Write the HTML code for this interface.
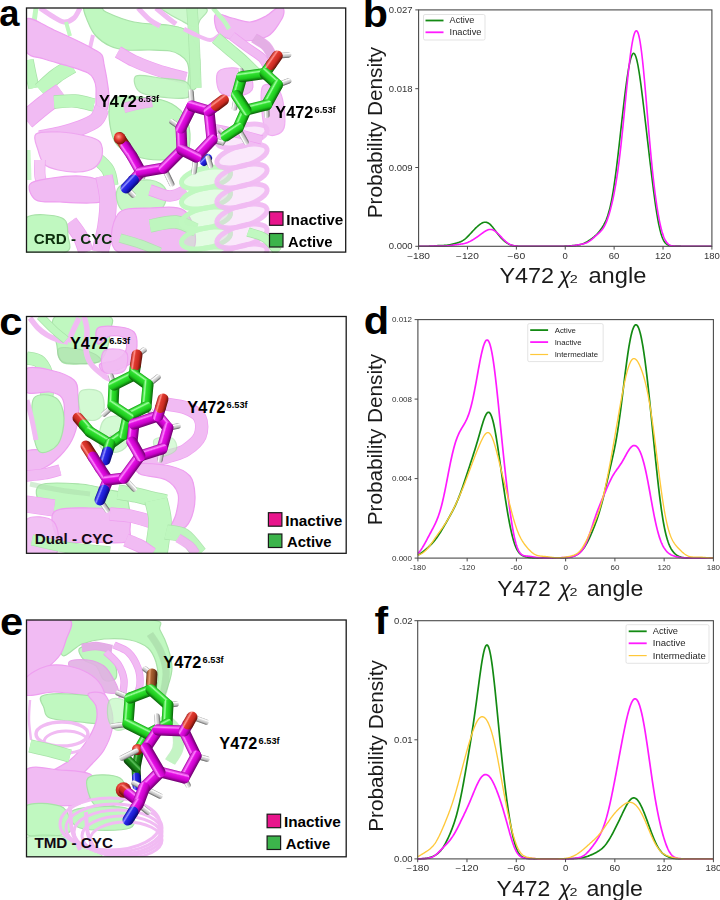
<!DOCTYPE html>
<html><head><meta charset="utf-8"><title>Figure</title>
<style>
html,body{margin:0;padding:0;background:#fff;width:720px;height:900px;overflow:hidden;}
svg{display:block;font-family:"Liberation Sans", sans-serif;}
</style></head><body>
<svg width="720" height="900" viewBox="0 0 720 900">
<g font-weight="bold" font-size="38.5" fill="#000" text-anchor="middle">
<text x="9.4" y="26.3" textLength="20.2" lengthAdjust="spacingAndGlyphs" font-size="37">a</text>
<text x="375.3" y="26.6" textLength="25.2" lengthAdjust="spacingAndGlyphs">b</text>
<text x="10.9" y="334.6" textLength="23.2" lengthAdjust="spacingAndGlyphs">c</text>
<text x="376.4" y="334.4" textLength="25.4" lengthAdjust="spacingAndGlyphs">d</text>
<text x="11.7" y="634.7" textLength="23.2" lengthAdjust="spacingAndGlyphs">e</text>
<text x="381.4" y="634.3" textLength="13.6" lengthAdjust="spacingAndGlyphs">f</text>
</g>
<defs><clipPath id="ca"><rect x="26.5" y="8" width="319.2" height="244.1"/></clipPath><clipPath id="cc"><rect x="26.5" y="316.5" width="319.7" height="236.8"/></clipPath><clipPath id="ce"><rect x="26.5" y="620" width="319.7" height="236.8"/></clipPath><filter id="soft" x="-5%" y="-5%" width="110%" height="110%"><feGaussianBlur stdDeviation="0.6"/></filter></defs>
<g clip-path="url(#ca)"><g filter="url(#soft)">
<path d="M84.0,6.0 C82.0,8.7 86.0,17.0 88.0,22.0 C90.0,27.0 92.3,32.0 96.0,36.0 C99.7,40.0 105.0,43.7 110.0,46.0 C115.0,48.3 119.3,49.3 126.0,50.0 C132.7,50.7 142.7,49.8 150.0,50.0 C157.3,50.2 165.0,50.2 170.0,51.0 C175.0,51.8 177.2,53.2 180.0,55.0 C182.8,56.8 185.5,59.2 187.0,62.0 C188.5,64.8 188.8,67.7 189.0,72.0 C189.2,76.3 186.8,85.3 188.0,88.0 C189.2,90.7 194.0,91.0 196.0,88.0 C198.0,85.0 199.7,76.3 200.0,70.0 C200.3,63.7 199.3,55.3 198.0,50.0 C196.7,44.7 194.3,41.5 192.0,38.0 C189.7,34.5 188.0,31.2 184.0,29.0 C180.0,26.8 176.3,26.2 168.0,25.0 C159.7,23.8 144.3,24.2 134.0,22.0 C123.7,19.8 111.7,14.7 106.0,12.0 C100.3,9.3 103.7,7.0 100.0,6.0 C96.3,5.0 86.0,3.3 84.0,6.0 Z" fill="#c0f8c0" opacity="1.00" stroke="#a8e2a8" stroke-width="1.2"/>
<path d="M160.0,6.0 C153.5,6.7 162.7,9.7 166.0,12.0 C169.3,14.3 175.2,17.5 180.0,20.0 C184.8,22.5 191.7,27.0 195.0,27.0 C198.3,27.0 198.3,23.2 200.0,20.0 C201.7,16.8 211.7,10.3 205.0,8.0 C198.3,5.7 166.5,5.3 160.0,6.0 Z" fill="#cdf9cd" opacity="1.00" stroke="#b0e4b0" stroke-width="1.2"/>
<path d="M192.0,8.0 C192.3,13.3 193.3,26.7 194.0,40.0 C194.7,53.3 195.7,80.0 196.0,88.0" fill="none" stroke="#a8e2a8" stroke-width="11.4" stroke-linecap="butt" stroke-linejoin="round" opacity="0.85"/><path d="M192.0,8.0 C192.3,13.3 193.3,26.7 194.0,40.0 C194.7,53.3 195.7,80.0 196.0,88.0" fill="none" stroke="#c0f8c0" stroke-width="10.0" stroke-linecap="butt" stroke-linejoin="round" opacity="0.85"/>
<path d="M216.0,14.0 C218.7,12.3 226.3,16.7 232.0,18.0 C237.7,19.3 244.3,22.3 250.0,22.0 C255.7,21.7 261.0,18.7 266.0,16.0 C271.0,13.3 277.0,6.7 280.0,6.0 C283.0,5.3 284.0,9.3 284.0,12.0 C284.0,14.7 282.7,18.0 280.0,22.0 C277.3,26.0 273.8,32.8 268.0,36.0 C262.2,39.2 252.3,40.8 245.0,41.0 C237.7,41.2 228.8,39.2 224.0,37.0 C219.2,34.8 217.3,31.8 216.0,28.0 C214.7,24.2 213.3,15.7 216.0,14.0 Z" fill="#f1bbf3" opacity="1.00" stroke="#ee9ff0" stroke-width="1.2"/>
<path d="M232.0,36.0 C234.7,38.0 243.0,44.3 248.0,48.0 C253.0,51.7 258.7,54.7 262.0,58.0 C265.3,61.3 267.0,66.3 268.0,68.0" fill="none" stroke="#ee9ff0" stroke-width="9.4" stroke-linecap="butt" stroke-linejoin="round" opacity="1.00"/><path d="M232.0,36.0 C234.7,38.0 243.0,44.3 248.0,48.0 C253.0,51.7 258.7,54.7 262.0,58.0 C265.3,61.3 267.0,66.3 268.0,68.0" fill="none" stroke="#f1bbf3" stroke-width="8.0" stroke-linecap="butt" stroke-linejoin="round" opacity="1.00"/>
<path d="M254.0,38.0 C256.0,39.3 263.0,43.0 266.0,46.0 C269.0,49.0 271.0,54.3 272.0,56.0" fill="none" stroke="#e69ae8" stroke-width="10.4" stroke-linecap="butt" stroke-linejoin="round" opacity="0.80"/><path d="M254.0,38.0 C256.0,39.3 263.0,43.0 266.0,46.0 C269.0,49.0 271.0,54.3 272.0,56.0" fill="none" stroke="#e2b0e4" stroke-width="9.0" stroke-linecap="butt" stroke-linejoin="round" opacity="0.80"/>
<path d="M190.0,32.0 C193.3,33.3 204.7,39.8 210.0,40.0 C215.3,40.2 218.3,34.7 222.0,33.0 C225.7,31.3 230.3,30.5 232.0,30.0" fill="none" stroke="#f1bbf3" stroke-width="4.0" stroke-linecap="butt" stroke-linejoin="round" opacity="1.00"/>
<path d="M213.0,8.0 C214.8,10.2 221.3,17.5 224.0,21.0 C226.7,24.5 228.2,27.7 229.0,29.0" fill="none" stroke="#c0f8c0" stroke-width="4.5" stroke-linecap="butt" stroke-linejoin="round" opacity="1.00"/>
<path d="M40.0,8.0 C42.0,9.3 48.0,13.7 52.0,16.0 C56.0,18.3 60.3,21.7 64.0,22.0 C67.7,22.3 71.3,20.3 74.0,18.0 C76.7,15.7 79.0,9.7 80.0,8.0" fill="none" stroke="#f1bbf3" stroke-width="5.0" stroke-linecap="butt" stroke-linejoin="round" opacity="1.00"/>
<path d="M138.0,8.0 C140.0,10.0 146.3,17.0 150.0,20.0 C153.7,23.0 158.3,25.0 160.0,26.0" fill="none" stroke="#f1bbf3" stroke-width="5.0" stroke-linecap="butt" stroke-linejoin="round" opacity="1.00"/>
<path d="M156.0,8.0 C158.0,9.7 164.7,15.3 168.0,18.0 C171.3,20.7 174.7,23.0 176.0,24.0" fill="none" stroke="#f1bbf3" stroke-width="5.0" stroke-linecap="butt" stroke-linejoin="round" opacity="1.00"/>
<path d="M184.0,29.0 L196.0,35.0" fill="none" stroke="#f1bbf3" stroke-width="4.5" stroke-linecap="butt" stroke-linejoin="round" opacity="1.00"/>
<path d="M93.0,35.0 L90.0,48.0" fill="none" stroke="#f1bbf3" stroke-width="4.0" stroke-linecap="butt" stroke-linejoin="round" opacity="1.00"/>
<path d="M36.0,8.0 L34.0,22.0" fill="none" stroke="#c0f8c0" stroke-width="5.0" stroke-linecap="butt" stroke-linejoin="round" opacity="1.00"/>
<path d="M66.0,22.0 L70.0,36.0" fill="none" stroke="#c0f8c0" stroke-width="4.0" stroke-linecap="butt" stroke-linejoin="round" opacity="1.00"/>
<path d="M216.0,38.0 C218.3,40.0 225.3,46.0 230.0,50.0 C234.7,54.0 239.7,58.0 244.0,62.0 C248.3,66.0 254.0,72.0 256.0,74.0" fill="none" stroke="#a8e2a8" stroke-width="12.4" stroke-linecap="butt" stroke-linejoin="round" opacity="1.00"/><path d="M216.0,38.0 C218.3,40.0 225.3,46.0 230.0,50.0 C234.7,54.0 239.7,58.0 244.0,62.0 C248.3,66.0 254.0,72.0 256.0,74.0" fill="none" stroke="#c0f8c0" stroke-width="11.0" stroke-linecap="butt" stroke-linejoin="round" opacity="1.00"/>
<path d="M218.0,72.0 C220.7,68.0 230.7,67.3 236.0,68.0 C241.3,68.7 247.3,72.3 250.0,76.0 C252.7,79.7 254.0,86.7 252.0,90.0 C250.0,93.3 243.3,95.7 238.0,96.0 C232.7,96.3 223.3,96.0 220.0,92.0 C216.7,88.0 215.3,76.0 218.0,72.0 Z" fill="#f1bbf3" opacity="0.90" stroke="#ee9ff0" stroke-width="1.2"/>
<path d="M262.0,88.0 C264.3,81.3 276.3,85.3 280.0,92.0 C283.7,98.7 286.3,121.3 284.0,128.0 C281.7,134.7 269.7,138.7 266.0,132.0 C262.3,125.3 259.7,94.7 262.0,88.0 Z" fill="#f1bbf3" opacity="0.85" stroke="#ee9ff0" stroke-width="1.2"/>
<path d="M28.0,60.0 C28.5,62.5 30.0,70.3 31.0,75.0 C32.0,79.7 33.5,85.8 34.0,88.0" fill="none" stroke="#a8e2a8" stroke-width="11.4" stroke-linecap="butt" stroke-linejoin="round" opacity="1.00"/><path d="M28.0,60.0 C28.5,62.5 30.0,70.3 31.0,75.0 C32.0,79.7 33.5,85.8 34.0,88.0" fill="none" stroke="#c0f8c0" stroke-width="10.0" stroke-linecap="butt" stroke-linejoin="round" opacity="1.00"/>
<path d="M40.0,90.0 C42.7,87.7 50.7,80.0 56.0,76.0 C61.3,72.0 69.3,67.7 72.0,66.0" fill="none" stroke="#a8e2a8" stroke-width="15.4" stroke-linecap="butt" stroke-linejoin="round" opacity="1.00"/><path d="M40.0,90.0 C42.7,87.7 50.7,80.0 56.0,76.0 C61.3,72.0 69.3,67.7 72.0,66.0" fill="none" stroke="#c0f8c0" stroke-width="14.0" stroke-linecap="butt" stroke-linejoin="round" opacity="1.00"/>
<path d="M26.0,19.0 C30.7,15.5 44.7,26.0 54.0,30.0 C63.3,34.0 75.2,39.7 82.0,43.0 C88.8,46.3 91.7,48.0 95.0,50.0 C98.3,52.0 100.5,52.7 102.0,55.0 C103.5,57.3 103.2,59.8 104.0,64.0 C104.8,68.2 106.2,74.3 107.0,80.0 C107.8,85.7 109.2,92.7 109.0,98.0 C108.8,103.3 107.8,108.7 106.0,112.0 C104.2,115.3 99.7,119.3 98.0,118.0 C96.3,116.7 96.3,109.0 96.0,104.0 C95.7,99.0 96.3,92.0 96.0,88.0 C95.7,84.0 95.3,82.5 94.0,80.0 C92.7,77.5 92.3,75.3 88.0,73.0 C83.7,70.7 75.3,68.3 68.0,66.0 C60.7,63.7 51.0,61.5 44.0,59.0 C37.0,56.5 29.0,57.7 26.0,51.0 C23.0,44.3 21.3,22.5 26.0,19.0 Z" fill="#f1bbf3" opacity="1.00" stroke="#ee9ff0" stroke-width="1.2"/>
<path d="M102.0,108.0 C101.0,110.0 99.7,116.7 96.0,120.0 C92.3,123.3 86.0,125.7 80.0,128.0 C74.0,130.3 66.7,132.3 60.0,134.0 C53.3,135.7 43.3,137.3 40.0,138.0" fill="none" stroke="#ee9ff0" stroke-width="15.4" stroke-linecap="butt" stroke-linejoin="round" opacity="1.00"/><path d="M102.0,108.0 C101.0,110.0 99.7,116.7 96.0,120.0 C92.3,123.3 86.0,125.7 80.0,128.0 C74.0,130.3 66.7,132.3 60.0,134.0 C53.3,135.7 43.3,137.3 40.0,138.0" fill="none" stroke="#f1bbf3" stroke-width="14.0" stroke-linecap="butt" stroke-linejoin="round" opacity="1.00"/>
<path d="M26.0,120.0 C29.0,117.5 38.0,109.7 44.0,105.0 C50.0,100.3 59.0,94.2 62.0,92.0" fill="none" stroke="#ee9ff0" stroke-width="19.4" stroke-linecap="butt" stroke-linejoin="round" opacity="1.00"/><path d="M26.0,120.0 C29.0,117.5 38.0,109.7 44.0,105.0 C50.0,100.3 59.0,94.2 62.0,92.0" fill="none" stroke="#f1bbf3" stroke-width="18.0" stroke-linecap="butt" stroke-linejoin="round" opacity="1.00"/>
<path d="M54.0,102.0 C57.5,101.8 68.3,100.5 75.0,101.0 C81.7,101.5 90.8,104.3 94.0,105.0" fill="none" stroke="#a8e2a8" stroke-width="13.4" stroke-linecap="butt" stroke-linejoin="round" opacity="1.00"/><path d="M54.0,102.0 C57.5,101.8 68.3,100.5 75.0,101.0 C81.7,101.5 90.8,104.3 94.0,105.0" fill="none" stroke="#c0f8c0" stroke-width="12.0" stroke-linecap="butt" stroke-linejoin="round" opacity="1.00"/>
<path d="M112.0,100.0 C118.0,93.0 140.0,97.3 150.0,98.0 C160.0,98.7 166.0,100.7 172.0,104.0 C178.0,107.3 183.0,112.0 186.0,118.0 C189.0,124.0 190.3,133.7 190.0,140.0 C189.7,146.3 189.0,152.7 184.0,156.0 C179.0,159.3 168.0,160.0 160.0,160.0 C152.0,160.0 143.7,159.3 136.0,156.0 C128.3,152.7 118.0,149.3 114.0,140.0 C110.0,130.7 106.0,107.0 112.0,100.0 Z" fill="#c0f8c0" opacity="1.00" stroke="#a8e2a8" stroke-width="1.2"/>
<path d="M124.0,108.0 C126.7,107.3 135.3,105.0 140.0,104.0 C144.7,103.0 150.0,102.3 152.0,102.0" fill="none" stroke="#ee9ff0" stroke-width="10.4" stroke-linecap="butt" stroke-linejoin="round" opacity="0.80"/><path d="M124.0,108.0 C126.7,107.3 135.3,105.0 140.0,104.0 C144.7,103.0 150.0,102.3 152.0,102.0" fill="none" stroke="#f1bbf3" stroke-width="9.0" stroke-linecap="butt" stroke-linejoin="round" opacity="0.80"/>
<path d="M118.0,52.0 C120.7,53.5 128.0,58.2 134.0,61.0 C140.0,63.8 148.0,66.8 154.0,69.0 C160.0,71.2 164.7,72.5 170.0,74.0 C175.3,75.5 183.3,77.3 186.0,78.0" fill="none" stroke="#ee9ff0" stroke-width="12.4" stroke-linecap="butt" stroke-linejoin="round" opacity="1.00"/><path d="M118.0,52.0 C120.7,53.5 128.0,58.2 134.0,61.0 C140.0,63.8 148.0,66.8 154.0,69.0 C160.0,71.2 164.7,72.5 170.0,74.0 C175.3,75.5 183.3,77.3 186.0,78.0" fill="none" stroke="#f1bbf3" stroke-width="11.0" stroke-linecap="butt" stroke-linejoin="round" opacity="1.00"/>
<path d="M136.0,76.0 C139.3,73.7 151.7,77.0 160.0,78.0 C168.3,79.0 181.0,79.0 186.0,82.0 C191.0,85.0 192.7,93.3 190.0,96.0 C187.3,98.7 178.3,98.7 170.0,98.0 C161.7,97.3 145.7,95.7 140.0,92.0 C134.3,88.3 132.7,78.3 136.0,76.0 Z" fill="#c0f8c0" opacity="0.90" stroke="#a8e2a8" stroke-width="1.2"/>
<path d="M82.0,150.0 C84.3,151.3 91.7,154.7 96.0,158.0 C100.3,161.3 105.3,165.3 108.0,170.0 C110.7,174.7 111.3,183.3 112.0,186.0" fill="none" stroke="#a8e2a8" stroke-width="13.4" stroke-linecap="butt" stroke-linejoin="round" opacity="1.00"/><path d="M82.0,150.0 C84.3,151.3 91.7,154.7 96.0,158.0 C100.3,161.3 105.3,165.3 108.0,170.0 C110.7,174.7 111.3,183.3 112.0,186.0" fill="none" stroke="#c0f8c0" stroke-width="12.0" stroke-linecap="butt" stroke-linejoin="round" opacity="1.00"/>
<path d="M56.0,190.0 C59.0,190.3 68.0,191.3 74.0,192.0 C80.0,192.7 89.0,193.7 92.0,194.0" fill="none" stroke="#a8e2a8" stroke-width="11.4" stroke-linecap="butt" stroke-linejoin="round" opacity="1.00"/><path d="M56.0,190.0 C59.0,190.3 68.0,191.3 74.0,192.0 C80.0,192.7 89.0,193.7 92.0,194.0" fill="none" stroke="#c0f8c0" stroke-width="10.0" stroke-linecap="butt" stroke-linejoin="round" opacity="1.00"/>
<path d="M36.0,134.0 C39.7,131.0 51.7,131.7 60.0,132.0 C68.3,132.3 79.3,134.3 86.0,136.0 C92.7,137.7 97.3,138.7 100.0,142.0 C102.7,145.3 103.0,151.7 102.0,156.0 C101.0,160.3 98.0,165.3 94.0,168.0 C90.0,170.7 84.0,171.7 78.0,172.0 C72.0,172.3 63.7,171.3 58.0,170.0 C52.3,168.7 47.3,167.3 44.0,164.0 C40.7,160.7 39.3,155.0 38.0,150.0 C36.7,145.0 32.3,137.0 36.0,134.0 Z" fill="#f5c8f5" opacity="1.00" stroke="#eea6f0" stroke-width="1.2"/>
<path d="M40.0,160.0 C40.0,162.7 39.3,171.0 40.0,176.0 C40.7,181.0 43.3,187.7 44.0,190.0" fill="none" stroke="#eea6f0" stroke-width="11.4" stroke-linecap="butt" stroke-linejoin="round" opacity="1.00"/><path d="M40.0,160.0 C40.0,162.7 39.3,171.0 40.0,176.0 C40.7,181.0 43.3,187.7 44.0,190.0" fill="none" stroke="#f5c8f5" stroke-width="10.0" stroke-linecap="butt" stroke-linejoin="round" opacity="1.00"/>
<path d="M30.0,184.0 C32.7,180.3 43.7,179.3 52.0,178.0 C60.3,176.7 72.0,175.7 80.0,176.0 C88.0,176.3 94.7,178.0 100.0,180.0 C105.3,182.0 110.7,184.7 112.0,188.0 C113.3,191.3 111.7,197.5 108.0,200.0 C104.3,202.5 98.0,202.7 90.0,203.0 C82.0,203.3 69.0,202.5 60.0,202.0 C51.0,201.5 41.0,203.0 36.0,200.0 C31.0,197.0 27.3,187.7 30.0,184.0 Z" fill="#f1bbf3" opacity="1.00" stroke="#ee9ff0" stroke-width="1.2"/>
<path d="M104.0,176.0 C104.7,180.0 107.7,191.7 108.0,200.0 C108.3,208.3 107.3,217.3 106.0,226.0 C104.7,234.7 101.0,247.7 100.0,252.0" fill="none" stroke="#ee9ff0" stroke-width="17.4" stroke-linecap="butt" stroke-linejoin="round" opacity="1.00"/><path d="M104.0,176.0 C104.7,180.0 107.7,191.7 108.0,200.0 C108.3,208.3 107.3,217.3 106.0,226.0 C104.7,234.7 101.0,247.7 100.0,252.0" fill="none" stroke="#f1bbf3" stroke-width="16.0" stroke-linecap="butt" stroke-linejoin="round" opacity="1.00"/>
<path d="M70.0,222.0 C71.7,224.3 77.3,231.0 80.0,236.0 C82.7,241.0 85.0,249.3 86.0,252.0" fill="none" stroke="#ee9ff0" stroke-width="15.4" stroke-linecap="butt" stroke-linejoin="round" opacity="1.00"/><path d="M70.0,222.0 C71.7,224.3 77.3,231.0 80.0,236.0 C82.7,241.0 85.0,249.3 86.0,252.0" fill="none" stroke="#f1bbf3" stroke-width="14.0" stroke-linecap="butt" stroke-linejoin="round" opacity="1.00"/>
<path d="M26.0,218.0 C32.0,212.3 55.0,215.0 62.0,218.0 C69.0,221.0 67.3,230.3 68.0,236.0 C68.7,241.7 73.0,249.3 66.0,252.0 C59.0,254.7 32.7,257.7 26.0,252.0 C19.3,246.3 20.0,223.7 26.0,218.0 Z" fill="#c0f8c0" opacity="1.00" stroke="#a8e2a8" stroke-width="1.2"/>
<path d="M28.0,150.0 L29.0,180.0" fill="none" stroke="#c0f8c0" stroke-width="5.0" stroke-linecap="butt" stroke-linejoin="round" opacity="0.80"/>
<path d="M120.0,186.0 C125.3,182.0 142.3,179.3 150.0,180.0 C157.7,180.7 164.3,185.0 166.0,190.0 C167.7,195.0 166.0,206.0 160.0,210.0 C154.0,214.0 137.0,215.0 130.0,214.0 C123.0,213.0 119.7,208.7 118.0,204.0 C116.3,199.3 114.7,190.0 120.0,186.0 Z" fill="#c0f8c0" opacity="0.90" stroke="#a8e2a8" stroke-width="1.2"/>
<path d="M118.0,214.0 C123.3,206.7 138.7,208.3 150.0,208.0 C161.3,207.7 179.3,204.7 186.0,212.0 C192.7,219.3 201.3,245.3 190.0,252.0 C178.7,258.7 130.0,258.3 118.0,252.0 C106.0,245.7 112.7,221.3 118.0,214.0 Z" fill="#f1bbf3" opacity="1.00" stroke="#ee9ff0" stroke-width="1.2"/>
<path d="M150.0,190.0 C153.3,191.0 164.0,196.0 170.0,196.0 C176.0,196.0 183.3,191.0 186.0,190.0" fill="none" stroke="#ee9ff0" stroke-width="11.4" stroke-linecap="butt" stroke-linejoin="round" opacity="1.00"/><path d="M150.0,190.0 C153.3,191.0 164.0,196.0 170.0,196.0 C176.0,196.0 183.3,191.0 186.0,190.0" fill="none" stroke="#f1bbf3" stroke-width="10.0" stroke-linecap="butt" stroke-linejoin="round" opacity="1.00"/>
<path d="M150.0,226.0 C154.3,225.3 168.3,221.3 176.0,222.0 C183.7,222.7 192.7,228.7 196.0,230.0" fill="none" stroke="#a8e2a8" stroke-width="13.4" stroke-linecap="butt" stroke-linejoin="round" opacity="0.90"/><path d="M150.0,226.0 C154.3,225.3 168.3,221.3 176.0,222.0 C183.7,222.7 192.7,228.7 196.0,230.0" fill="none" stroke="#c0f8c0" stroke-width="12.0" stroke-linecap="butt" stroke-linejoin="round" opacity="0.90"/>
<path d="M120.0,238.0 C123.3,239.0 133.3,241.7 140.0,244.0 C146.7,246.3 156.7,250.7 160.0,252.0" fill="none" stroke="#a8e2a8" stroke-width="9.4" stroke-linecap="butt" stroke-linejoin="round" opacity="0.80"/><path d="M120.0,238.0 C123.3,239.0 133.3,241.7 140.0,244.0 C146.7,246.3 156.7,250.7 160.0,252.0" fill="none" stroke="#c0f8c0" stroke-width="8.0" stroke-linecap="butt" stroke-linejoin="round" opacity="0.80"/>
<ellipse cx="206" cy="178" rx="25" ry="10" transform="rotate(-12 206 178)" fill="#c0f8c0" fill-opacity="0.45" stroke="#c0f8c0" stroke-width="5"/>
<ellipse cx="206" cy="198" rx="25" ry="10" transform="rotate(-12 206 198)" fill="#c0f8c0" fill-opacity="0.45" stroke="#c0f8c0" stroke-width="5"/>
<ellipse cx="206" cy="218" rx="25" ry="10" transform="rotate(-12 206 218)" fill="#c0f8c0" fill-opacity="0.45" stroke="#c0f8c0" stroke-width="5"/>
<ellipse cx="206" cy="238" rx="25" ry="10" transform="rotate(-12 206 238)" fill="#c0f8c0" fill-opacity="0.45" stroke="#c0f8c0" stroke-width="5"/>
<ellipse cx="206" cy="258" rx="25" ry="10" transform="rotate(-12 206 258)" fill="#c0f8c0" fill-opacity="0.45" stroke="#c0f8c0" stroke-width="5"/>
<ellipse cx="242" cy="136" rx="26" ry="10" transform="rotate(-16 242 136)" fill="#f1bbf3" fill-opacity="0.35" stroke="#f1bbf3" stroke-width="5" opacity="0.95"/>
<ellipse cx="242" cy="156" rx="26" ry="10" transform="rotate(-16 242 156)" fill="#f1bbf3" fill-opacity="0.35" stroke="#f1bbf3" stroke-width="5" opacity="0.95"/>
<ellipse cx="242" cy="176" rx="26" ry="10" transform="rotate(-16 242 176)" fill="#f1bbf3" fill-opacity="0.35" stroke="#f1bbf3" stroke-width="5" opacity="0.95"/>
<ellipse cx="242" cy="196" rx="26" ry="10" transform="rotate(-16 242 196)" fill="#f1bbf3" fill-opacity="0.35" stroke="#f1bbf3" stroke-width="5" opacity="0.95"/>
<ellipse cx="242" cy="216" rx="26" ry="10" transform="rotate(-16 242 216)" fill="#f1bbf3" fill-opacity="0.35" stroke="#f1bbf3" stroke-width="5" opacity="0.95"/>
<ellipse cx="242" cy="236" rx="26" ry="10" transform="rotate(-16 242 236)" fill="#f1bbf3" fill-opacity="0.35" stroke="#f1bbf3" stroke-width="5" opacity="0.95"/>
<ellipse cx="242" cy="256" rx="26" ry="10" transform="rotate(-16 242 256)" fill="#f1bbf3" fill-opacity="0.35" stroke="#f1bbf3" stroke-width="5" opacity="0.95"/>
<path d="M212.0,128.0 C216.7,129.0 231.7,132.0 240.0,134.0 C248.3,136.0 258.3,139.0 262.0,140.0" fill="none" stroke="#ee9ff0" stroke-width="9.4" stroke-linecap="butt" stroke-linejoin="round" opacity="1.00"/><path d="M212.0,128.0 C216.7,129.0 231.7,132.0 240.0,134.0 C248.3,136.0 258.3,139.0 262.0,140.0" fill="none" stroke="#f1bbf3" stroke-width="8.0" stroke-linecap="butt" stroke-linejoin="round" opacity="1.00"/>
<path d="M248.0,232.0 C250.8,233.0 260.0,234.7 265.0,238.0 C270.0,241.3 275.8,249.7 278.0,252.0" fill="none" stroke="#a8e2a8" stroke-width="9.4" stroke-linecap="butt" stroke-linejoin="round" opacity="1.00"/><path d="M248.0,232.0 C250.8,233.0 260.0,234.7 265.0,238.0 C270.0,241.3 275.8,249.7 278.0,252.0" fill="none" stroke="#c0f8c0" stroke-width="8.0" stroke-linecap="butt" stroke-linejoin="round" opacity="1.00"/>
</g>
<line x1="288.7" y1="54.9" x2="277.3" y2="55.9" stroke="url(#g1)" stroke-width="5.5" stroke-linecap="round"/>
<line x1="288.7" y1="80.9" x2="277.5" y2="85.0" stroke="url(#g2)" stroke-width="5.5" stroke-linecap="round"/>
<line x1="266.8" y1="115.3" x2="266.5" y2="105.0" stroke="url(#g3)" stroke-width="5.5" stroke-linecap="round"/>
<line x1="240.8" y1="70.5" x2="241.8" y2="76.8" stroke="url(#g4)" stroke-width="5.5" stroke-linecap="round"/>
<line x1="234.5" y1="108.0" x2="236.6" y2="95.5" stroke="url(#g5)" stroke-width="5.5" stroke-linecap="round"/>
<line x1="246.0" y1="142.0" x2="238.0" y2="128.0" stroke="url(#g6)" stroke-width="5.5" stroke-linecap="round"/>
<line x1="221.0" y1="131.0" x2="226.0" y2="136.0" stroke="url(#g7)" stroke-width="5.5" stroke-linecap="round"/>
<line x1="222.0" y1="143.0" x2="226.0" y2="136.0" stroke="url(#g8)" stroke-width="5.5" stroke-linecap="round"/>
<line x1="246.0" y1="110.1" x2="238.0" y2="128.0" stroke="url(#g9)" stroke-width="11.0" stroke-linecap="round"/>
<line x1="238.0" y1="128.0" x2="226.0" y2="136.0" stroke="url(#g10)" stroke-width="11.0" stroke-linecap="round"/>
<line x1="265.0" y1="73.5" x2="271.1" y2="64.7" stroke="url(#g11)" stroke-width="11.0" stroke-linecap="round"/><line x1="271.1" y1="64.7" x2="277.3" y2="55.9" stroke="url(#g12)" stroke-width="11.0" stroke-linecap="round"/>
<line x1="236.6" y1="95.5" x2="241.8" y2="76.8" stroke="url(#g13)" stroke-width="11.0" stroke-linecap="round"/>
<line x1="241.8" y1="76.8" x2="265.0" y2="73.5" stroke="url(#g14)" stroke-width="11.0" stroke-linecap="round"/>
<line x1="265.0" y1="73.5" x2="277.5" y2="85.0" stroke="url(#g15)" stroke-width="11.0" stroke-linecap="round"/>
<line x1="277.5" y1="85.0" x2="266.5" y2="105.0" stroke="url(#g16)" stroke-width="11.0" stroke-linecap="round"/>
<line x1="266.5" y1="105.0" x2="246.0" y2="110.1" stroke="url(#g17)" stroke-width="11.0" stroke-linecap="round"/>
<line x1="246.0" y1="110.1" x2="236.6" y2="95.5" stroke="url(#g18)" stroke-width="11.0" stroke-linecap="round"/>
<line x1="208.0" y1="158.0" x2="204.0" y2="162.0" stroke="url(#g19)" stroke-width="8.0" stroke-linecap="round"/>
<line x1="210.4" y1="165.6" x2="208.0" y2="158.0" stroke="url(#g20)" stroke-width="5.5" stroke-linecap="round"/>
<line x1="142.5" y1="177.0" x2="141.0" y2="172.0" stroke="url(#g21)" stroke-width="5.5" stroke-linecap="round"/>
<line x1="171.7" y1="184.0" x2="164.0" y2="168.0" stroke="url(#g22)" stroke-width="5.5" stroke-linecap="round"/>
<line x1="194.0" y1="172.0" x2="196.0" y2="157.0" stroke="url(#g23)" stroke-width="5.5" stroke-linecap="round"/>
<line x1="220.6" y1="142.2" x2="212.0" y2="140.0" stroke="url(#g24)" stroke-width="5.5" stroke-linecap="round"/>
<line x1="172.0" y1="121.8" x2="181.0" y2="128.0" stroke="url(#g25)" stroke-width="5.5" stroke-linecap="round"/>
<line x1="133.0" y1="195.0" x2="126.0" y2="188.0" stroke="url(#g26)" stroke-width="5.5" stroke-linecap="round"/>
<line x1="191.0" y1="92.0" x2="192.0" y2="106.0" stroke="url(#g27)" stroke-width="5.5" stroke-linecap="round"/>
<line x1="119.4" y1="137.4" x2="125.7" y2="146.7" stroke="url(#g28)" stroke-width="11.0" stroke-linecap="round"/><line x1="125.7" y1="146.7" x2="132.0" y2="156.0" stroke="url(#g29)" stroke-width="11.0" stroke-linecap="round"/>
<circle cx="119.8" cy="138.5" r="6.0" fill="url(#r30)"/>
<line x1="132.0" y1="156.0" x2="141.0" y2="172.0" stroke="url(#g31)" stroke-width="11.0" stroke-linecap="round"/>
<line x1="141.0" y1="172.0" x2="133.5" y2="180.0" stroke="url(#g32)" stroke-width="11.0" stroke-linecap="round"/><line x1="133.5" y1="180.0" x2="126.0" y2="188.0" stroke="url(#g33)" stroke-width="11.0" stroke-linecap="round"/>
<line x1="141.0" y1="172.0" x2="164.0" y2="168.0" stroke="url(#g34)" stroke-width="11.0" stroke-linecap="round"/>
<line x1="164.0" y1="168.0" x2="182.0" y2="150.0" stroke="url(#g35)" stroke-width="11.0" stroke-linecap="round"/>
<line x1="182.0" y1="150.0" x2="181.0" y2="128.0" stroke="url(#g36)" stroke-width="11.0" stroke-linecap="round"/>
<line x1="181.0" y1="128.0" x2="192.0" y2="106.0" stroke="url(#g37)" stroke-width="11.0" stroke-linecap="round"/>
<line x1="192.0" y1="106.0" x2="209.0" y2="111.0" stroke="url(#g38)" stroke-width="11.0" stroke-linecap="round"/>
<line x1="209.0" y1="111.0" x2="212.0" y2="140.0" stroke="url(#g39)" stroke-width="11.0" stroke-linecap="round"/>
<line x1="212.0" y1="140.0" x2="196.0" y2="157.0" stroke="url(#g40)" stroke-width="11.0" stroke-linecap="round"/>
<line x1="196.0" y1="157.0" x2="182.0" y2="150.0" stroke="url(#g41)" stroke-width="11.0" stroke-linecap="round"/>
<line x1="209.0" y1="111.0" x2="216.2" y2="105.5" stroke="url(#g42)" stroke-width="11.0" stroke-linecap="round"/><line x1="216.2" y1="105.5" x2="223.5" y2="100.0" stroke="url(#g43)" stroke-width="11.0" stroke-linecap="round"/>
<text x="98.9" y="106.5" font-size="16.3" font-weight="bold" fill="#000">Y472<tspan x="138.2" font-size="9.3" dy="-5.0" textLength="21" lengthAdjust="spacingAndGlyphs">6.53f</tspan></text>
<text x="275.3" y="118.0" font-size="16.3" font-weight="bold" fill="#000">Y472<tspan x="314.6" font-size="9.3" dy="-5.0" textLength="21" lengthAdjust="spacingAndGlyphs">6.53f</tspan></text>
<text x="33.8" y="243.5" font-size="14.4" font-weight="bold" fill="#0c2e0c" textLength="78.5" lengthAdjust="spacingAndGlyphs">CRD - CYC</text>
<rect x="269.5" y="211.8" width="13.5" height="13.5" fill="#e8158c" stroke="#1a1a1a" stroke-width="1.2"/><rect x="269.5" y="233.5" width="13.5" height="13.5" fill="#3cb44b" stroke="#1a1a1a" stroke-width="1.2"/><text x="286.3" y="225.0" font-size="14.6" font-weight="bold" fill="#000" textLength="57" lengthAdjust="spacingAndGlyphs">Inactive</text><text x="288.1" y="246.5" font-size="14.6" font-weight="bold" fill="#000" textLength="44.5" lengthAdjust="spacingAndGlyphs">Active</text></g>
<g clip-path="url(#cc)"><g filter="url(#soft)">
<path d="M56.0,316.0 C64.5,311.0 99.0,313.3 108.0,316.0 C117.0,318.7 110.3,326.0 110.0,332.0 C109.7,338.0 108.0,347.0 106.0,352.0 C104.0,357.0 102.3,360.0 98.0,362.0 C93.7,364.0 86.0,364.0 80.0,364.0 C74.0,364.0 65.8,365.0 62.0,362.0 C58.2,359.0 58.0,353.7 57.0,346.0 C56.0,338.3 47.5,321.0 56.0,316.0 Z" fill="#c0f8c0" opacity="1.00" stroke="#a8e2a8" stroke-width="1.2"/>
<path d="M60.0,348.0 C64.3,346.3 83.3,349.7 90.0,352.0 C96.7,354.3 104.3,360.3 100.0,362.0 C95.7,363.7 70.7,364.3 64.0,362.0 C57.3,359.7 55.7,349.7 60.0,348.0 Z" fill="#acdcac" opacity="0.50" stroke="#98c898" stroke-width="1.2"/>
<path d="M30.0,318.0 C31.3,319.7 35.2,325.2 38.0,328.0 C40.8,330.8 43.7,333.0 47.0,335.0 C50.3,337.0 54.5,338.8 58.0,340.0 C61.5,341.2 66.3,341.7 68.0,342.0" fill="none" stroke="#f1bbf3" stroke-width="5.5" stroke-linecap="butt" stroke-linejoin="round" opacity="1.00"/>
<path d="M68.0,342.0 C68.7,340.5 70.2,337.0 72.0,333.0 C73.8,329.0 77.8,320.5 79.0,318.0" fill="none" stroke="#f1bbf3" stroke-width="5.5" stroke-linecap="butt" stroke-linejoin="round" opacity="1.00"/>
<path d="M40.0,316.0 C42.3,318.3 49.7,326.0 54.0,330.0 C58.3,334.0 64.0,338.3 66.0,340.0" fill="none" stroke="#a8e2a8" stroke-width="8.4" stroke-linecap="butt" stroke-linejoin="round" opacity="1.00"/><path d="M40.0,316.0 C42.3,318.3 49.7,326.0 54.0,330.0 C58.3,334.0 64.0,338.3 66.0,340.0" fill="none" stroke="#c0f8c0" stroke-width="7.0" stroke-linecap="butt" stroke-linejoin="round" opacity="1.00"/>
<path d="M84.0,316.0 C84.5,318.3 86.7,324.3 87.0,330.0 C87.3,335.7 85.3,344.3 86.0,350.0 C86.7,355.7 88.0,359.7 91.0,364.0 C94.0,368.3 100.5,373.3 104.0,376.0 C107.5,378.7 110.7,379.3 112.0,380.0" fill="none" stroke="#f1bbf3" stroke-width="5.5" stroke-linecap="butt" stroke-linejoin="round" opacity="1.00"/>
<path d="M98.0,328.0 C101.7,325.2 114.0,326.3 120.0,327.0 C126.0,327.7 131.2,328.8 134.0,332.0 C136.8,335.2 137.3,341.0 137.0,346.0 C136.7,351.0 135.2,358.0 132.0,362.0 C128.8,366.0 122.7,368.3 118.0,370.0 C113.3,371.7 107.0,373.0 104.0,372.0 C101.0,371.0 98.0,366.0 100.0,364.0 C102.0,362.0 111.7,362.3 116.0,360.0 C120.3,357.7 124.7,353.7 126.0,350.0 C127.3,346.3 126.7,340.3 124.0,338.0 C121.3,335.7 114.3,335.0 110.0,336.0 C105.7,337.0 100.0,345.3 98.0,344.0 C96.0,342.7 94.3,330.8 98.0,328.0 Z" fill="#f1bbf3" opacity="1.00" stroke="#ee9ff0" stroke-width="1.2"/>
<path d="M104.0,351.0 C107.7,347.7 122.7,348.7 126.0,352.0 C129.3,355.3 127.7,367.7 124.0,371.0 C120.3,374.3 107.3,375.3 104.0,372.0 C100.7,368.7 100.3,354.3 104.0,351.0 Z" fill="#f1bbf3" opacity="0.90" stroke="#ee9ff0" stroke-width="1.2"/>
<path d="M26.0,358.0 C28.3,358.7 36.3,358.3 40.0,362.0 C43.7,365.7 47.0,373.7 48.0,380.0 C49.0,386.3 46.3,396.7 46.0,400.0" fill="none" stroke="#a8e2a8" stroke-width="13.4" stroke-linecap="butt" stroke-linejoin="round" opacity="1.00"/><path d="M26.0,358.0 C28.3,358.7 36.3,358.3 40.0,362.0 C43.7,365.7 47.0,373.7 48.0,380.0 C49.0,386.3 46.3,396.7 46.0,400.0" fill="none" stroke="#c0f8c0" stroke-width="12.0" stroke-linecap="butt" stroke-linejoin="round" opacity="1.00"/>
<path d="M26.0,369.0 C30.0,365.3 42.0,368.2 50.0,370.0 C58.0,371.8 69.3,375.7 74.0,380.0 C78.7,384.3 77.3,389.3 78.0,396.0 C78.7,402.7 79.0,412.7 78.0,420.0 C77.0,427.3 75.0,434.0 72.0,440.0 C69.0,446.0 64.7,451.3 60.0,456.0 C55.3,460.7 49.7,465.3 44.0,468.0 C38.3,470.7 29.0,474.7 26.0,472.0 C23.0,469.3 23.0,456.0 26.0,452.0 C29.0,448.0 38.7,451.3 44.0,448.0 C49.3,444.7 54.7,437.7 58.0,432.0 C61.3,426.3 63.3,419.7 64.0,414.0 C64.7,408.3 64.3,401.7 62.0,398.0 C59.7,394.3 56.0,393.0 50.0,392.0 C44.0,391.0 30.0,395.8 26.0,392.0 C22.0,388.2 22.0,372.7 26.0,369.0 Z" fill="#f1bbf3" opacity="1.00" stroke="#ee9ff0" stroke-width="1.2"/>
<path d="M34.0,398.0 C37.8,392.7 51.0,394.7 56.0,398.0 C61.0,401.3 63.7,410.3 64.0,418.0 C64.3,425.7 62.0,438.3 58.0,444.0 C54.0,449.7 44.2,454.3 40.0,452.0 C35.8,449.7 34.0,439.0 33.0,430.0 C32.0,421.0 30.2,403.3 34.0,398.0 Z" fill="#c0f8c0" opacity="1.00" stroke="#a8e2a8" stroke-width="1.2"/>
<path d="M27.0,400.0 C27.8,403.3 30.5,413.3 32.0,420.0 C33.5,426.7 35.3,436.7 36.0,440.0" fill="none" stroke="#f1bbf3" stroke-width="5.0" stroke-linecap="butt" stroke-linejoin="round" opacity="1.00"/>
<path d="M80.0,392.0 C83.0,388.0 96.0,389.0 100.0,392.0 C104.0,395.0 104.7,405.3 104.0,410.0 C103.3,414.7 99.7,419.0 96.0,420.0 C92.3,421.0 84.7,420.7 82.0,416.0 C79.3,411.3 77.0,396.0 80.0,392.0 Z" fill="#c0f8c0" opacity="0.70" stroke="#a8e2a8" stroke-width="1.2"/>
<path d="M104.0,420.0 C108.3,415.3 121.7,414.7 126.0,418.0 C130.3,421.3 131.3,434.3 130.0,440.0 C128.7,445.7 123.0,451.0 118.0,452.0 C113.0,453.0 102.3,451.3 100.0,446.0 C97.7,440.7 99.7,424.7 104.0,420.0 Z" fill="#c0f8c0" opacity="0.70" stroke="#a8e2a8" stroke-width="1.2"/>
<path d="M165.0,404.0 C168.5,404.7 180.2,405.7 186.0,408.0 C191.8,410.3 197.7,413.3 200.0,418.0 C202.3,422.7 202.3,430.7 200.0,436.0 C197.7,441.3 191.0,446.7 186.0,450.0 C181.0,453.3 176.0,454.0 170.0,456.0 C164.0,458.0 155.7,460.0 150.0,462.0 C144.3,464.0 138.3,467.0 136.0,468.0" fill="none" stroke="#ee9ff0" stroke-width="13.4" stroke-linecap="butt" stroke-linejoin="round" opacity="1.00"/><path d="M165.0,404.0 C168.5,404.7 180.2,405.7 186.0,408.0 C191.8,410.3 197.7,413.3 200.0,418.0 C202.3,422.7 202.3,430.7 200.0,436.0 C197.7,441.3 191.0,446.7 186.0,450.0 C181.0,453.3 176.0,454.0 170.0,456.0 C164.0,458.0 155.7,460.0 150.0,462.0 C144.3,464.0 138.3,467.0 136.0,468.0" fill="none" stroke="#f1bbf3" stroke-width="12.0" stroke-linecap="butt" stroke-linejoin="round" opacity="1.00"/>
<path d="M154.0,440.0 C156.0,437.0 168.3,436.3 172.0,438.0 C175.7,439.7 178.0,447.0 176.0,450.0 C174.0,453.0 163.7,457.7 160.0,456.0 C156.3,454.3 152.0,443.0 154.0,440.0 Z" fill="#c0f8c0" opacity="0.60" stroke="#a8e2a8" stroke-width="1.2"/>
<path d="M26.0,476.0 C29.0,475.7 38.3,475.0 44.0,474.0 C49.7,473.0 57.3,470.7 60.0,470.0" fill="none" stroke="#ee9ff0" stroke-width="11.4" stroke-linecap="butt" stroke-linejoin="round" opacity="1.00"/><path d="M26.0,476.0 C29.0,475.7 38.3,475.0 44.0,474.0 C49.7,473.0 57.3,470.7 60.0,470.0" fill="none" stroke="#f1bbf3" stroke-width="10.0" stroke-linecap="butt" stroke-linejoin="round" opacity="1.00"/>
<path d="M40.0,485.0 C46.7,481.5 68.3,483.2 80.0,484.0 C91.7,484.8 102.3,488.0 110.0,490.0 C117.7,492.0 123.3,491.0 126.0,496.0 C128.7,501.0 132.0,516.0 126.0,520.0 C120.0,524.0 101.7,520.7 90.0,520.0 C78.3,519.3 64.3,518.5 56.0,516.0 C47.7,513.5 42.7,510.2 40.0,505.0 C37.3,499.8 33.3,488.5 40.0,485.0 Z" fill="#c0f8c0" opacity="1.00" stroke="#a8e2a8" stroke-width="1.2"/>
<path d="M30.0,484.0 C35.0,485.0 50.0,488.3 60.0,490.0 C70.0,491.7 85.0,493.3 90.0,494.0" fill="none" stroke="#acdcac" stroke-width="5.0" stroke-linecap="butt" stroke-linejoin="round" opacity="0.50"/>
<path d="M26.0,504.0 C28.3,504.3 35.3,505.3 40.0,506.0 C44.7,506.7 51.7,507.7 54.0,508.0" fill="none" stroke="#ee9ff0" stroke-width="17.4" stroke-linecap="butt" stroke-linejoin="round" opacity="1.00"/><path d="M26.0,504.0 C28.3,504.3 35.3,505.3 40.0,506.0 C44.7,506.7 51.7,507.7 54.0,508.0" fill="none" stroke="#f1bbf3" stroke-width="16.0" stroke-linecap="butt" stroke-linejoin="round" opacity="1.00"/>
<path d="M54.0,512.0 C59.0,506.7 78.0,508.0 90.0,508.0 C102.0,508.0 119.3,508.3 126.0,512.0 C132.7,515.7 130.0,525.0 130.0,530.0 C130.0,535.0 132.7,540.0 126.0,542.0 C119.3,544.0 101.0,542.3 90.0,542.0 C79.0,541.7 66.0,545.0 60.0,540.0 C54.0,535.0 49.0,517.3 54.0,512.0 Z" fill="#f1bbf3" opacity="1.00" stroke="#ee9ff0" stroke-width="1.2"/>
<path d="M26.0,520.0 C30.7,514.7 49.0,516.3 54.0,522.0 C59.0,527.7 60.7,548.7 56.0,554.0 C51.3,559.3 31.0,559.7 26.0,554.0 C21.0,548.3 21.3,525.3 26.0,520.0 Z" fill="#f1bbf3" opacity="0.90" stroke="#ee9ff0" stroke-width="1.2"/>
<path d="M32.0,540.0 C38.3,541.3 57.0,546.0 70.0,548.0 C83.0,550.0 103.3,551.3 110.0,552.0" fill="none" stroke="#a8e2a8" stroke-width="11.4" stroke-linecap="butt" stroke-linejoin="round" opacity="0.90"/><path d="M32.0,540.0 C38.3,541.3 57.0,546.0 70.0,548.0 C83.0,550.0 103.3,551.3 110.0,552.0" fill="none" stroke="#c0f8c0" stroke-width="10.0" stroke-linecap="butt" stroke-linejoin="round" opacity="0.90"/>
<path d="M138.0,464.0 C143.0,462.7 161.3,464.0 170.0,466.0 C178.7,468.0 185.8,471.0 190.0,476.0 C194.2,481.0 194.7,489.3 195.0,496.0 C195.3,502.7 193.8,510.7 192.0,516.0 C190.2,521.3 187.7,525.7 184.0,528.0 C180.3,530.3 171.3,532.3 170.0,530.0 C168.7,527.7 174.7,520.0 176.0,514.0 C177.3,508.0 179.7,499.7 178.0,494.0 C176.3,488.3 172.3,483.3 166.0,480.0 C159.7,476.7 144.7,476.7 140.0,474.0 C135.3,471.3 133.0,465.3 138.0,464.0 Z" fill="#f1bbf3" opacity="1.00" stroke="#ee9ff0" stroke-width="1.2"/>
<path d="M110.0,514.0 C113.3,514.3 123.0,514.7 130.0,516.0 C137.0,517.3 148.3,521.0 152.0,522.0" fill="none" stroke="#ee9ff0" stroke-width="13.4" stroke-linecap="butt" stroke-linejoin="round" opacity="1.00"/><path d="M110.0,514.0 C113.3,514.3 123.0,514.7 130.0,516.0 C137.0,517.3 148.3,521.0 152.0,522.0" fill="none" stroke="#f1bbf3" stroke-width="12.0" stroke-linecap="butt" stroke-linejoin="round" opacity="1.00"/>
<path d="M118.0,492.0 C121.0,492.5 130.3,493.8 136.0,495.0 C141.7,496.2 147.0,497.8 152.0,499.0 C157.0,500.2 163.7,501.5 166.0,502.0" fill="none" stroke="#a8e2a8" stroke-width="15.4" stroke-linecap="butt" stroke-linejoin="round" opacity="1.00"/><path d="M118.0,492.0 C121.0,492.5 130.3,493.8 136.0,495.0 C141.7,496.2 147.0,497.8 152.0,499.0 C157.0,500.2 163.7,501.5 166.0,502.0" fill="none" stroke="#c0f8c0" stroke-width="14.0" stroke-linecap="butt" stroke-linejoin="round" opacity="1.00"/>
<path d="M156.0,500.0 C156.7,503.3 159.7,513.3 160.0,520.0 C160.3,526.7 158.7,534.3 158.0,540.0 C157.3,545.7 156.3,551.7 156.0,554.0" fill="none" stroke="#a8e2a8" stroke-width="23.4" stroke-linecap="butt" stroke-linejoin="round" opacity="1.00"/><path d="M156.0,500.0 C156.7,503.3 159.7,513.3 160.0,520.0 C160.3,526.7 158.7,534.3 158.0,540.0 C157.3,545.7 156.3,551.7 156.0,554.0" fill="none" stroke="#c0f8c0" stroke-width="22.0" stroke-linecap="butt" stroke-linejoin="round" opacity="1.00"/>
<path d="M126.0,540.0 C128.3,541.0 135.7,543.7 140.0,546.0 C144.3,548.3 150.0,552.7 152.0,554.0" fill="none" stroke="#ee9ff0" stroke-width="13.4" stroke-linecap="butt" stroke-linejoin="round" opacity="1.00"/><path d="M126.0,540.0 C128.3,541.0 135.7,543.7 140.0,546.0 C144.3,548.3 150.0,552.7 152.0,554.0" fill="none" stroke="#f1bbf3" stroke-width="12.0" stroke-linecap="butt" stroke-linejoin="round" opacity="1.00"/>
<path d="M166.0,532.0 C169.0,532.7 178.3,532.3 184.0,536.0 C189.7,539.7 197.3,551.0 200.0,554.0" fill="none" stroke="#a8e2a8" stroke-width="15.4" stroke-linecap="butt" stroke-linejoin="round" opacity="0.90"/><path d="M166.0,532.0 C169.0,532.7 178.3,532.3 184.0,536.0 C189.7,539.7 197.3,551.0 200.0,554.0" fill="none" stroke="#c0f8c0" stroke-width="14.0" stroke-linecap="butt" stroke-linejoin="round" opacity="0.90"/>
<path d="M178.0,538.0 C180.0,539.3 187.0,543.3 190.0,546.0 C193.0,548.7 195.0,552.7 196.0,554.0" fill="none" stroke="#ee9ff0" stroke-width="9.4" stroke-linecap="butt" stroke-linejoin="round" opacity="0.80"/><path d="M178.0,538.0 C180.0,539.3 187.0,543.3 190.0,546.0 C193.0,548.7 195.0,552.7 196.0,554.0" fill="none" stroke="#f1bbf3" stroke-width="8.0" stroke-linecap="butt" stroke-linejoin="round" opacity="0.80"/>
</g>
<line x1="144.0" y1="350.0" x2="137.0" y2="355.0" stroke="url(#g44)" stroke-width="5.5" stroke-linecap="round"/>
<line x1="111.0" y1="376.0" x2="114.0" y2="385.0" stroke="url(#g45)" stroke-width="5.5" stroke-linecap="round"/>
<line x1="158.0" y1="377.0" x2="148.0" y2="385.0" stroke="url(#g46)" stroke-width="5.5" stroke-linecap="round"/>
<line x1="104.0" y1="414.0" x2="113.0" y2="406.0" stroke="url(#g47)" stroke-width="5.5" stroke-linecap="round"/>
<line x1="153.0" y1="414.0" x2="146.0" y2="407.0" stroke="url(#g48)" stroke-width="5.5" stroke-linecap="round"/>
<line x1="137.0" y1="445.0" x2="124.0" y2="434.0" stroke="url(#g49)" stroke-width="5.5" stroke-linecap="round"/>
<line x1="110.0" y1="438.0" x2="110.0" y2="444.0" stroke="url(#g50)" stroke-width="5.5" stroke-linecap="round"/>
<line x1="78.0" y1="418.0" x2="84.0" y2="425.0" stroke="url(#g51)" stroke-width="11.0" stroke-linecap="round"/><line x1="84.0" y1="425.0" x2="90.0" y2="432.0" stroke="url(#g52)" stroke-width="11.0" stroke-linecap="round"/>
<line x1="90.0" y1="432.0" x2="110.0" y2="444.0" stroke="url(#g53)" stroke-width="11.0" stroke-linecap="round"/>
<line x1="110.0" y1="444.0" x2="124.0" y2="434.0" stroke="url(#g54)" stroke-width="11.0" stroke-linecap="round"/>
<line x1="124.0" y1="434.0" x2="128.0" y2="416.0" stroke="url(#g55)" stroke-width="11.0" stroke-linecap="round"/>
<line x1="110.0" y1="444.0" x2="107.5" y2="452.0" stroke="url(#g56)" stroke-width="11.0" stroke-linecap="round"/><line x1="107.5" y1="452.0" x2="105.0" y2="460.0" stroke="url(#g57)" stroke-width="11.0" stroke-linecap="round"/>
<line x1="134.0" y1="375.0" x2="135.5" y2="365.0" stroke="url(#g58)" stroke-width="11.0" stroke-linecap="round"/><line x1="135.5" y1="365.0" x2="137.0" y2="355.0" stroke="url(#g59)" stroke-width="11.0" stroke-linecap="round"/>
<line x1="113.0" y1="406.0" x2="114.0" y2="385.0" stroke="url(#g60)" stroke-width="11.0" stroke-linecap="round"/>
<line x1="114.0" y1="385.0" x2="134.0" y2="375.0" stroke="url(#g61)" stroke-width="11.0" stroke-linecap="round"/>
<line x1="134.0" y1="375.0" x2="148.0" y2="385.0" stroke="url(#g62)" stroke-width="11.0" stroke-linecap="round"/>
<line x1="148.0" y1="385.0" x2="146.0" y2="407.0" stroke="url(#g63)" stroke-width="11.0" stroke-linecap="round"/>
<line x1="146.0" y1="407.0" x2="128.0" y2="416.0" stroke="url(#g64)" stroke-width="11.0" stroke-linecap="round"/>
<line x1="128.0" y1="416.0" x2="113.0" y2="406.0" stroke="url(#g65)" stroke-width="11.0" stroke-linecap="round"/>
<line x1="178.0" y1="426.0" x2="168.0" y2="428.0" stroke="url(#g66)" stroke-width="5.5" stroke-linecap="round"/>
<line x1="160.0" y1="460.0" x2="162.0" y2="449.0" stroke="url(#g67)" stroke-width="5.5" stroke-linecap="round"/>
<line x1="107.0" y1="510.0" x2="100.0" y2="500.0" stroke="url(#g68)" stroke-width="5.5" stroke-linecap="round"/>
<line x1="134.0" y1="489.0" x2="124.0" y2="478.0" stroke="url(#g69)" stroke-width="5.5" stroke-linecap="round"/>
<line x1="114.0" y1="477.0" x2="108.0" y2="480.0" stroke="url(#g70)" stroke-width="5.5" stroke-linecap="round"/>
<line x1="86.0" y1="446.0" x2="93.0" y2="457.0" stroke="url(#g71)" stroke-width="11.0" stroke-linecap="round"/><line x1="93.0" y1="457.0" x2="100.0" y2="468.0" stroke="url(#g72)" stroke-width="11.0" stroke-linecap="round"/>
<line x1="100.0" y1="468.0" x2="108.0" y2="480.0" stroke="url(#g73)" stroke-width="11.0" stroke-linecap="round"/>
<line x1="108.0" y1="480.0" x2="104.0" y2="490.0" stroke="url(#g74)" stroke-width="11.0" stroke-linecap="round"/><line x1="104.0" y1="490.0" x2="100.0" y2="500.0" stroke="url(#g75)" stroke-width="11.0" stroke-linecap="round"/>
<line x1="108.0" y1="480.0" x2="124.0" y2="478.0" stroke="url(#g76)" stroke-width="11.0" stroke-linecap="round"/>
<line x1="124.0" y1="478.0" x2="140.0" y2="456.0" stroke="url(#g77)" stroke-width="11.0" stroke-linecap="round"/>
<line x1="132.0" y1="442.0" x2="134.0" y2="424.0" stroke="url(#g78)" stroke-width="11.0" stroke-linecap="round"/>
<line x1="134.0" y1="424.0" x2="158.0" y2="416.0" stroke="url(#g79)" stroke-width="11.0" stroke-linecap="round"/>
<line x1="158.0" y1="416.0" x2="168.0" y2="428.0" stroke="url(#g80)" stroke-width="11.0" stroke-linecap="round"/>
<line x1="168.0" y1="428.0" x2="162.0" y2="449.0" stroke="url(#g81)" stroke-width="11.0" stroke-linecap="round"/>
<line x1="162.0" y1="449.0" x2="140.0" y2="456.0" stroke="url(#g82)" stroke-width="11.0" stroke-linecap="round"/>
<line x1="140.0" y1="456.0" x2="132.0" y2="442.0" stroke="url(#g83)" stroke-width="11.0" stroke-linecap="round"/>
<line x1="158.0" y1="416.0" x2="160.5" y2="407.5" stroke="url(#g84)" stroke-width="11.0" stroke-linecap="round"/><line x1="160.5" y1="407.5" x2="163.0" y2="399.0" stroke="url(#g85)" stroke-width="11.0" stroke-linecap="round"/>
<text x="69.9" y="348.5" font-size="16.3" font-weight="bold" fill="#000">Y472<tspan x="109.2" font-size="9.3" dy="-5.0" textLength="21" lengthAdjust="spacingAndGlyphs">6.53f</tspan></text>
<text x="187.3" y="412.5" font-size="16.3" font-weight="bold" fill="#000">Y472<tspan x="226.6" font-size="9.3" dy="-5.0" textLength="21" lengthAdjust="spacingAndGlyphs">6.53f</tspan></text>
<text x="34.8" y="543.5" font-size="14.4" font-weight="bold" fill="#150a15" textLength="78.5" lengthAdjust="spacingAndGlyphs">Dual - CYC</text>
<rect x="268.4" y="512.7" width="13.5" height="13.5" fill="#e8158c" stroke="#1a1a1a" stroke-width="1.2"/><rect x="268.4" y="534.0" width="13.5" height="13.5" fill="#3cb44b" stroke="#1a1a1a" stroke-width="1.2"/><text x="285.2" y="525.9" font-size="14.6" font-weight="bold" fill="#000" textLength="57" lengthAdjust="spacingAndGlyphs">Inactive</text><text x="287.0" y="547.0" font-size="14.6" font-weight="bold" fill="#000" textLength="44.5" lengthAdjust="spacingAndGlyphs">Active</text></g>
<g clip-path="url(#ce)"><g filter="url(#soft)">
<path d="M66.0,620.0 C81.0,614.2 136.3,618.3 152.0,620.0 C167.7,621.7 157.3,625.3 160.0,630.0 C162.7,634.7 166.0,641.7 168.0,648.0 C170.0,654.3 172.0,661.7 172.0,668.0 C172.0,674.3 169.7,680.7 168.0,686.0 C166.3,691.3 164.3,698.0 162.0,700.0 C159.7,702.0 154.7,701.3 154.0,698.0 C153.3,694.7 157.7,686.0 158.0,680.0 C158.3,674.0 157.7,667.3 156.0,662.0 C154.3,656.7 152.3,651.7 148.0,648.0 C143.7,644.3 137.3,641.5 130.0,640.0 C122.7,638.5 112.0,638.3 104.0,639.0 C96.0,639.7 89.0,641.3 82.0,644.0 C75.0,646.7 64.7,659.0 62.0,655.0 C59.3,651.0 51.0,625.8 66.0,620.0 Z" fill="#c0f8c0" opacity="1.00" stroke="#a8e2a8" stroke-width="1.2"/>
<path d="M150.0,634.0 C151.7,636.7 157.3,644.0 160.0,650.0 C162.7,656.0 165.3,663.3 166.0,670.0 C166.7,676.7 165.0,685.0 164.0,690.0 C163.0,695.0 160.7,698.3 160.0,700.0" fill="none" stroke="#98c898" stroke-width="7.4" stroke-linecap="butt" stroke-linejoin="round" opacity="0.35"/><path d="M150.0,634.0 C151.7,636.7 157.3,644.0 160.0,650.0 C162.7,656.0 165.3,663.3 166.0,670.0 C166.7,676.7 165.0,685.0 164.0,690.0 C163.0,695.0 160.7,698.3 160.0,700.0" fill="none" stroke="#acdcac" stroke-width="6.0" stroke-linecap="butt" stroke-linejoin="round" opacity="0.35"/>
<path d="M80.0,648.0 C83.3,645.7 98.3,644.0 104.0,646.0 C109.7,648.0 112.0,654.7 114.0,660.0 C116.0,665.3 117.7,674.7 116.0,678.0 C114.3,681.3 107.3,682.0 104.0,680.0 C100.7,678.0 99.3,669.3 96.0,666.0 C92.7,662.7 86.7,663.0 84.0,660.0 C81.3,657.0 76.7,650.3 80.0,648.0 Z" fill="#c0f8c0" opacity="1.00" stroke="#a8e2a8" stroke-width="1.2"/>
<path d="M82.0,648.0 C84.3,647.7 91.0,645.8 96.0,646.0 C101.0,646.2 109.3,648.5 112.0,649.0" fill="none" stroke="#e69ae8" stroke-width="8.4" stroke-linecap="butt" stroke-linejoin="round" opacity="0.90"/><path d="M82.0,648.0 C84.3,647.7 91.0,645.8 96.0,646.0 C101.0,646.2 109.3,648.5 112.0,649.0" fill="none" stroke="#e2b0e4" stroke-width="7.0" stroke-linecap="butt" stroke-linejoin="round" opacity="0.90"/>
<path d="M114.0,645.0 C116.3,646.2 124.0,648.2 128.0,652.0 C132.0,655.8 136.0,662.7 138.0,668.0 C140.0,673.3 140.3,679.0 140.0,684.0 C139.7,689.0 136.7,695.7 136.0,698.0" fill="none" stroke="#ee9ff0" stroke-width="7.4" stroke-linecap="butt" stroke-linejoin="round" opacity="1.00"/><path d="M114.0,645.0 C116.3,646.2 124.0,648.2 128.0,652.0 C132.0,655.8 136.0,662.7 138.0,668.0 C140.0,673.3 140.3,679.0 140.0,684.0 C139.7,689.0 136.7,695.7 136.0,698.0" fill="none" stroke="#f1bbf3" stroke-width="6.0" stroke-linecap="butt" stroke-linejoin="round" opacity="1.00"/>
<path d="M106.0,652.0 C108.0,654.0 115.0,659.3 118.0,664.0 C121.0,668.7 123.3,674.3 124.0,680.0 C124.7,685.7 122.3,695.0 122.0,698.0" fill="none" stroke="#ee9ff0" stroke-width="7.4" stroke-linecap="butt" stroke-linejoin="round" opacity="1.00"/><path d="M106.0,652.0 C108.0,654.0 115.0,659.3 118.0,664.0 C121.0,668.7 123.3,674.3 124.0,680.0 C124.7,685.7 122.3,695.0 122.0,698.0" fill="none" stroke="#f1bbf3" stroke-width="6.0" stroke-linecap="butt" stroke-linejoin="round" opacity="1.00"/>
<path d="M26.0,628.0 C27.7,617.5 28.7,621.3 36.0,620.0 C43.3,618.7 65.0,616.7 70.0,620.0 C75.0,623.3 67.7,634.2 66.0,640.0 C64.3,645.8 63.2,650.3 60.0,655.0 C56.8,659.7 52.7,663.3 47.0,668.0 C41.3,672.7 29.5,689.7 26.0,683.0 C22.5,676.3 24.3,638.5 26.0,628.0 Z" fill="#f1bbf3" opacity="1.00" stroke="#ee9ff0" stroke-width="1.2"/>
<path d="M69.0,662.0 C71.0,659.3 82.2,659.3 88.0,660.0 C93.8,660.7 99.7,662.7 104.0,666.0 C108.3,669.3 111.7,675.7 114.0,680.0 C116.3,684.3 119.7,690.0 118.0,692.0 C116.3,694.0 108.3,693.7 104.0,692.0 C99.7,690.3 96.7,684.7 92.0,682.0 C87.3,679.3 79.8,679.3 76.0,676.0 C72.2,672.7 67.0,664.7 69.0,662.0 Z" fill="#e2b0e4" opacity="0.90" stroke="#e69ae8" stroke-width="1.2"/>
<path d="M26.0,678.0 C29.5,673.2 40.0,668.0 47.0,666.0 C54.0,664.0 61.2,664.8 68.0,666.0 C74.8,667.2 82.5,669.8 88.0,673.0 C93.5,676.2 98.3,680.5 101.0,685.0 C103.7,689.5 107.2,698.3 104.0,700.0 C100.8,701.7 90.3,696.3 82.0,695.0 C73.7,693.7 63.3,692.0 54.0,692.0 C44.7,692.0 30.7,697.3 26.0,695.0 C21.3,692.7 22.5,682.8 26.0,678.0 Z" fill="#f1bbf3" opacity="1.00" stroke="#ee9ff0" stroke-width="1.2"/>
<path d="M42.0,696.0 C46.3,693.7 59.7,693.3 70.0,694.0 C80.3,694.7 98.3,695.3 104.0,700.0 C109.7,704.7 108.0,718.3 104.0,722.0 C100.0,725.7 89.0,722.7 80.0,722.0 C71.0,721.3 56.0,720.3 50.0,718.0 C44.0,715.7 45.3,711.7 44.0,708.0 C42.7,704.3 37.7,698.3 42.0,696.0 Z" fill="#c0f8c0" opacity="1.00" stroke="#a8e2a8" stroke-width="1.2"/>
<path d="M88.0,694.0 C89.3,692.0 100.0,691.0 104.0,694.0 C108.0,697.0 110.7,706.0 112.0,712.0 C113.3,718.0 113.3,723.7 112.0,730.0 C110.7,736.3 107.3,744.3 104.0,750.0 C100.7,755.7 96.0,759.7 92.0,764.0 C88.0,768.3 85.3,771.7 80.0,776.0 C74.7,780.3 66.7,786.0 60.0,790.0 C53.3,794.0 45.7,797.7 40.0,800.0 C34.3,802.3 28.3,806.7 26.0,804.0 C23.7,801.3 22.7,789.0 26.0,784.0 C29.3,779.0 38.7,778.0 46.0,774.0 C53.3,770.0 63.3,765.3 70.0,760.0 C76.7,754.7 81.7,748.3 86.0,742.0 C90.3,735.7 94.3,728.0 96.0,722.0 C97.7,716.0 97.3,710.7 96.0,706.0 C94.7,701.3 86.7,696.0 88.0,694.0 Z" fill="#f1bbf3" opacity="1.00" stroke="#ee9ff0" stroke-width="1.2"/>
<path d="M26.0,770.0 C31.7,764.0 49.3,769.3 60.0,770.0 C70.7,770.7 84.0,770.7 90.0,774.0 C96.0,777.3 97.7,785.0 96.0,790.0 C94.3,795.0 87.7,801.3 80.0,804.0 C72.3,806.7 59.0,805.7 50.0,806.0 C41.0,806.3 30.0,812.0 26.0,806.0 C22.0,800.0 20.3,776.0 26.0,770.0 Z" fill="#f1bbf3" opacity="1.00" stroke="#ee9ff0" stroke-width="1.2"/>
<path d="M30.0,700.0 C29.8,703.3 28.8,713.3 29.0,720.0 C29.2,726.7 30.7,736.7 31.0,740.0" fill="none" stroke="#f1bbf3" stroke-width="2.5" stroke-linecap="butt" stroke-linejoin="round" opacity="1.00"/>
<ellipse cx="62" cy="734" rx="26" ry="12" fill="none" stroke="#f1bbf3" stroke-width="3.5"/>
<ellipse cx="66" cy="742" rx="22" ry="11" fill="none" stroke="#f1bbf3" stroke-width="3"/>
<path d="M30.0,746.0 C33.0,746.7 41.3,748.3 48.0,750.0 C54.7,751.7 66.3,755.0 70.0,756.0" fill="none" stroke="#a8e2a8" stroke-width="13.4" stroke-linecap="butt" stroke-linejoin="round" opacity="1.00"/><path d="M30.0,746.0 C33.0,746.7 41.3,748.3 48.0,750.0 C54.7,751.7 66.3,755.0 70.0,756.0" fill="none" stroke="#c0f8c0" stroke-width="12.0" stroke-linecap="butt" stroke-linejoin="round" opacity="1.00"/>
<path d="M110.0,700.0 C113.0,697.3 122.7,698.0 126.0,702.0 C129.3,706.0 131.7,719.3 130.0,724.0 C128.3,728.7 119.7,731.0 116.0,730.0 C112.3,729.0 109.0,723.0 108.0,718.0 C107.0,713.0 107.0,702.7 110.0,700.0 Z" fill="#c0f8c0" opacity="0.70" stroke="#a8e2a8" stroke-width="1.2"/>
<path d="M162.0,716.0 C164.3,718.3 173.3,724.7 176.0,730.0 C178.7,735.3 179.0,742.7 178.0,748.0 C177.0,753.3 171.3,759.7 170.0,762.0" fill="none" stroke="#a8e2a8" stroke-width="11.4" stroke-linecap="butt" stroke-linejoin="round" opacity="0.60"/><path d="M162.0,716.0 C164.3,718.3 173.3,724.7 176.0,730.0 C178.7,735.3 179.0,742.7 178.0,748.0 C177.0,753.3 171.3,759.7 170.0,762.0" fill="none" stroke="#c0f8c0" stroke-width="10.0" stroke-linecap="butt" stroke-linejoin="round" opacity="0.60"/>
<path d="M26.0,806.0 C31.7,801.3 52.7,803.7 60.0,806.0 C67.3,808.3 69.0,815.3 70.0,820.0 C71.0,824.7 73.3,831.7 66.0,834.0 C58.7,836.3 32.7,838.7 26.0,834.0 C19.3,829.3 20.3,810.7 26.0,806.0 Z" fill="#c0f8c0" opacity="1.00" stroke="#a8e2a8" stroke-width="1.2"/>
<path d="M88.0,778.0 C92.0,773.3 114.0,774.3 120.0,778.0 C126.0,781.7 128.0,795.3 124.0,800.0 C120.0,804.7 102.0,809.7 96.0,806.0 C90.0,802.3 84.0,782.7 88.0,778.0 Z" fill="#c0f8c0" opacity="1.00" stroke="#a8e2a8" stroke-width="1.2"/>
<path d="M74.0,810.0 C81.7,806.7 116.7,805.0 126.0,808.0 C135.3,811.0 137.7,824.7 130.0,828.0 C122.3,831.3 89.3,831.0 80.0,828.0 C70.7,825.0 66.3,813.3 74.0,810.0 Z" fill="#c0f8c0" opacity="1.00" stroke="#a8e2a8" stroke-width="1.2"/>
<path d="M26.0,838.0 C31.7,834.5 51.0,834.7 60.0,836.0 C69.0,837.3 73.3,842.5 80.0,846.0 C86.7,849.5 109.0,855.2 100.0,857.0 C91.0,858.8 38.3,860.2 26.0,857.0 C13.7,853.8 20.3,841.5 26.0,838.0 Z" fill="#c0f8c0" opacity="0.80" stroke="#a8e2a8" stroke-width="1.2"/>
<ellipse cx="118" cy="832" rx="44" ry="22" fill="none" stroke="#f1bbf3" stroke-width="3"/>
<ellipse cx="122" cy="836" rx="40" ry="20" fill="none" stroke="#f1bbf3" stroke-width="3"/>
<ellipse cx="126" cy="840" rx="36" ry="18" fill="none" stroke="#f1bbf3" stroke-width="3"/>
<ellipse cx="114" cy="828" rx="48" ry="24" fill="none" stroke="#f1bbf3" stroke-width="3"/>
<ellipse cx="110" cy="824" rx="50" ry="26" fill="none" stroke="#f1bbf3" stroke-width="3"/>
<path d="M70.0,806.0 C70.3,810.0 70.3,822.7 72.0,830.0 C73.7,837.3 78.7,846.7 80.0,850.0" fill="none" stroke="#f1bbf3" stroke-width="4.0" stroke-linecap="butt" stroke-linejoin="round" opacity="1.00"/>
<path d="M86.0,812.0 C86.3,815.7 86.3,827.3 88.0,834.0 C89.7,840.7 94.7,849.0 96.0,852.0" fill="none" stroke="#f1bbf3" stroke-width="4.0" stroke-linecap="butt" stroke-linejoin="round" opacity="1.00"/>
</g>
<line x1="145.0" y1="669.0" x2="152.0" y2="674.0" stroke="url(#g86)" stroke-width="5.5" stroke-linecap="round"/>
<line x1="118.0" y1="693.0" x2="130.0" y2="698.0" stroke="url(#g87)" stroke-width="5.5" stroke-linecap="round"/>
<line x1="176.0" y1="704.0" x2="168.0" y2="705.0" stroke="url(#g88)" stroke-width="5.5" stroke-linecap="round"/>
<line x1="113.0" y1="726.0" x2="128.0" y2="724.0" stroke="url(#g89)" stroke-width="5.5" stroke-linecap="round"/>
<line x1="140.0" y1="748.0" x2="136.0" y2="768.0" stroke="url(#g90)" stroke-width="9.0" stroke-linecap="round"/>
<line x1="136.0" y1="768.0" x2="136.5" y2="777.0" stroke="url(#g91)" stroke-width="9.0" stroke-linecap="round"/><line x1="136.5" y1="777.0" x2="137.0" y2="786.0" stroke="url(#g92)" stroke-width="9.0" stroke-linecap="round"/>
<line x1="128.0" y1="760.0" x2="136.0" y2="768.0" stroke="url(#g93)" stroke-width="9.0" stroke-linecap="round"/>
<line x1="148.0" y1="734.0" x2="140.0" y2="748.0" stroke="url(#g94)" stroke-width="11.0" stroke-linecap="round"/>
<circle cx="137.5" cy="749.5" r="5.5" fill="url(#r95)"/>
<line x1="122.0" y1="758.0" x2="136.0" y2="751.0" stroke="url(#g96)" stroke-width="5.5" stroke-linecap="round"/>
<line x1="151.0" y1="690.0" x2="151.5" y2="682.0" stroke="url(#g97)" stroke-width="11.0" stroke-linecap="round"/><line x1="151.5" y1="682.0" x2="152.0" y2="674.0" stroke="url(#g98)" stroke-width="11.0" stroke-linecap="round"/>
<line x1="128.0" y1="724.0" x2="130.0" y2="698.0" stroke="url(#g99)" stroke-width="11.0" stroke-linecap="round"/>
<line x1="130.0" y1="698.0" x2="151.0" y2="690.0" stroke="url(#g100)" stroke-width="11.0" stroke-linecap="round"/>
<line x1="151.0" y1="690.0" x2="168.0" y2="705.0" stroke="url(#g101)" stroke-width="11.0" stroke-linecap="round"/>
<line x1="168.0" y1="705.0" x2="167.0" y2="724.0" stroke="url(#g102)" stroke-width="11.0" stroke-linecap="round"/>
<line x1="167.0" y1="724.0" x2="148.0" y2="734.0" stroke="url(#g103)" stroke-width="11.0" stroke-linecap="round"/>
<line x1="148.0" y1="734.0" x2="128.0" y2="724.0" stroke="url(#g104)" stroke-width="11.0" stroke-linecap="round"/>
<line x1="206.0" y1="722.0" x2="192.0" y2="717.0" stroke="url(#g105)" stroke-width="5.5" stroke-linecap="round"/>
<line x1="207.0" y1="759.0" x2="196.0" y2="756.0" stroke="url(#g106)" stroke-width="5.5" stroke-linecap="round"/>
<line x1="188.0" y1="785.0" x2="184.0" y2="778.0" stroke="url(#g107)" stroke-width="5.5" stroke-linecap="round"/>
<line x1="157.0" y1="716.0" x2="158.0" y2="730.0" stroke="url(#g108)" stroke-width="5.5" stroke-linecap="round"/>
<line x1="160.0" y1="796.0" x2="144.0" y2="788.0" stroke="url(#g109)" stroke-width="5.5" stroke-linecap="round"/>
<line x1="148.0" y1="812.0" x2="138.0" y2="804.0" stroke="url(#g110)" stroke-width="5.5" stroke-linecap="round"/>
<line x1="134.0" y1="783.0" x2="144.0" y2="788.0" stroke="url(#g111)" stroke-width="5.5" stroke-linecap="round"/>
<circle cx="123.5" cy="790.0" r="7.8" fill="url(#r112)"/>
<line x1="124.0" y1="790.0" x2="129.0" y2="794.0" stroke="url(#g113)" stroke-width="11.0" stroke-linecap="round"/><line x1="129.0" y1="794.0" x2="134.0" y2="798.0" stroke="url(#g114)" stroke-width="11.0" stroke-linecap="round"/>
<line x1="160.0" y1="772.0" x2="144.0" y2="788.0" stroke="url(#g115)" stroke-width="12.0" stroke-linecap="round"/>
<line x1="144.0" y1="788.0" x2="138.0" y2="804.0" stroke="url(#g116)" stroke-width="12.0" stroke-linecap="round"/>
<line x1="138.0" y1="804.0" x2="133.0" y2="812.0" stroke="url(#g117)" stroke-width="11.0" stroke-linecap="round"/><line x1="133.0" y1="812.0" x2="128.0" y2="820.0" stroke="url(#g118)" stroke-width="11.0" stroke-linecap="round"/>
<line x1="146.0" y1="748.0" x2="158.0" y2="730.0" stroke="url(#g119)" stroke-width="11.0" stroke-linecap="round"/>
<line x1="158.0" y1="730.0" x2="184.0" y2="731.0" stroke="url(#g120)" stroke-width="11.0" stroke-linecap="round"/>
<line x1="184.0" y1="731.0" x2="196.0" y2="756.0" stroke="url(#g121)" stroke-width="11.0" stroke-linecap="round"/>
<line x1="196.0" y1="756.0" x2="184.0" y2="778.0" stroke="url(#g122)" stroke-width="11.0" stroke-linecap="round"/>
<line x1="184.0" y1="778.0" x2="160.0" y2="772.0" stroke="url(#g123)" stroke-width="11.0" stroke-linecap="round"/>
<line x1="160.0" y1="772.0" x2="146.0" y2="748.0" stroke="url(#g124)" stroke-width="11.0" stroke-linecap="round"/>
<line x1="184.0" y1="731.0" x2="188.0" y2="724.0" stroke="url(#g125)" stroke-width="11.0" stroke-linecap="round"/><line x1="188.0" y1="724.0" x2="192.0" y2="717.0" stroke="url(#g126)" stroke-width="11.0" stroke-linecap="round"/>
<text x="163.3" y="668.3" font-size="16.3" font-weight="bold" fill="#000">Y472<tspan x="202.6" font-size="9.3" dy="-5.0" textLength="21" lengthAdjust="spacingAndGlyphs">6.53f</tspan></text>
<text x="219.3" y="748.5" font-size="16.3" font-weight="bold" fill="#000">Y472<tspan x="258.6" font-size="9.3" dy="-5.0" textLength="21" lengthAdjust="spacingAndGlyphs">6.53f</tspan></text>
<text x="34.4" y="847.5" font-size="14.4" font-weight="bold" fill="#120812" textLength="78.5" lengthAdjust="spacingAndGlyphs">TMD - CYC</text>
<rect x="267.1" y="814.2" width="13.5" height="13.5" fill="#e8158c" stroke="#1a1a1a" stroke-width="1.2"/><rect x="267.1" y="836.0" width="13.5" height="13.5" fill="#3cb44b" stroke="#1a1a1a" stroke-width="1.2"/><text x="283.9" y="827.4" font-size="14.6" font-weight="bold" fill="#000" textLength="57" lengthAdjust="spacingAndGlyphs">Inactive</text><text x="285.7" y="849.0" font-size="14.6" font-weight="bold" fill="#000" textLength="44.5" lengthAdjust="spacingAndGlyphs">Active</text></g>
<rect x="26.5" y="8.0" width="319.2" height="244.1" fill="none" stroke="#1a1a1a" stroke-width="1.3"/>
<rect x="26.5" y="316.5" width="319.7" height="236.8" fill="none" stroke="#1a1a1a" stroke-width="1.3"/>
<rect x="26.5" y="620.0" width="319.7" height="236.8" fill="none" stroke="#1a1a1a" stroke-width="1.3"/>
<defs><linearGradient id="g1" gradientUnits="userSpaceOnUse" x1="282.76" y1="52.66" x2="283.24" y2="58.14"><stop offset="0.00" stop-color="#a0a0a0"/><stop offset="0.12" stop-color="#e8e8e8"/><stop offset="0.25" stop-color="#ffffff"/><stop offset="0.38" stop-color="#e0e0e0"/><stop offset="0.70" stop-color="#c0c0c0"/><stop offset="1.00" stop-color="#606060"/></linearGradient><linearGradient id="g2" gradientUnits="userSpaceOnUse" x1="282.15" y1="80.37" x2="284.05" y2="85.53"><stop offset="0.00" stop-color="#a0a0a0"/><stop offset="0.12" stop-color="#e8e8e8"/><stop offset="0.25" stop-color="#ffffff"/><stop offset="0.38" stop-color="#e0e0e0"/><stop offset="0.70" stop-color="#c0c0c0"/><stop offset="1.00" stop-color="#606060"/></linearGradient><linearGradient id="g3" gradientUnits="userSpaceOnUse" x1="263.90" y1="110.23" x2="269.40" y2="110.07"><stop offset="0.00" stop-color="#a0a0a0"/><stop offset="0.12" stop-color="#e8e8e8"/><stop offset="0.25" stop-color="#ffffff"/><stop offset="0.38" stop-color="#e0e0e0"/><stop offset="0.70" stop-color="#c0c0c0"/><stop offset="1.00" stop-color="#606060"/></linearGradient><linearGradient id="g4" gradientUnits="userSpaceOnUse" x1="238.58" y1="74.08" x2="244.02" y2="73.22"><stop offset="0.00" stop-color="#a0a0a0"/><stop offset="0.12" stop-color="#e8e8e8"/><stop offset="0.25" stop-color="#ffffff"/><stop offset="0.38" stop-color="#e0e0e0"/><stop offset="0.70" stop-color="#c0c0c0"/><stop offset="1.00" stop-color="#606060"/></linearGradient><linearGradient id="g5" gradientUnits="userSpaceOnUse" x1="232.84" y1="101.29" x2="238.26" y2="102.21"><stop offset="0.00" stop-color="#a0a0a0"/><stop offset="0.12" stop-color="#e8e8e8"/><stop offset="0.25" stop-color="#ffffff"/><stop offset="0.38" stop-color="#e0e0e0"/><stop offset="0.70" stop-color="#c0c0c0"/><stop offset="1.00" stop-color="#606060"/></linearGradient><linearGradient id="g6" gradientUnits="userSpaceOnUse" x1="239.61" y1="136.36" x2="244.39" y2="133.64"><stop offset="0.00" stop-color="#a0a0a0"/><stop offset="0.12" stop-color="#e8e8e8"/><stop offset="0.25" stop-color="#ffffff"/><stop offset="0.38" stop-color="#e0e0e0"/><stop offset="0.70" stop-color="#c0c0c0"/><stop offset="1.00" stop-color="#606060"/></linearGradient><linearGradient id="g7" gradientUnits="userSpaceOnUse" x1="225.44" y1="131.56" x2="221.56" y2="135.44"><stop offset="0.00" stop-color="#a0a0a0"/><stop offset="0.12" stop-color="#e8e8e8"/><stop offset="0.25" stop-color="#ffffff"/><stop offset="0.38" stop-color="#e0e0e0"/><stop offset="0.70" stop-color="#c0c0c0"/><stop offset="1.00" stop-color="#606060"/></linearGradient><linearGradient id="g8" gradientUnits="userSpaceOnUse" x1="221.61" y1="138.14" x2="226.39" y2="140.86"><stop offset="0.00" stop-color="#a0a0a0"/><stop offset="0.12" stop-color="#e8e8e8"/><stop offset="0.25" stop-color="#ffffff"/><stop offset="0.38" stop-color="#e0e0e0"/><stop offset="0.70" stop-color="#c0c0c0"/><stop offset="1.00" stop-color="#606060"/></linearGradient><linearGradient id="g9" gradientUnits="userSpaceOnUse" x1="236.98" y1="116.81" x2="247.02" y2="121.29"><stop offset="0.00" stop-color="#10a010"/><stop offset="0.12" stop-color="#40e040"/><stop offset="0.25" stop-color="#a0ffa0"/><stop offset="0.38" stop-color="#30e030"/><stop offset="0.70" stop-color="#1cc81c"/><stop offset="1.00" stop-color="#0a600a"/></linearGradient><linearGradient id="g10" gradientUnits="userSpaceOnUse" x1="228.95" y1="127.42" x2="235.05" y2="136.58"><stop offset="0.00" stop-color="#10a010"/><stop offset="0.12" stop-color="#40e040"/><stop offset="0.25" stop-color="#a0ffa0"/><stop offset="0.38" stop-color="#30e030"/><stop offset="0.70" stop-color="#1cc81c"/><stop offset="1.00" stop-color="#0a600a"/></linearGradient><linearGradient id="g11" gradientUnits="userSpaceOnUse" x1="263.57" y1="65.95" x2="272.58" y2="72.25"><stop offset="0.00" stop-color="#10a010"/><stop offset="0.12" stop-color="#40e040"/><stop offset="0.25" stop-color="#a0ffa0"/><stop offset="0.38" stop-color="#30e030"/><stop offset="0.70" stop-color="#1cc81c"/><stop offset="1.00" stop-color="#0a600a"/></linearGradient><linearGradient id="g12" gradientUnits="userSpaceOnUse" x1="269.72" y1="57.15" x2="278.73" y2="63.45"><stop offset="0.00" stop-color="#a02018"/><stop offset="0.12" stop-color="#e05048"/><stop offset="0.25" stop-color="#ff9088"/><stop offset="0.38" stop-color="#e03a30"/><stop offset="0.70" stop-color="#c82a20"/><stop offset="1.00" stop-color="#601008"/></linearGradient><linearGradient id="g13" gradientUnits="userSpaceOnUse" x1="233.90" y1="84.68" x2="244.50" y2="87.62"><stop offset="0.00" stop-color="#10a010"/><stop offset="0.12" stop-color="#40e040"/><stop offset="0.25" stop-color="#a0ffa0"/><stop offset="0.38" stop-color="#30e030"/><stop offset="0.70" stop-color="#1cc81c"/><stop offset="1.00" stop-color="#0a600a"/></linearGradient><linearGradient id="g14" gradientUnits="userSpaceOnUse" x1="252.63" y1="69.70" x2="254.17" y2="80.60"><stop offset="0.00" stop-color="#10a010"/><stop offset="0.12" stop-color="#40e040"/><stop offset="0.25" stop-color="#a0ffa0"/><stop offset="0.38" stop-color="#30e030"/><stop offset="0.70" stop-color="#1cc81c"/><stop offset="1.00" stop-color="#0a600a"/></linearGradient><linearGradient id="g15" gradientUnits="userSpaceOnUse" x1="274.97" y1="75.20" x2="267.53" y2="83.30"><stop offset="0.00" stop-color="#10a010"/><stop offset="0.12" stop-color="#40e040"/><stop offset="0.25" stop-color="#a0ffa0"/><stop offset="0.38" stop-color="#30e030"/><stop offset="0.70" stop-color="#1cc81c"/><stop offset="1.00" stop-color="#0a600a"/></linearGradient><linearGradient id="g16" gradientUnits="userSpaceOnUse" x1="267.18" y1="92.35" x2="276.82" y2="97.65"><stop offset="0.00" stop-color="#10a010"/><stop offset="0.12" stop-color="#40e040"/><stop offset="0.25" stop-color="#a0ffa0"/><stop offset="0.38" stop-color="#30e030"/><stop offset="0.70" stop-color="#1cc81c"/><stop offset="1.00" stop-color="#0a600a"/></linearGradient><linearGradient id="g17" gradientUnits="userSpaceOnUse" x1="254.92" y1="102.21" x2="257.58" y2="112.89"><stop offset="0.00" stop-color="#10a010"/><stop offset="0.12" stop-color="#40e040"/><stop offset="0.25" stop-color="#a0ffa0"/><stop offset="0.38" stop-color="#30e030"/><stop offset="0.70" stop-color="#1cc81c"/><stop offset="1.00" stop-color="#0a600a"/></linearGradient><linearGradient id="g18" gradientUnits="userSpaceOnUse" x1="236.68" y1="105.78" x2="245.92" y2="99.82"><stop offset="0.00" stop-color="#10a010"/><stop offset="0.12" stop-color="#40e040"/><stop offset="0.25" stop-color="#a0ffa0"/><stop offset="0.38" stop-color="#30e030"/><stop offset="0.70" stop-color="#1cc81c"/><stop offset="1.00" stop-color="#0a600a"/></linearGradient><linearGradient id="g19" gradientUnits="userSpaceOnUse" x1="203.17" y1="157.17" x2="208.83" y2="162.83"><stop offset="0.00" stop-color="#1010a0"/><stop offset="0.12" stop-color="#4040e8"/><stop offset="0.25" stop-color="#9090ff"/><stop offset="0.38" stop-color="#2a2ae8"/><stop offset="0.70" stop-color="#1818c8"/><stop offset="1.00" stop-color="#08086a"/></linearGradient><linearGradient id="g20" gradientUnits="userSpaceOnUse" x1="206.58" y1="162.63" x2="211.82" y2="160.97"><stop offset="0.00" stop-color="#a0a0a0"/><stop offset="0.12" stop-color="#e8e8e8"/><stop offset="0.25" stop-color="#ffffff"/><stop offset="0.38" stop-color="#e0e0e0"/><stop offset="0.70" stop-color="#c0c0c0"/><stop offset="1.00" stop-color="#606060"/></linearGradient><linearGradient id="g21" gradientUnits="userSpaceOnUse" x1="139.12" y1="175.29" x2="144.38" y2="173.71"><stop offset="0.00" stop-color="#a0a0a0"/><stop offset="0.12" stop-color="#e8e8e8"/><stop offset="0.25" stop-color="#ffffff"/><stop offset="0.38" stop-color="#e0e0e0"/><stop offset="0.70" stop-color="#c0c0c0"/><stop offset="1.00" stop-color="#606060"/></linearGradient><linearGradient id="g22" gradientUnits="userSpaceOnUse" x1="165.37" y1="177.19" x2="170.33" y2="174.81"><stop offset="0.00" stop-color="#a0a0a0"/><stop offset="0.12" stop-color="#e8e8e8"/><stop offset="0.25" stop-color="#ffffff"/><stop offset="0.38" stop-color="#e0e0e0"/><stop offset="0.70" stop-color="#c0c0c0"/><stop offset="1.00" stop-color="#606060"/></linearGradient><linearGradient id="g23" gradientUnits="userSpaceOnUse" x1="192.27" y1="164.14" x2="197.73" y2="164.86"><stop offset="0.00" stop-color="#a0a0a0"/><stop offset="0.12" stop-color="#e8e8e8"/><stop offset="0.25" stop-color="#ffffff"/><stop offset="0.38" stop-color="#e0e0e0"/><stop offset="0.70" stop-color="#c0c0c0"/><stop offset="1.00" stop-color="#606060"/></linearGradient><linearGradient id="g24" gradientUnits="userSpaceOnUse" x1="216.98" y1="138.44" x2="215.62" y2="143.76"><stop offset="0.00" stop-color="#a0a0a0"/><stop offset="0.12" stop-color="#e8e8e8"/><stop offset="0.25" stop-color="#ffffff"/><stop offset="0.38" stop-color="#e0e0e0"/><stop offset="0.70" stop-color="#c0c0c0"/><stop offset="1.00" stop-color="#606060"/></linearGradient><linearGradient id="g25" gradientUnits="userSpaceOnUse" x1="178.06" y1="122.64" x2="174.94" y2="127.16"><stop offset="0.00" stop-color="#a0a0a0"/><stop offset="0.12" stop-color="#e8e8e8"/><stop offset="0.25" stop-color="#ffffff"/><stop offset="0.38" stop-color="#e0e0e0"/><stop offset="0.70" stop-color="#c0c0c0"/><stop offset="1.00" stop-color="#606060"/></linearGradient><linearGradient id="g26" gradientUnits="userSpaceOnUse" x1="131.44" y1="189.56" x2="127.56" y2="193.44"><stop offset="0.00" stop-color="#a0a0a0"/><stop offset="0.12" stop-color="#e8e8e8"/><stop offset="0.25" stop-color="#ffffff"/><stop offset="0.38" stop-color="#e0e0e0"/><stop offset="0.70" stop-color="#c0c0c0"/><stop offset="1.00" stop-color="#606060"/></linearGradient><linearGradient id="g27" gradientUnits="userSpaceOnUse" x1="188.76" y1="99.20" x2="194.24" y2="98.80"><stop offset="0.00" stop-color="#a0a0a0"/><stop offset="0.12" stop-color="#e8e8e8"/><stop offset="0.25" stop-color="#ffffff"/><stop offset="0.38" stop-color="#e0e0e0"/><stop offset="0.70" stop-color="#c0c0c0"/><stop offset="1.00" stop-color="#606060"/></linearGradient><linearGradient id="g28" gradientUnits="userSpaceOnUse" x1="118.00" y1="145.13" x2="127.10" y2="138.97"><stop offset="0.00" stop-color="#a02018"/><stop offset="0.12" stop-color="#e05048"/><stop offset="0.25" stop-color="#ff9088"/><stop offset="0.38" stop-color="#e03a30"/><stop offset="0.70" stop-color="#c82a20"/><stop offset="1.00" stop-color="#601008"/></linearGradient><linearGradient id="g29" gradientUnits="userSpaceOnUse" x1="124.30" y1="154.43" x2="133.40" y2="148.27"><stop offset="0.00" stop-color="#a000a0"/><stop offset="0.12" stop-color="#e040e0"/><stop offset="0.25" stop-color="#ff80ff"/><stop offset="0.38" stop-color="#e410e4"/><stop offset="0.70" stop-color="#c800c8"/><stop offset="1.00" stop-color="#6a006a"/></linearGradient><radialGradient id="r30" cx="0.4" cy="0.35" r="0.65"><stop offset="0" stop-color="#ff9a90"/><stop offset="0.45" stop-color="#e03a30"/><stop offset="1" stop-color="#7a1008"/></radialGradient><linearGradient id="g31" gradientUnits="userSpaceOnUse" x1="131.71" y1="166.70" x2="141.29" y2="161.30"><stop offset="0.00" stop-color="#a000a0"/><stop offset="0.12" stop-color="#e040e0"/><stop offset="0.25" stop-color="#ff80ff"/><stop offset="0.38" stop-color="#e410e4"/><stop offset="0.70" stop-color="#c800c8"/><stop offset="1.00" stop-color="#6a006a"/></linearGradient><linearGradient id="g32" gradientUnits="userSpaceOnUse" x1="133.24" y1="172.24" x2="141.26" y2="179.76"><stop offset="0.00" stop-color="#a000a0"/><stop offset="0.12" stop-color="#e040e0"/><stop offset="0.25" stop-color="#ff80ff"/><stop offset="0.38" stop-color="#e410e4"/><stop offset="0.70" stop-color="#c800c8"/><stop offset="1.00" stop-color="#6a006a"/></linearGradient><linearGradient id="g33" gradientUnits="userSpaceOnUse" x1="125.74" y1="180.24" x2="133.76" y2="187.76"><stop offset="0.00" stop-color="#1010a0"/><stop offset="0.12" stop-color="#4040e8"/><stop offset="0.25" stop-color="#9090ff"/><stop offset="0.38" stop-color="#2a2ae8"/><stop offset="0.70" stop-color="#1818c8"/><stop offset="1.00" stop-color="#08086a"/></linearGradient><linearGradient id="g34" gradientUnits="userSpaceOnUse" x1="151.56" y1="164.58" x2="153.44" y2="175.42"><stop offset="0.00" stop-color="#a000a0"/><stop offset="0.12" stop-color="#e040e0"/><stop offset="0.25" stop-color="#ff80ff"/><stop offset="0.38" stop-color="#e410e4"/><stop offset="0.70" stop-color="#c800c8"/><stop offset="1.00" stop-color="#6a006a"/></linearGradient><linearGradient id="g35" gradientUnits="userSpaceOnUse" x1="169.11" y1="155.11" x2="176.89" y2="162.89"><stop offset="0.00" stop-color="#a000a0"/><stop offset="0.12" stop-color="#e040e0"/><stop offset="0.25" stop-color="#ff80ff"/><stop offset="0.38" stop-color="#e410e4"/><stop offset="0.70" stop-color="#c800c8"/><stop offset="1.00" stop-color="#6a006a"/></linearGradient><linearGradient id="g36" gradientUnits="userSpaceOnUse" x1="176.01" y1="139.25" x2="186.99" y2="138.75"><stop offset="0.00" stop-color="#a000a0"/><stop offset="0.12" stop-color="#e040e0"/><stop offset="0.25" stop-color="#ff80ff"/><stop offset="0.38" stop-color="#e410e4"/><stop offset="0.70" stop-color="#c800c8"/><stop offset="1.00" stop-color="#6a006a"/></linearGradient><linearGradient id="g37" gradientUnits="userSpaceOnUse" x1="181.58" y1="114.54" x2="191.42" y2="119.46"><stop offset="0.00" stop-color="#a000a0"/><stop offset="0.12" stop-color="#e040e0"/><stop offset="0.25" stop-color="#ff80ff"/><stop offset="0.38" stop-color="#e410e4"/><stop offset="0.70" stop-color="#c800c8"/><stop offset="1.00" stop-color="#6a006a"/></linearGradient><linearGradient id="g38" gradientUnits="userSpaceOnUse" x1="202.05" y1="103.22" x2="198.95" y2="113.78"><stop offset="0.00" stop-color="#a000a0"/><stop offset="0.12" stop-color="#e040e0"/><stop offset="0.25" stop-color="#ff80ff"/><stop offset="0.38" stop-color="#e410e4"/><stop offset="0.70" stop-color="#c800c8"/><stop offset="1.00" stop-color="#6a006a"/></linearGradient><linearGradient id="g39" gradientUnits="userSpaceOnUse" x1="205.03" y1="126.07" x2="215.97" y2="124.93"><stop offset="0.00" stop-color="#a000a0"/><stop offset="0.12" stop-color="#e040e0"/><stop offset="0.25" stop-color="#ff80ff"/><stop offset="0.38" stop-color="#e410e4"/><stop offset="0.70" stop-color="#c800c8"/><stop offset="1.00" stop-color="#6a006a"/></linearGradient><linearGradient id="g40" gradientUnits="userSpaceOnUse" x1="199.99" y1="144.73" x2="208.01" y2="152.27"><stop offset="0.00" stop-color="#a000a0"/><stop offset="0.12" stop-color="#e040e0"/><stop offset="0.25" stop-color="#ff80ff"/><stop offset="0.38" stop-color="#e410e4"/><stop offset="0.70" stop-color="#c800c8"/><stop offset="1.00" stop-color="#6a006a"/></linearGradient><linearGradient id="g41" gradientUnits="userSpaceOnUse" x1="191.46" y1="148.58" x2="186.54" y2="158.42"><stop offset="0.00" stop-color="#a000a0"/><stop offset="0.12" stop-color="#e040e0"/><stop offset="0.25" stop-color="#ff80ff"/><stop offset="0.38" stop-color="#e410e4"/><stop offset="0.70" stop-color="#c800c8"/><stop offset="1.00" stop-color="#6a006a"/></linearGradient><linearGradient id="g42" gradientUnits="userSpaceOnUse" x1="209.30" y1="103.87" x2="215.95" y2="112.63"><stop offset="0.00" stop-color="#a000a0"/><stop offset="0.12" stop-color="#e040e0"/><stop offset="0.25" stop-color="#ff80ff"/><stop offset="0.38" stop-color="#e410e4"/><stop offset="0.70" stop-color="#c800c8"/><stop offset="1.00" stop-color="#6a006a"/></linearGradient><linearGradient id="g43" gradientUnits="userSpaceOnUse" x1="216.55" y1="98.37" x2="223.20" y2="107.13"><stop offset="0.00" stop-color="#a02018"/><stop offset="0.12" stop-color="#e05048"/><stop offset="0.25" stop-color="#ff9088"/><stop offset="0.38" stop-color="#e03a30"/><stop offset="0.70" stop-color="#c82a20"/><stop offset="1.00" stop-color="#601008"/></linearGradient><linearGradient id="g44" gradientUnits="userSpaceOnUse" x1="138.90" y1="350.26" x2="142.10" y2="354.74"><stop offset="0.00" stop-color="#a0a0a0"/><stop offset="0.12" stop-color="#e8e8e8"/><stop offset="0.25" stop-color="#ffffff"/><stop offset="0.38" stop-color="#e0e0e0"/><stop offset="0.70" stop-color="#c0c0c0"/><stop offset="1.00" stop-color="#606060"/></linearGradient><linearGradient id="g45" gradientUnits="userSpaceOnUse" x1="109.89" y1="381.37" x2="115.11" y2="379.63"><stop offset="0.00" stop-color="#a0a0a0"/><stop offset="0.12" stop-color="#e8e8e8"/><stop offset="0.25" stop-color="#ffffff"/><stop offset="0.38" stop-color="#e0e0e0"/><stop offset="0.70" stop-color="#c0c0c0"/><stop offset="1.00" stop-color="#606060"/></linearGradient><linearGradient id="g46" gradientUnits="userSpaceOnUse" x1="151.28" y1="378.85" x2="154.72" y2="383.15"><stop offset="0.00" stop-color="#a0a0a0"/><stop offset="0.12" stop-color="#e8e8e8"/><stop offset="0.25" stop-color="#ffffff"/><stop offset="0.38" stop-color="#e0e0e0"/><stop offset="0.70" stop-color="#c0c0c0"/><stop offset="1.00" stop-color="#606060"/></linearGradient><linearGradient id="g47" gradientUnits="userSpaceOnUse" x1="106.67" y1="407.94" x2="110.33" y2="412.06"><stop offset="0.00" stop-color="#a0a0a0"/><stop offset="0.12" stop-color="#e8e8e8"/><stop offset="0.25" stop-color="#ffffff"/><stop offset="0.38" stop-color="#e0e0e0"/><stop offset="0.70" stop-color="#c0c0c0"/><stop offset="1.00" stop-color="#606060"/></linearGradient><linearGradient id="g48" gradientUnits="userSpaceOnUse" x1="151.44" y1="408.56" x2="147.56" y2="412.44"><stop offset="0.00" stop-color="#a0a0a0"/><stop offset="0.12" stop-color="#e8e8e8"/><stop offset="0.25" stop-color="#ffffff"/><stop offset="0.38" stop-color="#e0e0e0"/><stop offset="0.70" stop-color="#c0c0c0"/><stop offset="1.00" stop-color="#606060"/></linearGradient><linearGradient id="g49" gradientUnits="userSpaceOnUse" x1="132.28" y1="437.40" x2="128.72" y2="441.60"><stop offset="0.00" stop-color="#a0a0a0"/><stop offset="0.12" stop-color="#e8e8e8"/><stop offset="0.25" stop-color="#ffffff"/><stop offset="0.38" stop-color="#e0e0e0"/><stop offset="0.70" stop-color="#c0c0c0"/><stop offset="1.00" stop-color="#606060"/></linearGradient><linearGradient id="g50" gradientUnits="userSpaceOnUse" x1="107.25" y1="441.00" x2="112.75" y2="441.00"><stop offset="0.00" stop-color="#a0a0a0"/><stop offset="0.12" stop-color="#e8e8e8"/><stop offset="0.25" stop-color="#ffffff"/><stop offset="0.38" stop-color="#e0e0e0"/><stop offset="0.70" stop-color="#c0c0c0"/><stop offset="1.00" stop-color="#606060"/></linearGradient><linearGradient id="g51" gradientUnits="userSpaceOnUse" x1="85.18" y1="417.92" x2="76.82" y2="425.08"><stop offset="0.00" stop-color="#a02018"/><stop offset="0.12" stop-color="#e05048"/><stop offset="0.25" stop-color="#ff9088"/><stop offset="0.38" stop-color="#e03a30"/><stop offset="0.70" stop-color="#c82a20"/><stop offset="1.00" stop-color="#601008"/></linearGradient><linearGradient id="g52" gradientUnits="userSpaceOnUse" x1="91.18" y1="424.92" x2="82.82" y2="432.08"><stop offset="0.00" stop-color="#10a010"/><stop offset="0.12" stop-color="#40e040"/><stop offset="0.25" stop-color="#a0ffa0"/><stop offset="0.38" stop-color="#30e030"/><stop offset="0.70" stop-color="#1cc81c"/><stop offset="1.00" stop-color="#0a600a"/></linearGradient><linearGradient id="g53" gradientUnits="userSpaceOnUse" x1="102.83" y1="433.28" x2="97.17" y2="442.72"><stop offset="0.00" stop-color="#10a010"/><stop offset="0.12" stop-color="#40e040"/><stop offset="0.25" stop-color="#a0ffa0"/><stop offset="0.38" stop-color="#30e030"/><stop offset="0.70" stop-color="#1cc81c"/><stop offset="1.00" stop-color="#0a600a"/></linearGradient><linearGradient id="g54" gradientUnits="userSpaceOnUse" x1="113.80" y1="434.52" x2="120.20" y2="443.48"><stop offset="0.00" stop-color="#10a010"/><stop offset="0.12" stop-color="#40e040"/><stop offset="0.25" stop-color="#a0ffa0"/><stop offset="0.38" stop-color="#30e030"/><stop offset="0.70" stop-color="#1cc81c"/><stop offset="1.00" stop-color="#0a600a"/></linearGradient><linearGradient id="g55" gradientUnits="userSpaceOnUse" x1="120.63" y1="423.81" x2="131.37" y2="426.19"><stop offset="0.00" stop-color="#10a010"/><stop offset="0.12" stop-color="#40e040"/><stop offset="0.25" stop-color="#a0ffa0"/><stop offset="0.38" stop-color="#30e030"/><stop offset="0.70" stop-color="#1cc81c"/><stop offset="1.00" stop-color="#0a600a"/></linearGradient><linearGradient id="g56" gradientUnits="userSpaceOnUse" x1="103.50" y1="446.36" x2="114.00" y2="449.64"><stop offset="0.00" stop-color="#10a010"/><stop offset="0.12" stop-color="#40e040"/><stop offset="0.25" stop-color="#a0ffa0"/><stop offset="0.38" stop-color="#30e030"/><stop offset="0.70" stop-color="#1cc81c"/><stop offset="1.00" stop-color="#0a600a"/></linearGradient><linearGradient id="g57" gradientUnits="userSpaceOnUse" x1="101.00" y1="454.36" x2="111.50" y2="457.64"><stop offset="0.00" stop-color="#1010a0"/><stop offset="0.12" stop-color="#4040e8"/><stop offset="0.25" stop-color="#9090ff"/><stop offset="0.38" stop-color="#2a2ae8"/><stop offset="0.70" stop-color="#1818c8"/><stop offset="1.00" stop-color="#08086a"/></linearGradient><linearGradient id="g58" gradientUnits="userSpaceOnUse" x1="129.31" y1="369.18" x2="140.19" y2="370.82"><stop offset="0.00" stop-color="#10a010"/><stop offset="0.12" stop-color="#40e040"/><stop offset="0.25" stop-color="#a0ffa0"/><stop offset="0.38" stop-color="#30e030"/><stop offset="0.70" stop-color="#1cc81c"/><stop offset="1.00" stop-color="#0a600a"/></linearGradient><linearGradient id="g59" gradientUnits="userSpaceOnUse" x1="130.81" y1="359.18" x2="141.69" y2="360.82"><stop offset="0.00" stop-color="#a02018"/><stop offset="0.12" stop-color="#e05048"/><stop offset="0.25" stop-color="#ff9088"/><stop offset="0.38" stop-color="#e03a30"/><stop offset="0.70" stop-color="#c82a20"/><stop offset="1.00" stop-color="#601008"/></linearGradient><linearGradient id="g60" gradientUnits="userSpaceOnUse" x1="108.01" y1="395.24" x2="118.99" y2="395.76"><stop offset="0.00" stop-color="#10a010"/><stop offset="0.12" stop-color="#40e040"/><stop offset="0.25" stop-color="#a0ffa0"/><stop offset="0.38" stop-color="#30e030"/><stop offset="0.70" stop-color="#1cc81c"/><stop offset="1.00" stop-color="#0a600a"/></linearGradient><linearGradient id="g61" gradientUnits="userSpaceOnUse" x1="121.54" y1="375.08" x2="126.46" y2="384.92"><stop offset="0.00" stop-color="#10a010"/><stop offset="0.12" stop-color="#40e040"/><stop offset="0.25" stop-color="#a0ffa0"/><stop offset="0.38" stop-color="#30e030"/><stop offset="0.70" stop-color="#1cc81c"/><stop offset="1.00" stop-color="#0a600a"/></linearGradient><linearGradient id="g62" gradientUnits="userSpaceOnUse" x1="144.20" y1="375.52" x2="137.80" y2="384.48"><stop offset="0.00" stop-color="#10a010"/><stop offset="0.12" stop-color="#40e040"/><stop offset="0.25" stop-color="#a0ffa0"/><stop offset="0.38" stop-color="#30e030"/><stop offset="0.70" stop-color="#1cc81c"/><stop offset="1.00" stop-color="#0a600a"/></linearGradient><linearGradient id="g63" gradientUnits="userSpaceOnUse" x1="141.52" y1="395.50" x2="152.48" y2="396.50"><stop offset="0.00" stop-color="#10a010"/><stop offset="0.12" stop-color="#40e040"/><stop offset="0.25" stop-color="#a0ffa0"/><stop offset="0.38" stop-color="#30e030"/><stop offset="0.70" stop-color="#1cc81c"/><stop offset="1.00" stop-color="#0a600a"/></linearGradient><linearGradient id="g64" gradientUnits="userSpaceOnUse" x1="134.54" y1="406.58" x2="139.46" y2="416.42"><stop offset="0.00" stop-color="#10a010"/><stop offset="0.12" stop-color="#40e040"/><stop offset="0.25" stop-color="#a0ffa0"/><stop offset="0.38" stop-color="#30e030"/><stop offset="0.70" stop-color="#1cc81c"/><stop offset="1.00" stop-color="#0a600a"/></linearGradient><linearGradient id="g65" gradientUnits="userSpaceOnUse" x1="123.55" y1="406.42" x2="117.45" y2="415.58"><stop offset="0.00" stop-color="#10a010"/><stop offset="0.12" stop-color="#40e040"/><stop offset="0.25" stop-color="#a0ffa0"/><stop offset="0.38" stop-color="#30e030"/><stop offset="0.70" stop-color="#1cc81c"/><stop offset="1.00" stop-color="#0a600a"/></linearGradient><linearGradient id="g66" gradientUnits="userSpaceOnUse" x1="172.46" y1="424.30" x2="173.54" y2="429.70"><stop offset="0.00" stop-color="#a0a0a0"/><stop offset="0.12" stop-color="#e8e8e8"/><stop offset="0.25" stop-color="#ffffff"/><stop offset="0.38" stop-color="#e0e0e0"/><stop offset="0.70" stop-color="#c0c0c0"/><stop offset="1.00" stop-color="#606060"/></linearGradient><linearGradient id="g67" gradientUnits="userSpaceOnUse" x1="158.29" y1="454.01" x2="163.71" y2="454.99"><stop offset="0.00" stop-color="#a0a0a0"/><stop offset="0.12" stop-color="#e8e8e8"/><stop offset="0.25" stop-color="#ffffff"/><stop offset="0.38" stop-color="#e0e0e0"/><stop offset="0.70" stop-color="#c0c0c0"/><stop offset="1.00" stop-color="#606060"/></linearGradient><linearGradient id="g68" gradientUnits="userSpaceOnUse" x1="101.25" y1="506.58" x2="105.75" y2="503.42"><stop offset="0.00" stop-color="#a0a0a0"/><stop offset="0.12" stop-color="#e8e8e8"/><stop offset="0.25" stop-color="#ffffff"/><stop offset="0.38" stop-color="#e0e0e0"/><stop offset="0.70" stop-color="#c0c0c0"/><stop offset="1.00" stop-color="#606060"/></linearGradient><linearGradient id="g69" gradientUnits="userSpaceOnUse" x1="131.03" y1="481.65" x2="126.97" y2="485.35"><stop offset="0.00" stop-color="#a0a0a0"/><stop offset="0.12" stop-color="#e8e8e8"/><stop offset="0.25" stop-color="#ffffff"/><stop offset="0.38" stop-color="#e0e0e0"/><stop offset="0.70" stop-color="#c0c0c0"/><stop offset="1.00" stop-color="#606060"/></linearGradient><linearGradient id="g70" gradientUnits="userSpaceOnUse" x1="109.77" y1="476.04" x2="112.23" y2="480.96"><stop offset="0.00" stop-color="#a0a0a0"/><stop offset="0.12" stop-color="#e8e8e8"/><stop offset="0.25" stop-color="#ffffff"/><stop offset="0.38" stop-color="#e0e0e0"/><stop offset="0.70" stop-color="#c0c0c0"/><stop offset="1.00" stop-color="#606060"/></linearGradient><linearGradient id="g71" gradientUnits="userSpaceOnUse" x1="84.86" y1="454.45" x2="94.14" y2="448.55"><stop offset="0.00" stop-color="#a02018"/><stop offset="0.12" stop-color="#e05048"/><stop offset="0.25" stop-color="#ff9088"/><stop offset="0.38" stop-color="#e03a30"/><stop offset="0.70" stop-color="#c82a20"/><stop offset="1.00" stop-color="#601008"/></linearGradient><linearGradient id="g72" gradientUnits="userSpaceOnUse" x1="91.86" y1="465.45" x2="101.14" y2="459.55"><stop offset="0.00" stop-color="#a000a0"/><stop offset="0.12" stop-color="#e040e0"/><stop offset="0.25" stop-color="#ff80ff"/><stop offset="0.38" stop-color="#e410e4"/><stop offset="0.70" stop-color="#c800c8"/><stop offset="1.00" stop-color="#6a006a"/></linearGradient><linearGradient id="g73" gradientUnits="userSpaceOnUse" x1="99.42" y1="477.05" x2="108.58" y2="470.95"><stop offset="0.00" stop-color="#a000a0"/><stop offset="0.12" stop-color="#e040e0"/><stop offset="0.25" stop-color="#ff80ff"/><stop offset="0.38" stop-color="#e410e4"/><stop offset="0.70" stop-color="#c800c8"/><stop offset="1.00" stop-color="#6a006a"/></linearGradient><linearGradient id="g74" gradientUnits="userSpaceOnUse" x1="100.89" y1="482.96" x2="111.11" y2="487.04"><stop offset="0.00" stop-color="#a000a0"/><stop offset="0.12" stop-color="#e040e0"/><stop offset="0.25" stop-color="#ff80ff"/><stop offset="0.38" stop-color="#e410e4"/><stop offset="0.70" stop-color="#c800c8"/><stop offset="1.00" stop-color="#6a006a"/></linearGradient><linearGradient id="g75" gradientUnits="userSpaceOnUse" x1="96.89" y1="492.96" x2="107.11" y2="497.04"><stop offset="0.00" stop-color="#1010a0"/><stop offset="0.12" stop-color="#4040e8"/><stop offset="0.25" stop-color="#9090ff"/><stop offset="0.38" stop-color="#2a2ae8"/><stop offset="0.70" stop-color="#1818c8"/><stop offset="1.00" stop-color="#08086a"/></linearGradient><linearGradient id="g76" gradientUnits="userSpaceOnUse" x1="115.32" y1="473.54" x2="116.68" y2="484.46"><stop offset="0.00" stop-color="#a000a0"/><stop offset="0.12" stop-color="#e040e0"/><stop offset="0.25" stop-color="#ff80ff"/><stop offset="0.38" stop-color="#e410e4"/><stop offset="0.70" stop-color="#c800c8"/><stop offset="1.00" stop-color="#6a006a"/></linearGradient><linearGradient id="g77" gradientUnits="userSpaceOnUse" x1="127.55" y1="463.77" x2="136.45" y2="470.23"><stop offset="0.00" stop-color="#a000a0"/><stop offset="0.12" stop-color="#e040e0"/><stop offset="0.25" stop-color="#ff80ff"/><stop offset="0.38" stop-color="#e410e4"/><stop offset="0.70" stop-color="#c800c8"/><stop offset="1.00" stop-color="#6a006a"/></linearGradient><linearGradient id="g78" gradientUnits="userSpaceOnUse" x1="127.53" y1="432.39" x2="138.47" y2="433.61"><stop offset="0.00" stop-color="#a000a0"/><stop offset="0.12" stop-color="#e040e0"/><stop offset="0.25" stop-color="#ff80ff"/><stop offset="0.38" stop-color="#e410e4"/><stop offset="0.70" stop-color="#c800c8"/><stop offset="1.00" stop-color="#6a006a"/></linearGradient><linearGradient id="g79" gradientUnits="userSpaceOnUse" x1="144.26" y1="414.78" x2="147.74" y2="425.22"><stop offset="0.00" stop-color="#a000a0"/><stop offset="0.12" stop-color="#e040e0"/><stop offset="0.25" stop-color="#ff80ff"/><stop offset="0.38" stop-color="#e410e4"/><stop offset="0.70" stop-color="#c800c8"/><stop offset="1.00" stop-color="#6a006a"/></linearGradient><linearGradient id="g80" gradientUnits="userSpaceOnUse" x1="167.23" y1="418.48" x2="158.77" y2="425.52"><stop offset="0.00" stop-color="#a000a0"/><stop offset="0.12" stop-color="#e040e0"/><stop offset="0.25" stop-color="#ff80ff"/><stop offset="0.38" stop-color="#e410e4"/><stop offset="0.70" stop-color="#c800c8"/><stop offset="1.00" stop-color="#6a006a"/></linearGradient><linearGradient id="g81" gradientUnits="userSpaceOnUse" x1="159.71" y1="436.99" x2="170.29" y2="440.01"><stop offset="0.00" stop-color="#a000a0"/><stop offset="0.12" stop-color="#e040e0"/><stop offset="0.25" stop-color="#ff80ff"/><stop offset="0.38" stop-color="#e410e4"/><stop offset="0.70" stop-color="#c800c8"/><stop offset="1.00" stop-color="#6a006a"/></linearGradient><linearGradient id="g82" gradientUnits="userSpaceOnUse" x1="149.33" y1="447.26" x2="152.67" y2="457.74"><stop offset="0.00" stop-color="#a000a0"/><stop offset="0.12" stop-color="#e040e0"/><stop offset="0.25" stop-color="#ff80ff"/><stop offset="0.38" stop-color="#e410e4"/><stop offset="0.70" stop-color="#c800c8"/><stop offset="1.00" stop-color="#6a006a"/></linearGradient><linearGradient id="g83" gradientUnits="userSpaceOnUse" x1="131.22" y1="451.73" x2="140.78" y2="446.27"><stop offset="0.00" stop-color="#a000a0"/><stop offset="0.12" stop-color="#e040e0"/><stop offset="0.25" stop-color="#ff80ff"/><stop offset="0.38" stop-color="#e410e4"/><stop offset="0.70" stop-color="#c800c8"/><stop offset="1.00" stop-color="#6a006a"/></linearGradient><linearGradient id="g84" gradientUnits="userSpaceOnUse" x1="153.97" y1="410.20" x2="164.53" y2="413.30"><stop offset="0.00" stop-color="#a000a0"/><stop offset="0.12" stop-color="#e040e0"/><stop offset="0.25" stop-color="#ff80ff"/><stop offset="0.38" stop-color="#e410e4"/><stop offset="0.70" stop-color="#c800c8"/><stop offset="1.00" stop-color="#6a006a"/></linearGradient><linearGradient id="g85" gradientUnits="userSpaceOnUse" x1="156.47" y1="401.70" x2="167.03" y2="404.80"><stop offset="0.00" stop-color="#a02018"/><stop offset="0.12" stop-color="#e05048"/><stop offset="0.25" stop-color="#ff9088"/><stop offset="0.38" stop-color="#e03a30"/><stop offset="0.70" stop-color="#c82a20"/><stop offset="1.00" stop-color="#601008"/></linearGradient><linearGradient id="g86" gradientUnits="userSpaceOnUse" x1="150.10" y1="669.26" x2="146.90" y2="673.74"><stop offset="0.00" stop-color="#a0a0a0"/><stop offset="0.12" stop-color="#e8e8e8"/><stop offset="0.25" stop-color="#ffffff"/><stop offset="0.38" stop-color="#e0e0e0"/><stop offset="0.70" stop-color="#c0c0c0"/><stop offset="1.00" stop-color="#606060"/></linearGradient><linearGradient id="g87" gradientUnits="userSpaceOnUse" x1="125.06" y1="692.96" x2="122.94" y2="698.04"><stop offset="0.00" stop-color="#a0a0a0"/><stop offset="0.12" stop-color="#e8e8e8"/><stop offset="0.25" stop-color="#ffffff"/><stop offset="0.38" stop-color="#e0e0e0"/><stop offset="0.70" stop-color="#c0c0c0"/><stop offset="1.00" stop-color="#606060"/></linearGradient><linearGradient id="g88" gradientUnits="userSpaceOnUse" x1="171.66" y1="701.77" x2="172.34" y2="707.23"><stop offset="0.00" stop-color="#a0a0a0"/><stop offset="0.12" stop-color="#e8e8e8"/><stop offset="0.25" stop-color="#ffffff"/><stop offset="0.38" stop-color="#e0e0e0"/><stop offset="0.70" stop-color="#c0c0c0"/><stop offset="1.00" stop-color="#606060"/></linearGradient><linearGradient id="g89" gradientUnits="userSpaceOnUse" x1="120.14" y1="722.27" x2="120.86" y2="727.73"><stop offset="0.00" stop-color="#a0a0a0"/><stop offset="0.12" stop-color="#e8e8e8"/><stop offset="0.25" stop-color="#ffffff"/><stop offset="0.38" stop-color="#e0e0e0"/><stop offset="0.70" stop-color="#c0c0c0"/><stop offset="1.00" stop-color="#606060"/></linearGradient><linearGradient id="g90" gradientUnits="userSpaceOnUse" x1="133.59" y1="757.12" x2="142.41" y2="758.88"><stop offset="0.00" stop-color="#0a600a"/><stop offset="0.15" stop-color="#2a9a2a"/><stop offset="0.30" stop-color="#60c060"/><stop offset="0.45" stop-color="#1a8a1a"/><stop offset="0.70" stop-color="#147414"/><stop offset="1.00" stop-color="#063806"/></linearGradient><linearGradient id="g91" gradientUnits="userSpaceOnUse" x1="131.76" y1="772.75" x2="140.74" y2="772.25"><stop offset="0.00" stop-color="#0a600a"/><stop offset="0.15" stop-color="#2a9a2a"/><stop offset="0.30" stop-color="#60c060"/><stop offset="0.45" stop-color="#1a8a1a"/><stop offset="0.70" stop-color="#147414"/><stop offset="1.00" stop-color="#063806"/></linearGradient><linearGradient id="g92" gradientUnits="userSpaceOnUse" x1="132.26" y1="781.75" x2="141.24" y2="781.25"><stop offset="0.00" stop-color="#1010a0"/><stop offset="0.12" stop-color="#4040e8"/><stop offset="0.25" stop-color="#9090ff"/><stop offset="0.38" stop-color="#2a2ae8"/><stop offset="0.70" stop-color="#1818c8"/><stop offset="1.00" stop-color="#08086a"/></linearGradient><linearGradient id="g93" gradientUnits="userSpaceOnUse" x1="135.18" y1="760.82" x2="128.82" y2="767.18"><stop offset="0.00" stop-color="#0a600a"/><stop offset="0.15" stop-color="#2a9a2a"/><stop offset="0.30" stop-color="#60c060"/><stop offset="0.45" stop-color="#1a8a1a"/><stop offset="0.70" stop-color="#147414"/><stop offset="1.00" stop-color="#063806"/></linearGradient><linearGradient id="g94" gradientUnits="userSpaceOnUse" x1="139.22" y1="738.27" x2="148.78" y2="743.73"><stop offset="0.00" stop-color="#10a010"/><stop offset="0.12" stop-color="#40e040"/><stop offset="0.25" stop-color="#a0ffa0"/><stop offset="0.38" stop-color="#30e030"/><stop offset="0.70" stop-color="#1cc81c"/><stop offset="1.00" stop-color="#0a600a"/></linearGradient><radialGradient id="r95" cx="0.4" cy="0.35" r="0.65"><stop offset="0" stop-color="#ff9a90"/><stop offset="0.45" stop-color="#e03a30"/><stop offset="1" stop-color="#7a1008"/></radialGradient><linearGradient id="g96" gradientUnits="userSpaceOnUse" x1="127.77" y1="752.04" x2="130.23" y2="756.96"><stop offset="0.00" stop-color="#a0a0a0"/><stop offset="0.12" stop-color="#e8e8e8"/><stop offset="0.25" stop-color="#ffffff"/><stop offset="0.38" stop-color="#e0e0e0"/><stop offset="0.70" stop-color="#c0c0c0"/><stop offset="1.00" stop-color="#606060"/></linearGradient><linearGradient id="g97" gradientUnits="userSpaceOnUse" x1="145.76" y1="685.66" x2="156.74" y2="686.34"><stop offset="0.00" stop-color="#10a010"/><stop offset="0.12" stop-color="#40e040"/><stop offset="0.25" stop-color="#a0ffa0"/><stop offset="0.38" stop-color="#30e030"/><stop offset="0.70" stop-color="#1cc81c"/><stop offset="1.00" stop-color="#0a600a"/></linearGradient><linearGradient id="g98" gradientUnits="userSpaceOnUse" x1="146.26" y1="677.66" x2="157.24" y2="678.34"><stop offset="0.00" stop-color="#6a3a1a"/><stop offset="0.15" stop-color="#b87040"/><stop offset="0.30" stop-color="#e0a070"/><stop offset="0.45" stop-color="#a86030"/><stop offset="0.70" stop-color="#8a4c24"/><stop offset="1.00" stop-color="#3a1a08"/></linearGradient><linearGradient id="g99" gradientUnits="userSpaceOnUse" x1="123.52" y1="710.58" x2="134.48" y2="711.42"><stop offset="0.00" stop-color="#10a010"/><stop offset="0.12" stop-color="#40e040"/><stop offset="0.25" stop-color="#a0ffa0"/><stop offset="0.38" stop-color="#30e030"/><stop offset="0.70" stop-color="#1cc81c"/><stop offset="1.00" stop-color="#0a600a"/></linearGradient><linearGradient id="g100" gradientUnits="userSpaceOnUse" x1="138.54" y1="688.86" x2="142.46" y2="699.14"><stop offset="0.00" stop-color="#10a010"/><stop offset="0.12" stop-color="#40e040"/><stop offset="0.25" stop-color="#a0ffa0"/><stop offset="0.38" stop-color="#30e030"/><stop offset="0.70" stop-color="#1cc81c"/><stop offset="1.00" stop-color="#0a600a"/></linearGradient><linearGradient id="g101" gradientUnits="userSpaceOnUse" x1="163.14" y1="693.38" x2="155.86" y2="701.62"><stop offset="0.00" stop-color="#10a010"/><stop offset="0.12" stop-color="#40e040"/><stop offset="0.25" stop-color="#a0ffa0"/><stop offset="0.38" stop-color="#30e030"/><stop offset="0.70" stop-color="#1cc81c"/><stop offset="1.00" stop-color="#0a600a"/></linearGradient><linearGradient id="g102" gradientUnits="userSpaceOnUse" x1="162.01" y1="714.21" x2="172.99" y2="714.79"><stop offset="0.00" stop-color="#10a010"/><stop offset="0.12" stop-color="#40e040"/><stop offset="0.25" stop-color="#a0ffa0"/><stop offset="0.38" stop-color="#30e030"/><stop offset="0.70" stop-color="#1cc81c"/><stop offset="1.00" stop-color="#0a600a"/></linearGradient><linearGradient id="g103" gradientUnits="userSpaceOnUse" x1="154.94" y1="724.13" x2="160.06" y2="733.87"><stop offset="0.00" stop-color="#10a010"/><stop offset="0.12" stop-color="#40e040"/><stop offset="0.25" stop-color="#a0ffa0"/><stop offset="0.38" stop-color="#30e030"/><stop offset="0.70" stop-color="#1cc81c"/><stop offset="1.00" stop-color="#0a600a"/></linearGradient><linearGradient id="g104" gradientUnits="userSpaceOnUse" x1="140.46" y1="724.08" x2="135.54" y2="733.92"><stop offset="0.00" stop-color="#10a010"/><stop offset="0.12" stop-color="#40e040"/><stop offset="0.25" stop-color="#a0ffa0"/><stop offset="0.38" stop-color="#30e030"/><stop offset="0.70" stop-color="#1cc81c"/><stop offset="1.00" stop-color="#0a600a"/></linearGradient><linearGradient id="g105" gradientUnits="userSpaceOnUse" x1="199.92" y1="716.91" x2="198.08" y2="722.09"><stop offset="0.00" stop-color="#a0a0a0"/><stop offset="0.12" stop-color="#e8e8e8"/><stop offset="0.25" stop-color="#ffffff"/><stop offset="0.38" stop-color="#e0e0e0"/><stop offset="0.70" stop-color="#c0c0c0"/><stop offset="1.00" stop-color="#606060"/></linearGradient><linearGradient id="g106" gradientUnits="userSpaceOnUse" x1="202.22" y1="754.85" x2="200.78" y2="760.15"><stop offset="0.00" stop-color="#a0a0a0"/><stop offset="0.12" stop-color="#e8e8e8"/><stop offset="0.25" stop-color="#ffffff"/><stop offset="0.38" stop-color="#e0e0e0"/><stop offset="0.70" stop-color="#c0c0c0"/><stop offset="1.00" stop-color="#606060"/></linearGradient><linearGradient id="g107" gradientUnits="userSpaceOnUse" x1="183.61" y1="782.86" x2="188.39" y2="780.14"><stop offset="0.00" stop-color="#a0a0a0"/><stop offset="0.12" stop-color="#e8e8e8"/><stop offset="0.25" stop-color="#ffffff"/><stop offset="0.38" stop-color="#e0e0e0"/><stop offset="0.70" stop-color="#c0c0c0"/><stop offset="1.00" stop-color="#606060"/></linearGradient><linearGradient id="g108" gradientUnits="userSpaceOnUse" x1="154.76" y1="723.20" x2="160.24" y2="722.80"><stop offset="0.00" stop-color="#a0a0a0"/><stop offset="0.12" stop-color="#e8e8e8"/><stop offset="0.25" stop-color="#ffffff"/><stop offset="0.38" stop-color="#e0e0e0"/><stop offset="0.70" stop-color="#c0c0c0"/><stop offset="1.00" stop-color="#606060"/></linearGradient><linearGradient id="g109" gradientUnits="userSpaceOnUse" x1="153.23" y1="789.54" x2="150.77" y2="794.46"><stop offset="0.00" stop-color="#a0a0a0"/><stop offset="0.12" stop-color="#e8e8e8"/><stop offset="0.25" stop-color="#ffffff"/><stop offset="0.38" stop-color="#e0e0e0"/><stop offset="0.70" stop-color="#c0c0c0"/><stop offset="1.00" stop-color="#606060"/></linearGradient><linearGradient id="g110" gradientUnits="userSpaceOnUse" x1="144.72" y1="805.85" x2="141.28" y2="810.15"><stop offset="0.00" stop-color="#a0a0a0"/><stop offset="0.12" stop-color="#e8e8e8"/><stop offset="0.25" stop-color="#ffffff"/><stop offset="0.38" stop-color="#e0e0e0"/><stop offset="0.70" stop-color="#c0c0c0"/><stop offset="1.00" stop-color="#606060"/></linearGradient><linearGradient id="g111" gradientUnits="userSpaceOnUse" x1="140.23" y1="783.04" x2="137.77" y2="787.96"><stop offset="0.00" stop-color="#a0a0a0"/><stop offset="0.12" stop-color="#e8e8e8"/><stop offset="0.25" stop-color="#ffffff"/><stop offset="0.38" stop-color="#e0e0e0"/><stop offset="0.70" stop-color="#c0c0c0"/><stop offset="1.00" stop-color="#606060"/></linearGradient><radialGradient id="r112" cx="0.4" cy="0.35" r="0.65"><stop offset="0" stop-color="#ff9a90"/><stop offset="0.45" stop-color="#e03a30"/><stop offset="1" stop-color="#7a1008"/></radialGradient><linearGradient id="g113" gradientUnits="userSpaceOnUse" x1="129.94" y1="787.71" x2="123.06" y2="796.29"><stop offset="0.00" stop-color="#a02018"/><stop offset="0.12" stop-color="#e05048"/><stop offset="0.25" stop-color="#ff9088"/><stop offset="0.38" stop-color="#e03a30"/><stop offset="0.70" stop-color="#c82a20"/><stop offset="1.00" stop-color="#601008"/></linearGradient><linearGradient id="g114" gradientUnits="userSpaceOnUse" x1="134.94" y1="791.71" x2="128.06" y2="800.29"><stop offset="0.00" stop-color="#a000a0"/><stop offset="0.12" stop-color="#e040e0"/><stop offset="0.25" stop-color="#ff80ff"/><stop offset="0.38" stop-color="#e410e4"/><stop offset="0.70" stop-color="#c800c8"/><stop offset="1.00" stop-color="#6a006a"/></linearGradient><linearGradient id="g115" gradientUnits="userSpaceOnUse" x1="147.76" y1="775.76" x2="156.24" y2="784.24"><stop offset="0.00" stop-color="#a000a0"/><stop offset="0.12" stop-color="#e040e0"/><stop offset="0.25" stop-color="#ff80ff"/><stop offset="0.38" stop-color="#e410e4"/><stop offset="0.70" stop-color="#c800c8"/><stop offset="1.00" stop-color="#6a006a"/></linearGradient><linearGradient id="g116" gradientUnits="userSpaceOnUse" x1="135.38" y1="793.89" x2="146.62" y2="798.11"><stop offset="0.00" stop-color="#a000a0"/><stop offset="0.12" stop-color="#e040e0"/><stop offset="0.25" stop-color="#ff80ff"/><stop offset="0.38" stop-color="#e410e4"/><stop offset="0.70" stop-color="#c800c8"/><stop offset="1.00" stop-color="#6a006a"/></linearGradient><linearGradient id="g117" gradientUnits="userSpaceOnUse" x1="130.84" y1="805.09" x2="140.16" y2="810.91"><stop offset="0.00" stop-color="#a000a0"/><stop offset="0.12" stop-color="#e040e0"/><stop offset="0.25" stop-color="#ff80ff"/><stop offset="0.38" stop-color="#e410e4"/><stop offset="0.70" stop-color="#c800c8"/><stop offset="1.00" stop-color="#6a006a"/></linearGradient><linearGradient id="g118" gradientUnits="userSpaceOnUse" x1="125.84" y1="813.09" x2="135.16" y2="818.91"><stop offset="0.00" stop-color="#1010a0"/><stop offset="0.12" stop-color="#4040e8"/><stop offset="0.25" stop-color="#9090ff"/><stop offset="0.38" stop-color="#2a2ae8"/><stop offset="0.70" stop-color="#1818c8"/><stop offset="1.00" stop-color="#08086a"/></linearGradient><linearGradient id="g119" gradientUnits="userSpaceOnUse" x1="147.42" y1="735.95" x2="156.58" y2="742.05"><stop offset="0.00" stop-color="#a000a0"/><stop offset="0.12" stop-color="#e040e0"/><stop offset="0.25" stop-color="#ff80ff"/><stop offset="0.38" stop-color="#e410e4"/><stop offset="0.70" stop-color="#c800c8"/><stop offset="1.00" stop-color="#6a006a"/></linearGradient><linearGradient id="g120" gradientUnits="userSpaceOnUse" x1="171.21" y1="725.00" x2="170.79" y2="736.00"><stop offset="0.00" stop-color="#a000a0"/><stop offset="0.12" stop-color="#e040e0"/><stop offset="0.25" stop-color="#ff80ff"/><stop offset="0.38" stop-color="#e410e4"/><stop offset="0.70" stop-color="#c800c8"/><stop offset="1.00" stop-color="#6a006a"/></linearGradient><linearGradient id="g121" gradientUnits="userSpaceOnUse" x1="185.04" y1="745.88" x2="194.96" y2="741.12"><stop offset="0.00" stop-color="#a000a0"/><stop offset="0.12" stop-color="#e040e0"/><stop offset="0.25" stop-color="#ff80ff"/><stop offset="0.38" stop-color="#e410e4"/><stop offset="0.70" stop-color="#c800c8"/><stop offset="1.00" stop-color="#6a006a"/></linearGradient><linearGradient id="g122" gradientUnits="userSpaceOnUse" x1="185.17" y1="764.37" x2="194.83" y2="769.63"><stop offset="0.00" stop-color="#a000a0"/><stop offset="0.12" stop-color="#e040e0"/><stop offset="0.25" stop-color="#ff80ff"/><stop offset="0.38" stop-color="#e410e4"/><stop offset="0.70" stop-color="#c800c8"/><stop offset="1.00" stop-color="#6a006a"/></linearGradient><linearGradient id="g123" gradientUnits="userSpaceOnUse" x1="173.33" y1="769.66" x2="170.67" y2="780.34"><stop offset="0.00" stop-color="#a000a0"/><stop offset="0.12" stop-color="#e040e0"/><stop offset="0.25" stop-color="#ff80ff"/><stop offset="0.38" stop-color="#e410e4"/><stop offset="0.70" stop-color="#c800c8"/><stop offset="1.00" stop-color="#6a006a"/></linearGradient><linearGradient id="g124" gradientUnits="userSpaceOnUse" x1="148.25" y1="762.77" x2="157.75" y2="757.23"><stop offset="0.00" stop-color="#a000a0"/><stop offset="0.12" stop-color="#e040e0"/><stop offset="0.25" stop-color="#ff80ff"/><stop offset="0.38" stop-color="#e410e4"/><stop offset="0.70" stop-color="#c800c8"/><stop offset="1.00" stop-color="#6a006a"/></linearGradient><linearGradient id="g125" gradientUnits="userSpaceOnUse" x1="181.22" y1="724.77" x2="190.78" y2="730.23"><stop offset="0.00" stop-color="#a000a0"/><stop offset="0.12" stop-color="#e040e0"/><stop offset="0.25" stop-color="#ff80ff"/><stop offset="0.38" stop-color="#e410e4"/><stop offset="0.70" stop-color="#c800c8"/><stop offset="1.00" stop-color="#6a006a"/></linearGradient><linearGradient id="g126" gradientUnits="userSpaceOnUse" x1="185.22" y1="717.77" x2="194.78" y2="723.23"><stop offset="0.00" stop-color="#a02018"/><stop offset="0.12" stop-color="#e05048"/><stop offset="0.25" stop-color="#ff9088"/><stop offset="0.38" stop-color="#e03a30"/><stop offset="0.70" stop-color="#c82a20"/><stop offset="1.00" stop-color="#601008"/></linearGradient></defs>
<path d="M418.60,246.30 L419.10,246.30 L419.60,246.30 L420.10,246.30 L420.60,246.30 L421.10,246.29 L421.60,246.29 L422.10,246.29 L422.60,246.29 L423.10,246.29 L423.60,246.28 L424.10,246.28 L424.60,246.27 L425.10,246.27 L425.60,246.26 L426.10,246.25 L426.60,246.24 L427.10,246.23 L427.60,246.22 L428.10,246.21 L428.60,246.19 L429.10,246.17 L429.60,246.15 L430.10,246.13 L430.60,246.11 L431.10,246.08 L431.60,246.05 L432.10,246.03 L432.60,245.99 L433.10,245.96 L433.60,245.93 L434.10,245.90 L434.60,245.86 L435.10,245.83 L435.60,245.79 L436.10,245.76 L436.60,245.73 L437.10,245.70 L437.60,245.67 L438.10,245.64 L438.60,245.62 L439.10,245.59 L439.60,245.57 L440.10,245.55 L440.60,245.54 L441.10,245.52 L441.60,245.50 L442.10,245.49 L442.60,245.47 L443.10,245.45 L443.60,245.43 L444.10,245.41 L444.60,245.39 L445.10,245.36 L445.60,245.32 L446.10,245.28 L446.60,245.24 L447.10,245.18 L447.60,245.12 L448.10,245.05 L448.60,244.98 L449.10,244.90 L449.60,244.81 L450.10,244.71 L450.60,244.61 L451.10,244.50 L451.60,244.39 L452.10,244.27 L452.60,244.15 L453.10,244.02 L453.60,243.90 L454.10,243.77 L454.60,243.63 L455.10,243.50 L455.60,243.36 L456.10,243.22 L456.60,243.08 L457.10,242.93 L457.60,242.78 L458.10,242.62 L458.60,242.45 L459.10,242.28 L459.60,242.09 L460.10,241.89 L460.60,241.68 L461.10,241.45 L461.60,241.21 L462.10,240.94 L462.60,240.66 L463.10,240.36 L463.60,240.03 L464.10,239.68 L464.60,239.31 L465.10,238.92 L465.60,238.51 L466.10,238.07 L466.60,237.62 L467.10,237.14 L467.60,236.65 L468.10,236.15 L468.60,235.63 L469.10,235.11 L469.60,234.57 L470.10,234.03 L470.60,233.48 L471.10,232.93 L471.60,232.38 L472.10,231.84 L472.60,231.29 L473.10,230.75 L473.60,230.22 L474.10,229.70 L474.60,229.18 L475.10,228.67 L475.60,228.17 L476.10,227.68 L476.60,227.21 L477.10,226.75 L477.60,226.29 L478.10,225.86 L478.60,225.44 L479.10,225.03 L479.60,224.65 L480.10,224.28 L480.60,223.93 L481.10,223.61 L481.60,223.32 L482.10,223.05 L482.60,222.81 L483.10,222.61 L483.60,222.45 L484.10,222.32 L484.60,222.24 L485.10,222.19 L485.60,222.20 L486.10,222.25 L486.60,222.35 L487.10,222.50 L487.60,222.70 L488.10,222.94 L488.60,223.24 L489.10,223.58 L489.60,223.97 L490.10,224.40 L490.60,224.88 L491.10,225.38 L491.60,225.93 L492.10,226.50 L492.60,227.10 L493.10,227.72 L493.60,228.37 L494.10,229.02 L494.60,229.69 L495.10,230.36 L495.60,231.03 L496.10,231.71 L496.60,232.38 L497.10,233.05 L497.60,233.70 L498.10,234.35 L498.60,234.98 L499.10,235.60 L499.60,236.20 L500.10,236.79 L500.60,237.36 L501.10,237.91 L501.60,238.45 L502.10,238.96 L502.60,239.46 L503.10,239.94 L503.60,240.40 L504.10,240.84 L504.60,241.26 L505.10,241.66 L505.60,242.05 L506.10,242.41 L506.60,242.76 L507.10,243.08 L507.60,243.39 L508.10,243.68 L508.60,243.94 L509.10,244.19 L509.60,244.42 L510.10,244.64 L510.60,244.83 L511.10,245.01 L511.60,245.18 L512.10,245.32 L512.60,245.45 L513.10,245.57 L513.60,245.68 L514.10,245.77 L514.60,245.85 L515.10,245.92 L515.60,245.98 L516.10,246.04 L516.60,246.08 L517.10,246.12 L517.60,246.15 L518.10,246.18 L518.60,246.20 L519.10,246.22 L519.60,246.24 L520.10,246.25 L520.60,246.26 L521.10,246.27 L521.60,246.28 L522.10,246.28 L522.60,246.29 L523.10,246.29 L523.60,246.29 L524.10,246.29 L524.60,246.30 L525.10,246.30 L525.60,246.30 L526.10,246.30 L526.60,246.30 L527.10,246.30 L527.60,246.30 L528.10,246.30 L528.60,246.30 L529.10,246.30 L529.60,246.30 L530.10,246.30 L530.60,246.30 L531.10,246.30 L531.60,246.30 L532.10,246.30 L532.60,246.30 L533.10,246.30 L533.60,246.30 L534.10,246.30 L534.60,246.30 L535.10,246.30 L535.60,246.30 L536.10,246.30 L536.60,246.30 L537.10,246.30 L537.60,246.30 L538.10,246.30 L538.60,246.30 L539.10,246.30 L539.60,246.30 L540.10,246.30 L540.60,246.30 L541.10,246.30 L541.60,246.30 L542.10,246.30 L542.60,246.30 L543.10,246.30 L543.60,246.30 L544.10,246.30 L544.60,246.30 L545.10,246.30 L545.60,246.30 L546.10,246.30 L546.60,246.30 L547.10,246.30 L547.60,246.30 L548.10,246.30 L548.60,246.30 L549.10,246.30 L549.60,246.30 L550.10,246.30 L550.60,246.30 L551.10,246.30 L551.60,246.30 L552.10,246.30 L552.60,246.30 L553.10,246.30 L553.60,246.30 L554.10,246.30 L554.60,246.30 L555.10,246.30 L555.60,246.30 L556.10,246.30 L556.60,246.29 L557.10,246.29 L557.60,246.29 L558.10,246.29 L558.60,246.28 L559.10,246.28 L559.60,246.28 L560.10,246.27 L560.60,246.26 L561.10,246.26 L561.60,246.25 L562.10,246.24 L562.60,246.23 L563.10,246.21 L563.60,246.20 L564.10,246.18 L564.60,246.16 L565.10,246.14 L565.60,246.12 L566.10,246.09 L566.60,246.06 L567.10,246.03 L567.60,246.00 L568.10,245.97 L568.60,245.94 L569.10,245.90 L569.60,245.86 L570.10,245.82 L570.60,245.78 L571.10,245.74 L571.60,245.70 L572.10,245.66 L572.60,245.61 L573.10,245.57 L573.60,245.53 L574.10,245.48 L574.60,245.43 L575.10,245.38 L575.60,245.33 L576.10,245.27 L576.60,245.21 L577.10,245.15 L577.60,245.08 L578.10,245.00 L578.60,244.91 L579.10,244.82 L579.60,244.72 L580.10,244.60 L580.60,244.48 L581.10,244.34 L581.60,244.19 L582.10,244.03 L582.60,243.85 L583.10,243.66 L583.60,243.45 L584.10,243.24 L584.60,243.01 L585.10,242.76 L585.60,242.51 L586.10,242.24 L586.60,241.96 L587.10,241.68 L587.60,241.38 L588.10,241.07 L588.60,240.76 L589.10,240.44 L589.60,240.11 L590.10,239.78 L590.60,239.43 L591.10,239.08 L591.60,238.72 L592.10,238.36 L592.60,237.98 L593.10,237.59 L593.60,237.19 L594.10,236.78 L594.60,236.35 L595.10,235.91 L595.60,235.46 L596.10,234.98 L596.60,234.49 L597.10,233.97 L597.60,233.44 L598.10,232.89 L598.60,232.31 L599.10,231.71 L599.60,231.09 L600.10,230.44 L600.60,229.77 L601.10,229.07 L601.60,228.34 L602.10,227.58 L602.60,226.79 L603.10,225.97 L603.60,225.10 L604.10,224.18 L604.60,223.22 L605.10,222.20 L605.60,221.12 L606.10,219.97 L606.60,218.73 L607.10,217.41 L607.60,216.00 L608.10,214.48 L608.60,212.84 L609.10,211.09 L609.60,209.20 L610.10,207.17 L610.60,205.00 L611.10,202.67 L611.60,200.19 L612.10,197.55 L612.60,194.75 L613.10,191.78 L613.60,188.66 L614.10,185.37 L614.60,181.93 L615.10,178.35 L615.60,174.63 L616.10,170.77 L616.60,166.80 L617.10,162.71 L617.60,158.53 L618.10,154.27 L618.60,149.93 L619.10,145.54 L619.60,141.10 L620.10,136.63 L620.60,132.14 L621.10,127.65 L621.60,123.17 L622.10,118.71 L622.60,114.28 L623.10,109.90 L623.60,105.58 L624.10,101.34 L624.60,97.18 L625.10,93.12 L625.60,89.17 L626.10,85.35 L626.60,81.66 L627.10,78.14 L627.60,74.78 L628.10,71.61 L628.60,68.65 L629.10,65.90 L629.60,63.38 L630.10,61.12 L630.60,59.12 L631.10,57.39 L631.60,55.96 L632.10,54.83 L632.60,54.02 L633.10,53.53 L633.60,53.36 L634.10,53.52 L634.60,54.01 L635.10,54.83 L635.60,55.97 L636.10,57.43 L636.60,59.20 L637.10,61.25 L637.60,63.59 L638.10,66.19 L638.60,69.03 L639.10,72.10 L639.60,75.37 L640.10,78.82 L640.60,82.44 L641.10,86.20 L641.60,90.09 L642.10,94.08 L642.60,98.16 L643.10,102.30 L643.60,106.50 L644.10,110.75 L644.60,115.03 L645.10,119.32 L645.60,123.64 L646.10,127.96 L646.60,132.28 L647.10,136.60 L647.60,140.92 L648.10,145.23 L648.60,149.52 L649.10,153.81 L649.60,158.07 L650.10,162.31 L650.60,166.53 L651.10,170.71 L651.60,174.86 L652.10,178.95 L652.60,183.00 L653.10,186.98 L653.60,190.88 L654.10,194.70 L654.60,198.42 L655.10,202.04 L655.60,205.53 L656.10,208.90 L656.60,212.13 L657.10,215.21 L657.60,218.13 L658.10,220.89 L658.60,223.49 L659.10,225.91 L659.60,228.17 L660.10,230.25 L660.60,232.17 L661.10,233.91 L661.60,235.50 L662.10,236.93 L662.60,238.21 L663.10,239.35 L663.60,240.36 L664.10,241.24 L664.60,242.02 L665.10,242.68 L665.60,243.26 L666.10,243.75 L666.60,244.17 L667.10,244.52 L667.60,244.81 L668.10,245.05 L668.60,245.25 L669.10,245.41 L669.60,245.54 L670.10,245.64 L670.60,245.73 L671.10,245.79 L671.60,245.85 L672.10,245.89 L672.60,245.92 L673.10,245.95 L673.60,245.97 L674.10,245.99 L674.60,246.00 L675.10,246.02 L675.60,246.03 L676.10,246.05 L676.60,246.06 L677.10,246.08 L677.60,246.09 L678.10,246.10 L678.60,246.12 L679.10,246.13 L679.60,246.15 L680.10,246.16 L680.60,246.17 L681.10,246.19 L681.60,246.20 L682.10,246.21 L682.60,246.22 L683.10,246.23 L683.60,246.24 L684.10,246.25 L684.60,246.26 L685.10,246.26 L685.60,246.27 L686.10,246.27 L686.60,246.28 L687.10,246.28 L687.60,246.28 L688.10,246.29 L688.60,246.29 L689.10,246.29 L689.60,246.29 L690.10,246.29 L690.60,246.30 L691.10,246.30 L691.60,246.30 L692.10,246.30 L692.60,246.30 L693.10,246.30 L693.60,246.30 L694.10,246.30 L694.60,246.30 L695.10,246.30 L695.60,246.30 L696.10,246.30 L696.60,246.30 L697.10,246.30 L697.60,246.30 L698.10,246.30 L698.60,246.30 L699.10,246.30 L699.60,246.30 L700.10,246.30 L700.60,246.30 L701.10,246.30 L701.60,246.30 L702.10,246.30 L702.60,246.30 L703.10,246.30 L703.60,246.30 L704.10,246.30 L704.60,246.30 L705.10,246.30 L705.60,246.30 L706.10,246.30 L706.60,246.30 L707.10,246.30 L707.60,246.30 L708.10,246.30 L708.60,246.30 L709.10,246.30 L709.60,246.30 L710.10,246.30 L710.60,246.30 L711.10,246.30 L711.60,246.30" fill="none" stroke="#138a13" stroke-width="1.6" stroke-linejoin="round"/>
<path d="M418.60,246.29 L419.10,246.29 L419.60,246.29 L420.10,246.29 L420.60,246.28 L421.10,246.28 L421.60,246.28 L422.10,246.27 L422.60,246.27 L423.10,246.27 L423.60,246.26 L424.10,246.26 L424.60,246.25 L425.10,246.24 L425.60,246.24 L426.10,246.23 L426.60,246.22 L427.10,246.21 L427.60,246.21 L428.10,246.20 L428.60,246.19 L429.10,246.18 L429.60,246.18 L430.10,246.17 L430.60,246.16 L431.10,246.15 L431.60,246.15 L432.10,246.14 L432.60,246.14 L433.10,246.13 L433.60,246.13 L434.10,246.13 L434.60,246.13 L435.10,246.13 L435.60,246.13 L436.10,246.13 L436.60,246.13 L437.10,246.13 L437.60,246.13 L438.10,246.13 L438.60,246.14 L439.10,246.14 L439.60,246.14 L440.10,246.14 L440.60,246.14 L441.10,246.14 L441.60,246.13 L442.10,246.13 L442.60,246.12 L443.10,246.11 L443.60,246.10 L444.10,246.08 L444.60,246.06 L445.10,246.04 L445.60,246.01 L446.10,245.98 L446.60,245.94 L447.10,245.90 L447.60,245.85 L448.10,245.80 L448.60,245.75 L449.10,245.69 L449.60,245.63 L450.10,245.57 L450.60,245.50 L451.10,245.43 L451.60,245.35 L452.10,245.28 L452.60,245.21 L453.10,245.13 L453.60,245.05 L454.10,244.98 L454.60,244.91 L455.10,244.83 L455.60,244.76 L456.10,244.69 L456.60,244.63 L457.10,244.56 L457.60,244.50 L458.10,244.44 L458.60,244.38 L459.10,244.32 L459.60,244.26 L460.10,244.20 L460.60,244.14 L461.10,244.08 L461.60,244.01 L462.10,243.94 L462.60,243.86 L463.10,243.77 L463.60,243.67 L464.10,243.57 L464.60,243.45 L465.10,243.33 L465.60,243.19 L466.10,243.03 L466.60,242.87 L467.10,242.69 L467.60,242.50 L468.10,242.30 L468.60,242.08 L469.10,241.85 L469.60,241.61 L470.10,241.35 L470.60,241.09 L471.10,240.82 L471.60,240.54 L472.10,240.25 L472.60,239.95 L473.10,239.64 L473.60,239.33 L474.10,239.02 L474.60,238.70 L475.10,238.37 L475.60,238.04 L476.10,237.70 L476.60,237.36 L477.10,237.02 L477.60,236.67 L478.10,236.31 L478.60,235.95 L479.10,235.59 L479.60,235.22 L480.10,234.85 L480.60,234.48 L481.10,234.11 L481.60,233.73 L482.10,233.36 L482.60,232.99 L483.10,232.63 L483.60,232.27 L484.10,231.92 L484.60,231.58 L485.10,231.26 L485.60,230.96 L486.10,230.67 L486.60,230.41 L487.10,230.17 L487.60,229.97 L488.10,229.79 L488.60,229.65 L489.10,229.54 L489.60,229.47 L490.10,229.43 L490.60,229.43 L491.10,229.48 L491.60,229.56 L492.10,229.68 L492.60,229.84 L493.10,230.04 L493.60,230.28 L494.10,230.55 L494.60,230.86 L495.10,231.19 L495.60,231.56 L496.10,231.96 L496.60,232.38 L497.10,232.82 L497.60,233.28 L498.10,233.76 L498.60,234.26 L499.10,234.77 L499.60,235.29 L500.10,235.81 L500.60,236.34 L501.10,236.87 L501.60,237.40 L502.10,237.93 L502.60,238.45 L503.10,238.97 L503.60,239.47 L504.10,239.97 L504.60,240.45 L505.10,240.91 L505.60,241.36 L506.10,241.78 L506.60,242.19 L507.10,242.58 L507.60,242.94 L508.10,243.28 L508.60,243.60 L509.10,243.90 L509.60,244.18 L510.10,244.43 L510.60,244.66 L511.10,244.87 L511.60,245.06 L512.10,245.23 L512.60,245.38 L513.10,245.51 L513.60,245.63 L514.10,245.74 L514.60,245.83 L515.10,245.90 L515.60,245.97 L516.10,246.03 L516.60,246.08 L517.10,246.12 L517.60,246.15 L518.10,246.18 L518.60,246.20 L519.10,246.22 L519.60,246.24 L520.10,246.25 L520.60,246.26 L521.10,246.27 L521.60,246.28 L522.10,246.28 L522.60,246.29 L523.10,246.29 L523.60,246.29 L524.10,246.29 L524.60,246.30 L525.10,246.30 L525.60,246.30 L526.10,246.30 L526.60,246.30 L527.10,246.30 L527.60,246.30 L528.10,246.30 L528.60,246.30 L529.10,246.30 L529.60,246.30 L530.10,246.30 L530.60,246.30 L531.10,246.30 L531.60,246.30 L532.10,246.30 L532.60,246.30 L533.10,246.30 L533.60,246.30 L534.10,246.30 L534.60,246.30 L535.10,246.30 L535.60,246.30 L536.10,246.30 L536.60,246.30 L537.10,246.30 L537.60,246.30 L538.10,246.30 L538.60,246.30 L539.10,246.30 L539.60,246.30 L540.10,246.30 L540.60,246.30 L541.10,246.30 L541.60,246.30 L542.10,246.30 L542.60,246.30 L543.10,246.30 L543.60,246.30 L544.10,246.30 L544.60,246.30 L545.10,246.30 L545.60,246.30 L546.10,246.30 L546.60,246.30 L547.10,246.30 L547.60,246.30 L548.10,246.30 L548.60,246.30 L549.10,246.29 L549.60,246.29 L550.10,246.29 L550.60,246.29 L551.10,246.29 L551.60,246.29 L552.10,246.29 L552.60,246.29 L553.10,246.28 L553.60,246.28 L554.10,246.28 L554.60,246.28 L555.10,246.28 L555.60,246.27 L556.10,246.27 L556.60,246.27 L557.10,246.27 L557.60,246.27 L558.10,246.27 L558.60,246.26 L559.10,246.26 L559.60,246.26 L560.10,246.26 L560.60,246.26 L561.10,246.26 L561.60,246.25 L562.10,246.25 L562.60,246.25 L563.10,246.24 L563.60,246.24 L564.10,246.23 L564.60,246.23 L565.10,246.22 L565.60,246.21 L566.10,246.20 L566.60,246.18 L567.10,246.17 L567.60,246.15 L568.10,246.12 L568.60,246.10 L569.10,246.07 L569.60,246.03 L570.10,246.00 L570.60,245.95 L571.10,245.91 L571.60,245.86 L572.10,245.80 L572.60,245.74 L573.10,245.68 L573.60,245.61 L574.10,245.54 L574.60,245.47 L575.10,245.39 L575.60,245.31 L576.10,245.23 L576.60,245.15 L577.10,245.06 L577.60,244.98 L578.10,244.89 L578.60,244.80 L579.10,244.71 L579.60,244.62 L580.10,244.53 L580.60,244.44 L581.10,244.34 L581.60,244.24 L582.10,244.13 L582.60,244.02 L583.10,243.90 L583.60,243.77 L584.10,243.63 L584.60,243.48 L585.10,243.32 L585.60,243.14 L586.10,242.94 L586.60,242.73 L587.10,242.49 L587.60,242.24 L588.10,241.97 L588.60,241.67 L589.10,241.36 L589.60,241.03 L590.10,240.68 L590.60,240.31 L591.10,239.92 L591.60,239.52 L592.10,239.11 L592.60,238.68 L593.10,238.25 L593.60,237.81 L594.10,237.37 L594.60,236.92 L595.10,236.48 L595.60,236.03 L596.10,235.58 L596.60,235.14 L597.10,234.69 L597.60,234.25 L598.10,233.80 L598.60,233.34 L599.10,232.87 L599.60,232.39 L600.10,231.90 L600.60,231.38 L601.10,230.83 L601.60,230.25 L602.10,229.63 L602.60,228.97 L603.10,228.25 L603.60,227.48 L604.10,226.65 L604.60,225.75 L605.10,224.78 L605.60,223.74 L606.10,222.62 L606.60,221.42 L607.10,220.14 L607.60,218.78 L608.10,217.33 L608.60,215.81 L609.10,214.19 L609.60,212.50 L610.10,210.72 L610.60,208.86 L611.10,206.91 L611.60,204.87 L612.10,202.75 L612.60,200.53 L613.10,198.22 L613.60,195.81 L614.10,193.30 L614.60,190.67 L615.10,187.93 L615.60,185.07 L616.10,182.08 L616.60,178.96 L617.10,175.70 L617.60,172.28 L618.10,168.72 L618.60,165.00 L619.10,161.13 L619.60,157.10 L620.10,152.91 L620.60,148.57 L621.10,144.09 L621.60,139.47 L622.10,134.73 L622.60,129.87 L623.10,124.92 L623.60,119.89 L624.10,114.80 L624.60,109.67 L625.10,104.52 L625.60,99.38 L626.10,94.27 L626.60,89.21 L627.10,84.23 L627.60,79.36 L628.10,74.60 L628.60,69.99 L629.10,65.56 L629.60,61.31 L630.10,57.27 L630.60,53.45 L631.10,49.88 L631.60,46.57 L632.10,43.54 L632.60,40.80 L633.10,38.36 L633.60,36.23 L634.10,34.44 L634.60,32.99 L635.10,31.89 L635.60,31.15 L636.10,30.79 L636.60,30.80 L637.10,31.20 L637.60,31.99 L638.10,33.18 L638.60,34.77 L639.10,36.75 L639.60,39.13 L640.10,41.90 L640.60,45.04 L641.10,48.56 L641.60,52.43 L642.10,56.63 L642.60,61.14 L643.10,65.95 L643.60,71.01 L644.10,76.31 L644.60,81.80 L645.10,87.46 L645.60,93.26 L646.10,99.16 L646.60,105.12 L647.10,111.12 L647.60,117.12 L648.10,123.09 L648.60,129.01 L649.10,134.84 L649.60,140.58 L650.10,146.19 L650.60,151.67 L651.10,157.00 L651.60,162.17 L652.10,167.17 L652.60,172.00 L653.10,176.65 L653.60,181.12 L654.10,185.42 L654.60,189.54 L655.10,193.49 L655.60,197.27 L656.10,200.88 L656.60,204.32 L657.10,207.61 L657.60,210.73 L658.10,213.70 L658.60,216.51 L659.10,219.16 L659.60,221.67 L660.10,224.03 L660.60,226.23 L661.10,228.29 L661.60,230.21 L662.10,231.99 L662.60,233.62 L663.10,235.13 L663.60,236.50 L664.10,237.74 L664.60,238.87 L665.10,239.88 L665.60,240.78 L666.10,241.58 L666.60,242.29 L667.10,242.91 L667.60,243.45 L668.10,243.92 L668.60,244.32 L669.10,244.66 L669.60,244.95 L670.10,245.20 L670.60,245.40 L671.10,245.57 L671.60,245.71 L672.10,245.82 L672.60,245.92 L673.10,245.99 L673.60,246.05 L674.10,246.09 L674.60,246.13 L675.10,246.16 L675.60,246.18 L676.10,246.20 L676.60,246.21 L677.10,246.22 L677.60,246.22 L678.10,246.23 L678.60,246.23 L679.10,246.23 L679.60,246.24 L680.10,246.24 L680.60,246.24 L681.10,246.24 L681.60,246.25 L682.10,246.25 L682.60,246.25 L683.10,246.25 L683.60,246.26 L684.10,246.26 L684.60,246.26 L685.10,246.26 L685.60,246.27 L686.10,246.27 L686.60,246.27 L687.10,246.28 L687.60,246.28 L688.10,246.28 L688.60,246.28 L689.10,246.29 L689.60,246.29 L690.10,246.29 L690.60,246.29 L691.10,246.29 L691.60,246.29 L692.10,246.29 L692.60,246.30 L693.10,246.30 L693.60,246.30 L694.10,246.30 L694.60,246.30 L695.10,246.30 L695.60,246.30 L696.10,246.30 L696.60,246.30 L697.10,246.30 L697.60,246.30 L698.10,246.30 L698.60,246.30 L699.10,246.30 L699.60,246.30 L700.10,246.30 L700.60,246.30 L701.10,246.30 L701.60,246.30 L702.10,246.30 L702.60,246.30 L703.10,246.30 L703.60,246.30 L704.10,246.30 L704.60,246.30 L705.10,246.30 L705.60,246.30 L706.10,246.30 L706.60,246.30 L707.10,246.30 L707.60,246.30 L708.10,246.30 L708.60,246.30 L709.10,246.30 L709.60,246.30 L710.10,246.30 L710.60,246.30 L711.10,246.30 L711.60,246.30" fill="none" stroke="#ff1aff" stroke-width="1.6" stroke-linejoin="round"/>
<rect x="418.60" y="9.90" width="293.30" height="236.40" fill="none" stroke="#4a4a4a" stroke-width="1.1"/>
<line x1="418.60" y1="246.30" x2="418.60" y2="249.60" stroke="#4a4a4a" stroke-width="1"/>
<text x="418.60" y="258.80" font-size="8.4" text-anchor="middle" fill="#333" textLength="22.9" lengthAdjust="spacingAndGlyphs">&#8722;180</text>
<line x1="467.48" y1="246.30" x2="467.48" y2="249.60" stroke="#4a4a4a" stroke-width="1"/>
<text x="467.48" y="258.80" font-size="8.4" text-anchor="middle" fill="#333" textLength="22.9" lengthAdjust="spacingAndGlyphs">&#8722;120</text>
<line x1="516.37" y1="246.30" x2="516.37" y2="249.60" stroke="#4a4a4a" stroke-width="1"/>
<text x="516.37" y="258.80" font-size="8.4" text-anchor="middle" fill="#333" textLength="17.6" lengthAdjust="spacingAndGlyphs">&#8722;60</text>
<line x1="565.25" y1="246.30" x2="565.25" y2="249.60" stroke="#4a4a4a" stroke-width="1"/>
<text x="565.25" y="258.80" font-size="8.4" text-anchor="middle" fill="#333" textLength="5.3" lengthAdjust="spacingAndGlyphs">0</text>
<line x1="614.13" y1="246.30" x2="614.13" y2="249.60" stroke="#4a4a4a" stroke-width="1"/>
<text x="614.13" y="258.80" font-size="8.4" text-anchor="middle" fill="#333" textLength="10.6" lengthAdjust="spacingAndGlyphs">60</text>
<line x1="663.02" y1="246.30" x2="663.02" y2="249.60" stroke="#4a4a4a" stroke-width="1"/>
<text x="663.02" y="258.80" font-size="8.4" text-anchor="middle" fill="#333" textLength="15.9" lengthAdjust="spacingAndGlyphs">120</text>
<line x1="711.90" y1="246.30" x2="711.90" y2="249.60" stroke="#4a4a4a" stroke-width="1"/>
<text x="711.90" y="258.80" font-size="8.4" text-anchor="middle" fill="#333" textLength="15.9" lengthAdjust="spacingAndGlyphs">180</text>
<line x1="415.30" y1="246.30" x2="418.60" y2="246.30" stroke="#4a4a4a" stroke-width="1"/>
<text x="412.60" y="249.30" font-size="8.4" text-anchor="end" fill="#333" textLength="23.8" lengthAdjust="spacingAndGlyphs">0.000</text>
<line x1="415.30" y1="167.50" x2="418.60" y2="167.50" stroke="#4a4a4a" stroke-width="1"/>
<text x="412.60" y="170.50" font-size="8.4" text-anchor="end" fill="#333" textLength="23.8" lengthAdjust="spacingAndGlyphs">0.009</text>
<line x1="415.30" y1="88.70" x2="418.60" y2="88.70" stroke="#4a4a4a" stroke-width="1"/>
<text x="412.60" y="91.70" font-size="8.4" text-anchor="end" fill="#333" textLength="23.8" lengthAdjust="spacingAndGlyphs">0.018</text>
<line x1="415.30" y1="9.90" x2="418.60" y2="9.90" stroke="#4a4a4a" stroke-width="1"/>
<text x="412.60" y="12.90" font-size="8.4" text-anchor="end" fill="#333" textLength="23.8" lengthAdjust="spacingAndGlyphs">0.027</text>
<text transform="translate(381.80,132.60) rotate(-90)" font-size="20.5" text-anchor="middle" fill="#1a1a1a" textLength="171.5" lengthAdjust="spacingAndGlyphs">Probability Density</text>
<text x="499.40" y="282.60" font-size="22" fill="#1a1a1a" textLength="54.7" lengthAdjust="spacingAndGlyphs">Y472</text>
<text x="558.90" y="282.60" font-size="22" font-style="italic" fill="#1a1a1a">&#967;</text>
<text x="569.70" y="282.60" font-size="11.0" fill="#1a1a1a" textLength="8" lengthAdjust="spacingAndGlyphs">2</text>
<text x="588.40" y="282.60" font-size="22" fill="#1a1a1a" textLength="58.0" lengthAdjust="spacingAndGlyphs">angle</text>
<rect x="423.50" y="14.50" width="61.50" height="25.50" rx="1.5" fill="#fff" stroke="#dcdcdc" stroke-width="0.8"/>
<line x1="425.50" y1="20.50" x2="443.50" y2="20.50" stroke="#138a13" stroke-width="1.8"/>
<text x="449.60" y="23.49" font-size="8.3" fill="#262626" textLength="24.8" lengthAdjust="spacingAndGlyphs">Active</text>
<line x1="425.50" y1="32.30" x2="443.50" y2="32.30" stroke="#ff1aff" stroke-width="1.8"/>
<text x="449.60" y="35.29" font-size="8.3" fill="#262626" textLength="31.8" lengthAdjust="spacingAndGlyphs">Inactive</text>
<path d="M417.90,555.11 L418.40,554.84 L418.90,554.55 L419.40,554.25 L419.90,553.94 L420.40,553.61 L420.90,553.27 L421.40,552.92 L421.90,552.56 L422.40,552.19 L422.90,551.81 L423.40,551.42 L423.90,551.03 L424.40,550.62 L424.90,550.21 L425.40,549.79 L425.90,549.36 L426.40,548.93 L426.90,548.49 L427.40,548.04 L427.90,547.58 L428.40,547.12 L428.90,546.65 L429.40,546.17 L429.90,545.69 L430.40,545.19 L430.90,544.68 L431.40,544.16 L431.90,543.63 L432.40,543.09 L432.90,542.53 L433.40,541.96 L433.90,541.37 L434.40,540.76 L434.90,540.14 L435.40,539.51 L435.90,538.85 L436.40,538.18 L436.90,537.50 L437.40,536.79 L437.90,536.07 L438.40,535.33 L438.90,534.58 L439.40,533.81 L439.90,533.03 L440.40,532.23 L440.90,531.43 L441.40,530.61 L441.90,529.78 L442.40,528.94 L442.90,528.10 L443.40,527.25 L443.90,526.40 L444.40,525.54 L444.90,524.68 L445.40,523.81 L445.90,522.95 L446.40,522.08 L446.90,521.21 L447.40,520.33 L447.90,519.46 L448.40,518.58 L448.90,517.70 L449.40,516.81 L449.90,515.92 L450.40,515.02 L450.90,514.11 L451.40,513.20 L451.90,512.26 L452.40,511.32 L452.90,510.36 L453.40,509.38 L453.90,508.39 L454.40,507.37 L454.90,506.34 L455.40,505.28 L455.90,504.19 L456.40,503.08 L456.90,501.94 L457.40,500.78 L457.90,499.59 L458.40,498.38 L458.90,497.13 L459.40,495.86 L459.90,494.56 L460.40,493.24 L460.90,491.89 L461.40,490.52 L461.90,489.13 L462.40,487.71 L462.90,486.28 L463.40,484.83 L463.90,483.36 L464.40,481.88 L464.90,480.38 L465.40,478.88 L465.90,477.37 L466.40,475.85 L466.90,474.32 L467.40,472.80 L467.90,471.27 L468.40,469.74 L468.90,468.20 L469.40,466.67 L469.90,465.14 L470.40,463.61 L470.90,462.08 L471.40,460.55 L471.90,459.01 L472.40,457.47 L472.90,455.93 L473.40,454.37 L473.90,452.81 L474.40,451.23 L474.90,449.64 L475.40,448.03 L475.90,446.41 L476.40,444.77 L476.90,443.10 L477.40,441.42 L477.90,439.71 L478.40,437.99 L478.90,436.26 L479.40,434.51 L479.90,432.76 L480.40,431.01 L480.90,429.27 L481.40,427.54 L481.90,425.84 L482.40,424.18 L482.90,422.57 L483.40,421.03 L483.90,419.56 L484.40,418.19 L484.90,416.92 L485.40,415.78 L485.90,414.77 L486.40,413.91 L486.90,413.22 L487.40,412.70 L487.90,412.37 L488.40,412.24 L488.90,412.32 L489.40,412.61 L489.90,413.12 L490.40,413.85 L490.90,414.81 L491.40,415.98 L491.90,417.38 L492.40,418.99 L492.90,420.80 L493.40,422.82 L493.90,425.02 L494.40,427.40 L494.90,429.95 L495.40,432.65 L495.90,435.49 L496.40,438.45 L496.90,441.52 L497.40,444.70 L497.90,447.95 L498.40,451.27 L498.90,454.65 L499.40,458.07 L499.90,461.53 L500.40,465.00 L500.90,468.49 L501.40,471.97 L501.90,475.45 L502.40,478.92 L502.90,482.36 L503.40,485.78 L503.90,489.16 L504.40,492.49 L504.90,495.79 L505.40,499.03 L505.90,502.21 L506.40,505.33 L506.90,508.39 L507.40,511.37 L507.90,514.28 L508.40,517.10 L508.90,519.84 L509.40,522.48 L509.90,525.04 L510.40,527.49 L510.90,529.83 L511.40,532.08 L511.90,534.21 L512.40,536.23 L512.90,538.13 L513.40,539.92 L513.90,541.60 L514.40,543.16 L514.90,544.60 L515.40,545.94 L515.90,547.17 L516.40,548.29 L516.90,549.31 L517.40,550.24 L517.90,551.08 L518.40,551.83 L518.90,552.50 L519.40,553.10 L519.90,553.64 L520.40,554.11 L520.90,554.53 L521.40,554.90 L521.90,555.22 L522.40,555.51 L522.90,555.76 L523.40,555.99 L523.90,556.19 L524.40,556.37 L524.90,556.53 L525.40,556.68 L525.90,556.81 L526.40,556.93 L526.90,557.04 L527.40,557.14 L527.90,557.23 L528.40,557.32 L528.90,557.40 L529.40,557.47 L529.90,557.54 L530.40,557.60 L530.90,557.66 L531.40,557.71 L531.90,557.76 L532.40,557.81 L532.90,557.85 L533.40,557.88 L533.90,557.91 L534.40,557.94 L534.90,557.97 L535.40,557.99 L535.90,558.01 L536.40,558.02 L536.90,558.04 L537.40,558.05 L537.90,558.06 L538.40,558.07 L538.90,558.07 L539.40,558.08 L539.90,558.08 L540.40,558.09 L540.90,558.09 L541.40,558.09 L541.90,558.09 L542.40,558.09 L542.90,558.09 L543.40,558.10 L543.90,558.10 L544.40,558.10 L544.90,558.09 L545.40,558.09 L545.90,558.09 L546.40,558.09 L546.90,558.09 L547.40,558.09 L547.90,558.09 L548.40,558.08 L548.90,558.08 L549.40,558.08 L549.90,558.07 L550.40,558.07 L550.90,558.06 L551.40,558.06 L551.90,558.05 L552.40,558.05 L552.90,558.04 L553.40,558.03 L553.90,558.02 L554.40,558.01 L554.90,558.00 L555.40,557.99 L555.90,557.98 L556.40,557.97 L556.90,557.96 L557.40,557.95 L557.90,557.94 L558.40,557.93 L558.90,557.92 L559.40,557.91 L559.90,557.90 L560.40,557.89 L560.90,557.88 L561.40,557.87 L561.90,557.86 L562.40,557.84 L562.90,557.83 L563.40,557.81 L563.90,557.80 L564.40,557.78 L564.90,557.76 L565.40,557.73 L565.90,557.70 L566.40,557.66 L566.90,557.62 L567.40,557.58 L567.90,557.52 L568.40,557.46 L568.90,557.39 L569.40,557.31 L569.90,557.22 L570.40,557.11 L570.90,557.00 L571.40,556.88 L571.90,556.74 L572.40,556.59 L572.90,556.43 L573.40,556.25 L573.90,556.06 L574.40,555.85 L574.90,555.63 L575.40,555.39 L575.90,555.14 L576.40,554.87 L576.90,554.58 L577.40,554.27 L577.90,553.94 L578.40,553.59 L578.90,553.21 L579.40,552.81 L579.90,552.39 L580.40,551.94 L580.90,551.46 L581.40,550.95 L581.90,550.41 L582.40,549.83 L582.90,549.22 L583.40,548.58 L583.90,547.90 L584.40,547.18 L584.90,546.42 L585.40,545.63 L585.90,544.80 L586.40,543.93 L586.90,543.03 L587.40,542.09 L587.90,541.12 L588.40,540.11 L588.90,539.08 L589.40,538.02 L589.90,536.93 L590.40,535.82 L590.90,534.68 L591.40,533.53 L591.90,532.35 L592.40,531.16 L592.90,529.94 L593.40,528.71 L593.90,527.45 L594.40,526.18 L594.90,524.88 L595.40,523.56 L595.90,522.22 L596.40,520.84 L596.90,519.43 L597.40,517.98 L597.90,516.50 L598.40,514.97 L598.90,513.39 L599.40,511.77 L599.90,510.10 L600.40,508.38 L600.90,506.60 L601.40,504.77 L601.90,502.90 L602.40,500.97 L602.90,499.00 L603.40,496.98 L603.90,494.93 L604.40,492.84 L604.90,490.72 L605.40,488.58 L605.90,486.43 L606.40,484.26 L606.90,482.09 L607.40,479.91 L607.90,477.74 L608.40,475.56 L608.90,473.40 L609.40,471.23 L609.90,469.08 L610.40,466.92 L610.90,464.75 L611.40,462.58 L611.90,460.39 L612.40,458.17 L612.90,455.91 L613.40,453.61 L613.90,451.26 L614.40,448.83 L614.90,446.33 L615.40,443.73 L615.90,441.04 L616.40,438.25 L616.90,435.34 L617.40,432.31 L617.90,429.16 L618.40,425.89 L618.90,422.50 L619.40,418.99 L619.90,415.36 L620.40,411.64 L620.90,407.82 L621.40,403.92 L621.90,399.95 L622.40,395.93 L622.90,391.87 L623.40,387.80 L623.90,383.73 L624.40,379.67 L624.90,375.66 L625.40,371.70 L625.90,367.81 L626.40,364.02 L626.90,360.34 L627.40,356.78 L627.90,353.36 L628.40,350.09 L628.90,346.98 L629.40,344.05 L629.90,341.30 L630.40,338.75 L630.90,336.39 L631.40,334.24 L631.90,332.30 L632.40,330.58 L632.90,329.07 L633.40,327.79 L633.90,326.73 L634.40,325.90 L634.90,325.29 L635.40,324.92 L635.90,324.77 L636.40,324.86 L636.90,325.18 L637.40,325.72 L637.90,326.50 L638.40,327.51 L638.90,328.75 L639.40,330.21 L639.90,331.89 L640.40,333.80 L640.90,335.92 L641.40,338.25 L641.90,340.79 L642.40,343.53 L642.90,346.46 L643.40,349.58 L643.90,352.87 L644.40,356.34 L644.90,359.97 L645.40,363.76 L645.90,367.69 L646.40,371.76 L646.90,375.96 L647.40,380.27 L647.90,384.70 L648.40,389.22 L648.90,393.84 L649.40,398.53 L649.90,403.31 L650.40,408.14 L650.90,413.03 L651.40,417.96 L651.90,422.93 L652.40,427.92 L652.90,432.92 L653.40,437.93 L653.90,442.94 L654.40,447.92 L654.90,452.88 L655.40,457.79 L655.90,462.66 L656.40,467.46 L656.90,472.18 L657.40,476.82 L657.90,481.36 L658.40,485.79 L658.90,490.10 L659.40,494.28 L659.90,498.33 L660.40,502.22 L660.90,505.97 L661.40,509.56 L661.90,512.98 L662.40,516.24 L662.90,519.33 L663.40,522.25 L663.90,525.00 L664.40,527.58 L664.90,530.00 L665.40,532.26 L665.90,534.36 L666.40,536.31 L666.90,538.12 L667.40,539.80 L667.90,541.34 L668.40,542.77 L668.90,544.08 L669.40,545.28 L669.90,546.39 L670.40,547.41 L670.90,548.35 L671.40,549.21 L671.90,550.00 L672.40,550.73 L672.90,551.40 L673.40,552.02 L673.90,552.59 L674.40,553.11 L674.90,553.60 L675.40,554.05 L675.90,554.46 L676.40,554.84 L676.90,555.19 L677.40,555.51 L677.90,555.80 L678.40,556.07 L678.90,556.31 L679.40,556.53 L679.90,556.73 L680.40,556.91 L680.90,557.08 L681.40,557.22 L681.90,557.35 L682.40,557.46 L682.90,557.56 L683.40,557.64 L683.90,557.72 L684.40,557.78 L684.90,557.84 L685.40,557.88 L685.90,557.92 L686.40,557.96 L686.90,557.98 L687.40,558.01 L687.90,558.03 L688.40,558.04 L688.90,558.05 L689.40,558.06 L689.90,558.07 L690.40,558.08 L690.90,558.08 L691.40,558.09 L691.90,558.09 L692.40,558.09 L692.90,558.09 L693.40,558.10 L693.90,558.10 L694.40,558.10 L694.90,558.10 L695.40,558.10 L695.90,558.10 L696.40,558.10 L696.90,558.10 L697.40,558.10 L697.90,558.10 L698.40,558.10 L698.90,558.10 L699.40,558.10 L699.90,558.10 L700.40,558.10 L700.90,558.10 L701.40,558.10 L701.90,558.10 L702.40,558.10 L702.90,558.10 L703.40,558.10 L703.90,558.10 L704.40,558.10 L704.90,558.10 L705.40,558.10 L705.90,558.10 L706.40,558.10 L706.90,558.10 L707.40,558.10 L707.90,558.10 L708.40,558.10 L708.90,558.10 L709.40,558.10 L709.90,558.10 L710.40,558.10 L710.90,558.10 L711.40,558.10 L711.90,558.10 L712.40,558.10 L712.90,558.10 L713.40,558.10" fill="none" stroke="#138a13" stroke-width="1.7" stroke-linejoin="round"/>
<path d="M417.90,553.51 L418.40,552.99 L418.90,552.44 L419.40,551.85 L419.90,551.23 L420.40,550.57 L420.90,549.88 L421.40,549.15 L421.90,548.39 L422.40,547.61 L422.90,546.79 L423.40,545.95 L423.90,545.09 L424.40,544.21 L424.90,543.31 L425.40,542.39 L425.90,541.47 L426.40,540.53 L426.90,539.59 L427.40,538.64 L427.90,537.70 L428.40,536.75 L428.90,535.80 L429.40,534.86 L429.90,533.92 L430.40,532.98 L430.90,532.04 L431.40,531.10 L431.90,530.17 L432.40,529.23 L432.90,528.28 L433.40,527.32 L433.90,526.35 L434.40,525.36 L434.90,524.34 L435.40,523.30 L435.90,522.21 L436.40,521.09 L436.90,519.91 L437.40,518.68 L437.90,517.39 L438.40,516.02 L438.90,514.59 L439.40,513.07 L439.90,511.48 L440.40,509.80 L440.90,508.03 L441.40,506.17 L441.90,504.22 L442.40,502.19 L442.90,500.07 L443.40,497.86 L443.90,495.59 L444.40,493.24 L444.90,490.82 L445.40,488.36 L445.90,485.84 L446.40,483.30 L446.90,480.72 L447.40,478.13 L447.90,475.54 L448.40,472.96 L448.90,470.39 L449.40,467.85 L449.90,465.36 L450.40,462.91 L450.90,460.52 L451.40,458.20 L451.90,455.95 L452.40,453.78 L452.90,451.69 L453.40,449.69 L453.90,447.78 L454.40,445.96 L454.90,444.24 L455.40,442.60 L455.90,441.05 L456.40,439.60 L456.90,438.22 L457.40,436.93 L457.90,435.71 L458.40,434.56 L458.90,433.47 L459.40,432.45 L459.90,431.47 L460.40,430.54 L460.90,429.65 L461.40,428.78 L461.90,427.94 L462.40,427.11 L462.90,426.28 L463.40,425.46 L463.90,424.62 L464.40,423.75 L464.90,422.86 L465.40,421.94 L465.90,420.96 L466.40,419.93 L466.90,418.83 L467.40,417.67 L467.90,416.42 L468.40,415.09 L468.90,413.67 L469.40,412.15 L469.90,410.52 L470.40,408.80 L470.90,406.96 L471.40,405.02 L471.90,402.98 L472.40,400.83 L472.90,398.57 L473.40,396.22 L473.90,393.79 L474.40,391.27 L474.90,388.67 L475.40,386.02 L475.90,383.31 L476.40,380.56 L476.90,377.79 L477.40,375.01 L477.90,372.23 L478.40,369.47 L478.90,366.74 L479.40,364.07 L479.90,361.46 L480.40,358.93 L480.90,356.50 L481.40,354.18 L481.90,351.99 L482.40,349.94 L482.90,348.05 L483.40,346.33 L483.90,344.78 L484.40,343.44 L484.90,342.30 L485.40,341.37 L485.90,340.68 L486.40,340.22 L486.90,340.01 L487.40,340.05 L487.90,340.35 L488.40,340.92 L488.90,341.77 L489.40,342.88 L489.90,344.28 L490.40,345.96 L490.90,347.91 L491.40,350.14 L491.90,352.64 L492.40,355.40 L492.90,358.42 L493.40,361.69 L493.90,365.20 L494.40,368.93 L494.90,372.87 L495.40,376.99 L495.90,381.30 L496.40,385.76 L496.90,390.35 L497.40,395.07 L497.90,399.89 L498.40,404.78 L498.90,409.74 L499.40,414.73 L499.90,419.76 L500.40,424.80 L500.90,429.83 L501.40,434.84 L501.90,439.83 L502.40,444.78 L502.90,449.68 L503.40,454.53 L503.90,459.32 L504.40,464.04 L504.90,468.69 L505.40,473.27 L505.90,477.76 L506.40,482.18 L506.90,486.51 L507.40,490.74 L507.90,494.89 L508.40,498.93 L508.90,502.86 L509.40,506.68 L509.90,510.39 L510.40,513.96 L510.90,517.41 L511.40,520.72 L511.90,523.88 L512.40,526.89 L512.90,529.74 L513.40,532.43 L513.90,534.95 L514.40,537.31 L514.90,539.50 L515.40,541.52 L515.90,543.38 L516.40,545.07 L516.90,546.60 L517.40,547.98 L517.90,549.21 L518.40,550.30 L518.90,551.25 L519.40,552.09 L519.90,552.80 L520.40,553.42 L520.90,553.94 L521.40,554.38 L521.90,554.74 L522.40,555.03 L522.90,555.27 L523.40,555.47 L523.90,555.62 L524.40,555.74 L524.90,555.84 L525.40,555.92 L525.90,555.98 L526.40,556.04 L526.90,556.09 L527.40,556.14 L527.90,556.19 L528.40,556.25 L528.90,556.30 L529.40,556.36 L529.90,556.43 L530.40,556.50 L530.90,556.58 L531.40,556.66 L531.90,556.75 L532.40,556.84 L532.90,556.93 L533.40,557.02 L533.90,557.11 L534.40,557.19 L534.90,557.28 L535.40,557.36 L535.90,557.44 L536.40,557.51 L536.90,557.58 L537.40,557.65 L537.90,557.70 L538.40,557.76 L538.90,557.81 L539.40,557.85 L539.90,557.89 L540.40,557.92 L540.90,557.95 L541.40,557.97 L541.90,558.00 L542.40,558.01 L542.90,558.03 L543.40,558.04 L543.90,558.05 L544.40,558.06 L544.90,558.07 L545.40,558.07 L545.90,558.07 L546.40,558.08 L546.90,558.08 L547.40,558.08 L547.90,558.08 L548.40,558.07 L548.90,558.07 L549.40,558.07 L549.90,558.06 L550.40,558.05 L550.90,558.05 L551.40,558.04 L551.90,558.03 L552.40,558.02 L552.90,558.01 L553.40,558.00 L553.90,557.98 L554.40,557.97 L554.90,557.95 L555.40,557.94 L555.90,557.92 L556.40,557.90 L556.90,557.89 L557.40,557.87 L557.90,557.85 L558.40,557.83 L558.90,557.81 L559.40,557.79 L559.90,557.77 L560.40,557.75 L560.90,557.74 L561.40,557.72 L561.90,557.70 L562.40,557.68 L562.90,557.66 L563.40,557.64 L563.90,557.61 L564.40,557.59 L564.90,557.56 L565.40,557.53 L565.90,557.50 L566.40,557.47 L566.90,557.42 L567.40,557.38 L567.90,557.33 L568.40,557.27 L568.90,557.21 L569.40,557.13 L569.90,557.05 L570.40,556.97 L570.90,556.87 L571.40,556.76 L571.90,556.65 L572.40,556.52 L572.90,556.38 L573.40,556.23 L573.90,556.07 L574.40,555.89 L574.90,555.70 L575.40,555.49 L575.90,555.27 L576.40,555.02 L576.90,554.76 L577.40,554.47 L577.90,554.16 L578.40,553.82 L578.90,553.45 L579.40,553.05 L579.90,552.61 L580.40,552.13 L580.90,551.61 L581.40,551.05 L581.90,550.44 L582.40,549.77 L582.90,549.06 L583.40,548.29 L583.90,547.46 L584.40,546.57 L584.90,545.63 L585.40,544.63 L585.90,543.56 L586.40,542.44 L586.90,541.26 L587.40,540.03 L587.90,538.75 L588.40,537.42 L588.90,536.05 L589.40,534.64 L589.90,533.20 L590.40,531.73 L590.90,530.23 L591.40,528.73 L591.90,527.21 L592.40,525.68 L592.90,524.16 L593.40,522.64 L593.90,521.13 L594.40,519.64 L594.90,518.17 L595.40,516.72 L595.90,515.29 L596.40,513.88 L596.90,512.50 L597.40,511.15 L597.90,509.82 L598.40,508.52 L598.90,507.24 L599.40,505.97 L599.90,504.73 L600.40,503.50 L600.90,502.28 L601.40,501.08 L601.90,499.88 L602.40,498.68 L602.90,497.49 L603.40,496.30 L603.90,495.11 L604.40,493.93 L604.90,492.74 L605.40,491.56 L605.90,490.38 L606.40,489.20 L606.90,488.03 L607.40,486.87 L607.90,485.72 L608.40,484.59 L608.90,483.48 L609.40,482.39 L609.90,481.33 L610.40,480.29 L610.90,479.28 L611.40,478.31 L611.90,477.37 L612.40,476.46 L612.90,475.58 L613.40,474.74 L613.90,473.92 L614.40,473.14 L614.90,472.38 L615.40,471.64 L615.90,470.93 L616.40,470.22 L616.90,469.53 L617.40,468.84 L617.90,468.15 L618.40,467.46 L618.90,466.76 L619.40,466.05 L619.90,465.33 L620.40,464.58 L620.90,463.81 L621.40,463.03 L621.90,462.21 L622.40,461.38 L622.90,460.52 L623.40,459.65 L623.90,458.75 L624.40,457.85 L624.90,456.93 L625.40,456.01 L625.90,455.10 L626.40,454.18 L626.90,453.29 L627.40,452.41 L627.90,451.56 L628.40,450.74 L628.90,449.96 L629.40,449.23 L629.90,448.55 L630.40,447.92 L630.90,447.36 L631.40,446.87 L631.90,446.44 L632.40,446.09 L632.90,445.82 L633.40,445.63 L633.90,445.53 L634.40,445.51 L634.90,445.57 L635.40,445.73 L635.90,445.98 L636.40,446.31 L636.90,446.74 L637.40,447.27 L637.90,447.89 L638.40,448.60 L638.90,449.42 L639.40,450.33 L639.90,451.35 L640.40,452.47 L640.90,453.69 L641.40,455.02 L641.90,456.46 L642.40,458.00 L642.90,459.65 L643.40,461.41 L643.90,463.28 L644.40,465.25 L644.90,467.33 L645.40,469.50 L645.90,471.77 L646.40,474.13 L646.90,476.57 L647.40,479.09 L647.90,481.68 L648.40,484.33 L648.90,487.02 L649.40,489.76 L649.90,492.52 L650.40,495.30 L650.90,498.09 L651.40,500.87 L651.90,503.63 L652.40,506.36 L652.90,509.06 L653.40,511.70 L653.90,514.29 L654.40,516.80 L654.90,519.25 L655.40,521.61 L655.90,523.88 L656.40,526.07 L656.90,528.16 L657.40,530.15 L657.90,532.04 L658.40,533.83 L658.90,535.53 L659.40,537.12 L659.90,538.62 L660.40,540.03 L660.90,541.35 L661.40,542.58 L661.90,543.73 L662.40,544.80 L662.90,545.80 L663.40,546.72 L663.90,547.58 L664.40,548.38 L664.90,549.12 L665.40,549.80 L665.90,550.43 L666.40,551.02 L666.90,551.56 L667.40,552.06 L667.90,552.52 L668.40,552.95 L668.90,553.34 L669.40,553.71 L669.90,554.04 L670.40,554.35 L670.90,554.64 L671.40,554.91 L671.90,555.15 L672.40,555.38 L672.90,555.59 L673.40,555.79 L673.90,555.97 L674.40,556.14 L674.90,556.30 L675.40,556.44 L675.90,556.58 L676.40,556.71 L676.90,556.83 L677.40,556.94 L677.90,557.04 L678.40,557.14 L678.90,557.23 L679.40,557.31 L679.90,557.39 L680.40,557.47 L680.90,557.53 L681.40,557.59 L681.90,557.65 L682.40,557.70 L682.90,557.75 L683.40,557.79 L683.90,557.83 L684.40,557.87 L684.90,557.90 L685.40,557.93 L685.90,557.95 L686.40,557.98 L686.90,558.00 L687.40,558.01 L687.90,558.03 L688.40,558.04 L688.90,558.05 L689.40,558.06 L689.90,558.07 L690.40,558.07 L690.90,558.08 L691.40,558.08 L691.90,558.09 L692.40,558.09 L692.90,558.09 L693.40,558.09 L693.90,558.09 L694.40,558.10 L694.90,558.10 L695.40,558.10 L695.90,558.10 L696.40,558.10 L696.90,558.10 L697.40,558.10 L697.90,558.10 L698.40,558.10 L698.90,558.10 L699.40,558.10 L699.90,558.10 L700.40,558.10 L700.90,558.10 L701.40,558.10 L701.90,558.10 L702.40,558.10 L702.90,558.10 L703.40,558.10 L703.90,558.10 L704.40,558.10 L704.90,558.10 L705.40,558.10 L705.90,558.10 L706.40,558.10 L706.90,558.10 L707.40,558.10 L707.90,558.10 L708.40,558.10 L708.90,558.10 L709.40,558.10 L709.90,558.10 L710.40,558.10 L710.90,558.10 L711.40,558.10 L711.90,558.10 L712.40,558.10 L712.90,558.10 L713.40,558.10" fill="none" stroke="#ff1aff" stroke-width="1.7" stroke-linejoin="round"/>
<path d="M417.90,555.12 L418.40,554.98 L418.90,554.83 L419.40,554.65 L419.90,554.45 L420.40,554.24 L420.90,553.99 L421.40,553.73 L421.90,553.44 L422.40,553.12 L422.90,552.78 L423.40,552.42 L423.90,552.03 L424.40,551.61 L424.90,551.17 L425.40,550.71 L425.90,550.22 L426.40,549.70 L426.90,549.16 L427.40,548.60 L427.90,548.02 L428.40,547.42 L428.90,546.80 L429.40,546.16 L429.90,545.50 L430.40,544.84 L430.90,544.15 L431.40,543.46 L431.90,542.76 L432.40,542.05 L432.90,541.33 L433.40,540.61 L433.90,539.89 L434.40,539.17 L434.90,538.44 L435.40,537.72 L435.90,536.99 L436.40,536.27 L436.90,535.55 L437.40,534.84 L437.90,534.13 L438.40,533.42 L438.90,532.72 L439.40,532.02 L439.90,531.32 L440.40,530.62 L440.90,529.92 L441.40,529.22 L441.90,528.52 L442.40,527.81 L442.90,527.10 L443.40,526.39 L443.90,525.66 L444.40,524.93 L444.90,524.18 L445.40,523.42 L445.90,522.65 L446.40,521.87 L446.90,521.06 L447.40,520.25 L447.90,519.41 L448.40,518.56 L448.90,517.69 L449.40,516.80 L449.90,515.90 L450.40,514.97 L450.90,514.04 L451.40,513.08 L451.90,512.11 L452.40,511.13 L452.90,510.13 L453.40,509.12 L453.90,508.10 L454.40,507.06 L454.90,506.02 L455.40,504.96 L455.90,503.90 L456.40,502.82 L456.90,501.74 L457.40,500.65 L457.90,499.55 L458.40,498.44 L458.90,497.31 L459.40,496.18 L459.90,495.04 L460.40,493.89 L460.90,492.72 L461.40,491.54 L461.90,490.34 L462.40,489.14 L462.90,487.92 L463.40,486.68 L463.90,485.43 L464.40,484.16 L464.90,482.88 L465.40,481.59 L465.90,480.29 L466.40,478.97 L466.90,477.65 L467.40,476.31 L467.90,474.97 L468.40,473.62 L468.90,472.28 L469.40,470.92 L469.90,469.57 L470.40,468.22 L470.90,466.88 L471.40,465.54 L471.90,464.20 L472.40,462.87 L472.90,461.55 L473.40,460.24 L473.90,458.94 L474.40,457.65 L474.90,456.36 L475.40,455.09 L475.90,453.82 L476.40,452.57 L476.90,451.32 L477.40,450.08 L477.90,448.86 L478.40,447.64 L478.90,446.44 L479.40,445.26 L479.90,444.10 L480.40,442.95 L480.90,441.84 L481.40,440.75 L481.90,439.70 L482.40,438.69 L482.90,437.74 L483.40,436.84 L483.90,436.00 L484.40,435.23 L484.90,434.55 L485.40,433.95 L485.90,433.45 L486.40,433.06 L486.90,432.77 L487.40,432.61 L487.90,432.56 L488.40,432.65 L488.90,432.87 L489.40,433.22 L489.90,433.71 L490.40,434.33 L490.90,435.09 L491.40,435.98 L491.90,437.01 L492.40,438.15 L492.90,439.41 L493.40,440.79 L493.90,442.26 L494.40,443.83 L494.90,445.49 L495.40,447.22 L495.90,449.02 L496.40,450.88 L496.90,452.78 L497.40,454.72 L497.90,456.70 L498.40,458.70 L498.90,460.71 L499.40,462.74 L499.90,464.77 L500.40,466.81 L500.90,468.84 L501.40,470.88 L501.90,472.91 L502.40,474.93 L502.90,476.95 L503.40,478.96 L503.90,480.98 L504.40,482.98 L504.90,484.99 L505.40,487.00 L505.90,489.01 L506.40,491.01 L506.90,493.02 L507.40,495.03 L507.90,497.04 L508.40,499.05 L508.90,501.05 L509.40,503.05 L509.90,505.04 L510.40,507.01 L510.90,508.96 L511.40,510.90 L511.90,512.80 L512.40,514.68 L512.90,516.51 L513.40,518.31 L513.90,520.06 L514.40,521.76 L514.90,523.41 L515.40,525.00 L515.90,526.53 L516.40,528.00 L516.90,529.41 L517.40,530.75 L517.90,532.03 L518.40,533.26 L518.90,534.42 L519.40,535.52 L519.90,536.57 L520.40,537.57 L520.90,538.52 L521.40,539.42 L521.90,540.28 L522.40,541.10 L522.90,541.88 L523.40,542.64 L523.90,543.36 L524.40,544.06 L524.90,544.74 L525.40,545.40 L525.90,546.04 L526.40,546.66 L526.90,547.26 L527.40,547.85 L527.90,548.43 L528.40,548.98 L528.90,549.52 L529.40,550.05 L529.90,550.55 L530.40,551.04 L530.90,551.51 L531.40,551.96 L531.90,552.38 L532.40,552.79 L532.90,553.16 L533.40,553.52 L533.90,553.85 L534.40,554.15 L534.90,554.43 L535.40,554.68 L535.90,554.91 L536.40,555.11 L536.90,555.30 L537.40,555.46 L537.90,555.60 L538.40,555.72 L538.90,555.82 L539.40,555.91 L539.90,555.99 L540.40,556.06 L540.90,556.12 L541.40,556.17 L541.90,556.22 L542.40,556.26 L542.90,556.30 L543.40,556.34 L543.90,556.38 L544.40,556.42 L544.90,556.46 L545.40,556.51 L545.90,556.56 L546.40,556.61 L546.90,556.67 L547.40,556.73 L547.90,556.79 L548.40,556.85 L548.90,556.92 L549.40,556.99 L549.90,557.05 L550.40,557.12 L550.90,557.19 L551.40,557.26 L551.90,557.32 L552.40,557.38 L552.90,557.44 L553.40,557.50 L553.90,557.55 L554.40,557.59 L554.90,557.64 L555.40,557.67 L555.90,557.70 L556.40,557.73 L556.90,557.74 L557.40,557.76 L557.90,557.76 L558.40,557.76 L558.90,557.75 L559.40,557.74 L559.90,557.72 L560.40,557.69 L560.90,557.66 L561.40,557.62 L561.90,557.58 L562.40,557.53 L562.90,557.48 L563.40,557.42 L563.90,557.35 L564.40,557.28 L564.90,557.21 L565.40,557.13 L565.90,557.05 L566.40,556.97 L566.90,556.88 L567.40,556.79 L567.90,556.70 L568.40,556.60 L568.90,556.50 L569.40,556.40 L569.90,556.29 L570.40,556.17 L570.90,556.05 L571.40,555.92 L571.90,555.79 L572.40,555.64 L572.90,555.48 L573.40,555.31 L573.90,555.13 L574.40,554.92 L574.90,554.70 L575.40,554.46 L575.90,554.19 L576.40,553.89 L576.90,553.57 L577.40,553.21 L577.90,552.82 L578.40,552.40 L578.90,551.94 L579.40,551.45 L579.90,550.91 L580.40,550.33 L580.90,549.72 L581.40,549.06 L581.90,548.37 L582.40,547.64 L582.90,546.86 L583.40,546.05 L583.90,545.21 L584.40,544.33 L584.90,543.42 L585.40,542.48 L585.90,541.51 L586.40,540.52 L586.90,539.51 L587.40,538.48 L587.90,537.43 L588.40,536.37 L588.90,535.29 L589.40,534.21 L589.90,533.12 L590.40,532.01 L590.90,530.90 L591.40,529.79 L591.90,528.67 L592.40,527.54 L592.90,526.40 L593.40,525.25 L593.90,524.09 L594.40,522.92 L594.90,521.72 L595.40,520.51 L595.90,519.28 L596.40,518.02 L596.90,516.72 L597.40,515.40 L597.90,514.03 L598.40,512.63 L598.90,511.17 L599.40,509.67 L599.90,508.11 L600.40,506.50 L600.90,504.83 L601.40,503.10 L601.90,501.31 L602.40,499.45 L602.90,497.52 L603.40,495.53 L603.90,493.48 L604.40,491.36 L604.90,489.17 L605.40,486.93 L605.90,484.62 L606.40,482.25 L606.90,479.83 L607.40,477.35 L607.90,474.82 L608.40,472.25 L608.90,469.63 L609.40,466.97 L609.90,464.27 L610.40,461.55 L610.90,458.79 L611.40,456.00 L611.90,453.19 L612.40,450.36 L612.90,447.51 L613.40,444.65 L613.90,441.78 L614.40,438.89 L614.90,436.00 L615.40,433.10 L615.90,430.20 L616.40,427.29 L616.90,424.39 L617.40,421.49 L617.90,418.60 L618.40,415.71 L618.90,412.84 L619.40,409.98 L619.90,407.14 L620.40,404.32 L620.90,401.54 L621.40,398.78 L621.90,396.06 L622.40,393.39 L622.90,390.76 L623.40,388.20 L623.90,385.69 L624.40,383.26 L624.90,380.90 L625.40,378.63 L625.90,376.46 L626.40,374.38 L626.90,372.41 L627.40,370.55 L627.90,368.82 L628.40,367.21 L628.90,365.72 L629.40,364.38 L629.90,363.17 L630.40,362.10 L630.90,361.18 L631.40,360.39 L631.90,359.75 L632.40,359.25 L632.90,358.89 L633.40,358.67 L633.90,358.58 L634.40,358.61 L634.90,358.77 L635.40,359.05 L635.90,359.44 L636.40,359.94 L636.90,360.53 L637.40,361.22 L637.90,362.01 L638.40,362.87 L638.90,363.82 L639.40,364.84 L639.90,365.94 L640.40,367.11 L640.90,368.35 L641.40,369.66 L641.90,371.04 L642.40,372.50 L642.90,374.02 L643.40,375.63 L643.90,377.31 L644.40,379.08 L644.90,380.94 L645.40,382.89 L645.90,384.94 L646.40,387.09 L646.90,389.35 L647.40,391.72 L647.90,394.20 L648.40,396.80 L648.90,399.52 L649.40,402.35 L649.90,405.31 L650.40,408.38 L650.90,411.57 L651.40,414.87 L651.90,418.27 L652.40,421.78 L652.90,425.39 L653.40,429.08 L653.90,432.85 L654.40,436.69 L654.90,440.60 L655.40,444.54 L655.90,448.53 L656.40,452.54 L656.90,456.57 L657.40,460.59 L657.90,464.61 L658.40,468.60 L658.90,472.56 L659.40,476.47 L659.90,480.32 L660.40,484.10 L660.90,487.80 L661.40,491.42 L661.90,494.94 L662.40,498.35 L662.90,501.64 L663.40,504.82 L663.90,507.88 L664.40,510.80 L664.90,513.59 L665.40,516.25 L665.90,518.77 L666.40,521.15 L666.90,523.39 L667.40,525.51 L667.90,527.48 L668.40,529.33 L668.90,531.05 L669.40,532.66 L669.90,534.14 L670.40,535.52 L670.90,536.79 L671.40,537.97 L671.90,539.06 L672.40,540.07 L672.90,541.00 L673.40,541.87 L673.90,542.68 L674.40,543.43 L674.90,544.14 L675.40,544.81 L675.90,545.45 L676.40,546.06 L676.90,546.64 L677.40,547.21 L677.90,547.76 L678.40,548.29 L678.90,548.81 L679.40,549.32 L679.90,549.83 L680.40,550.32 L680.90,550.80 L681.40,551.27 L681.90,551.74 L682.40,552.19 L682.90,552.62 L683.40,553.04 L683.90,553.45 L684.40,553.83 L684.90,554.20 L685.40,554.54 L685.90,554.87 L686.40,555.17 L686.90,555.45 L687.40,555.70 L687.90,555.93 L688.40,556.14 L688.90,556.32 L689.40,556.48 L689.90,556.62 L690.40,556.74 L690.90,556.84 L691.40,556.92 L691.90,556.99 L692.40,557.04 L692.90,557.08 L693.40,557.10 L693.90,557.12 L694.40,557.13 L694.90,557.14 L695.40,557.14 L695.90,557.13 L696.40,557.13 L696.90,557.13 L697.40,557.12 L697.90,557.12 L698.40,557.13 L698.90,557.13 L699.40,557.14 L699.90,557.15 L700.40,557.17 L700.90,557.19 L701.40,557.22 L701.90,557.25 L702.40,557.28 L702.90,557.32 L703.40,557.36 L703.90,557.40 L704.40,557.45 L704.90,557.49 L705.40,557.53 L705.90,557.58 L706.40,557.62 L706.90,557.67 L707.40,557.71 L707.90,557.75 L708.40,557.78 L708.90,557.82 L709.40,557.85 L709.90,557.88 L710.40,557.91 L710.90,557.94 L711.40,557.96 L711.90,557.98 L712.40,558.00 L712.90,558.01 L713.40,558.03" fill="none" stroke="#ffc83a" stroke-width="1.35" stroke-linejoin="round"/>
<rect x="417.90" y="319.60" width="295.50" height="238.50" fill="none" stroke="#4a4a4a" stroke-width="1.1"/>
<line x1="417.90" y1="558.10" x2="417.90" y2="561.40" stroke="#4a4a4a" stroke-width="1"/>
<text x="417.90" y="570.20" font-size="8" text-anchor="middle" fill="#333">-180</text>
<line x1="467.15" y1="558.10" x2="467.15" y2="561.40" stroke="#4a4a4a" stroke-width="1"/>
<text x="467.15" y="570.20" font-size="8" text-anchor="middle" fill="#333">-120</text>
<line x1="516.40" y1="558.10" x2="516.40" y2="561.40" stroke="#4a4a4a" stroke-width="1"/>
<text x="516.40" y="570.20" font-size="8" text-anchor="middle" fill="#333">-60</text>
<line x1="565.65" y1="558.10" x2="565.65" y2="561.40" stroke="#4a4a4a" stroke-width="1"/>
<text x="565.65" y="570.20" font-size="8" text-anchor="middle" fill="#333">0</text>
<line x1="614.90" y1="558.10" x2="614.90" y2="561.40" stroke="#4a4a4a" stroke-width="1"/>
<text x="614.90" y="570.20" font-size="8" text-anchor="middle" fill="#333">60</text>
<line x1="664.15" y1="558.10" x2="664.15" y2="561.40" stroke="#4a4a4a" stroke-width="1"/>
<text x="664.15" y="570.20" font-size="8" text-anchor="middle" fill="#333">120</text>
<line x1="713.40" y1="558.10" x2="713.40" y2="561.40" stroke="#4a4a4a" stroke-width="1"/>
<text x="713.40" y="570.20" font-size="8" text-anchor="middle" fill="#333">180</text>
<line x1="414.60" y1="558.10" x2="417.90" y2="558.10" stroke="#4a4a4a" stroke-width="1"/>
<text x="412.00" y="560.90" font-size="8" text-anchor="end" fill="#333">0.000</text>
<line x1="414.60" y1="478.60" x2="417.90" y2="478.60" stroke="#4a4a4a" stroke-width="1"/>
<text x="412.00" y="481.40" font-size="8" text-anchor="end" fill="#333">0.004</text>
<line x1="414.60" y1="399.10" x2="417.90" y2="399.10" stroke="#4a4a4a" stroke-width="1"/>
<text x="412.00" y="401.90" font-size="8" text-anchor="end" fill="#333">0.008</text>
<line x1="414.60" y1="319.60" x2="417.90" y2="319.60" stroke="#4a4a4a" stroke-width="1"/>
<text x="412.00" y="322.40" font-size="8" text-anchor="end" fill="#333">0.012</text>
<text transform="translate(381.60,439.60) rotate(-90)" font-size="20.5" text-anchor="middle" fill="#1a1a1a" textLength="171.5" lengthAdjust="spacingAndGlyphs">Probability Density</text>
<text x="497.20" y="595.70" font-size="21.7" fill="#1a1a1a" textLength="53.6" lengthAdjust="spacingAndGlyphs">Y472</text>
<text x="558.90" y="595.70" font-size="21.7" font-style="italic" fill="#1a1a1a">&#967;</text>
<text x="569.40" y="595.70" font-size="10.8" fill="#1a1a1a" textLength="8" lengthAdjust="spacingAndGlyphs">2</text>
<text x="586.70" y="595.70" font-size="21.7" fill="#1a1a1a" textLength="56.6" lengthAdjust="spacingAndGlyphs">angle</text>
<rect x="527.75" y="323.60" width="75.40" height="38.00" rx="1.5" fill="#fff" stroke="#dcdcdc" stroke-width="0.8"/>
<line x1="530.20" y1="330.10" x2="548.10" y2="330.10" stroke="#138a13" stroke-width="1.8"/>
<text x="554.70" y="332.91" font-size="7.8" fill="#262626">Active</text>
<line x1="530.20" y1="342.10" x2="548.10" y2="342.10" stroke="#ff1aff" stroke-width="1.8"/>
<text x="554.70" y="344.91" font-size="7.8" fill="#262626">Inactive</text>
<line x1="530.20" y1="354.50" x2="548.10" y2="354.50" stroke="#ffc83a" stroke-width="1.2"/>
<text x="554.70" y="357.31" font-size="7.8" fill="#262626">Intermediate</text>
<path d="M417.70,858.87 L418.20,858.87 L418.70,858.86 L419.20,858.85 L419.70,858.83 L420.20,858.82 L420.70,858.80 L421.20,858.78 L421.70,858.76 L422.20,858.73 L422.70,858.70 L423.20,858.66 L423.70,858.62 L424.20,858.57 L424.70,858.51 L425.20,858.45 L425.70,858.38 L426.20,858.31 L426.70,858.22 L427.20,858.13 L427.70,858.03 L428.20,857.92 L428.70,857.80 L429.20,857.68 L429.70,857.54 L430.20,857.39 L430.70,857.23 L431.20,857.06 L431.70,856.88 L432.20,856.69 L432.70,856.49 L433.20,856.27 L433.70,856.04 L434.20,855.79 L434.70,855.53 L435.20,855.25 L435.70,854.95 L436.20,854.63 L436.70,854.29 L437.20,853.93 L437.70,853.54 L438.20,853.13 L438.70,852.68 L439.20,852.21 L439.70,851.70 L440.20,851.16 L440.70,850.59 L441.20,849.98 L441.70,849.34 L442.20,848.66 L442.70,847.94 L443.20,847.19 L443.70,846.40 L444.20,845.58 L444.70,844.72 L445.20,843.83 L445.70,842.90 L446.20,841.95 L446.70,840.96 L447.20,839.95 L447.70,838.91 L448.20,837.84 L448.70,836.75 L449.20,835.63 L449.70,834.48 L450.20,833.31 L450.70,832.11 L451.20,830.88 L451.70,829.62 L452.20,828.32 L452.70,826.98 L453.20,825.60 L453.70,824.18 L454.20,822.70 L454.70,821.17 L455.20,819.59 L455.70,817.94 L456.20,816.22 L456.70,814.43 L457.20,812.57 L457.70,810.64 L458.20,808.62 L458.70,806.53 L459.20,804.37 L459.70,802.12 L460.20,799.80 L460.70,797.40 L461.20,794.94 L461.70,792.41 L462.20,789.82 L462.70,787.17 L463.20,784.48 L463.70,781.73 L464.20,778.95 L464.70,776.14 L465.20,773.29 L465.70,770.43 L466.20,767.54 L466.70,764.63 L467.20,761.70 L467.70,758.76 L468.20,755.80 L468.70,752.83 L469.20,749.83 L469.70,746.81 L470.20,743.76 L470.70,740.67 L471.20,737.55 L471.70,734.38 L472.20,731.17 L472.70,727.90 L473.20,724.56 L473.70,721.17 L474.20,717.72 L474.70,714.19 L475.20,710.61 L475.70,706.97 L476.20,703.27 L476.70,699.53 L477.20,695.76 L477.70,691.97 L478.20,688.17 L478.70,684.38 L479.20,680.63 L479.70,676.93 L480.20,673.32 L480.70,669.80 L481.20,666.42 L481.70,663.19 L482.20,660.15 L482.70,657.32 L483.20,654.72 L483.70,652.38 L484.20,650.33 L484.70,648.58 L485.20,647.16 L485.70,646.08 L486.20,645.36 L486.70,645.00 L487.20,645.02 L487.70,645.43 L488.20,646.21 L488.70,647.37 L489.20,648.92 L489.70,650.83 L490.20,653.09 L490.70,655.70 L491.20,658.64 L491.70,661.89 L492.20,665.43 L492.70,669.24 L493.20,673.29 L493.70,677.55 L494.20,682.02 L494.70,686.65 L495.20,691.43 L495.70,696.33 L496.20,701.32 L496.70,706.38 L497.20,711.49 L497.70,716.63 L498.20,721.78 L498.70,726.92 L499.20,732.03 L499.70,737.10 L500.20,742.12 L500.70,747.07 L501.20,751.95 L501.70,756.75 L502.20,761.46 L502.70,766.07 L503.20,770.58 L503.70,775.00 L504.20,779.31 L504.70,783.51 L505.20,787.61 L505.70,791.59 L506.20,795.47 L506.70,799.24 L507.20,802.90 L507.70,806.44 L508.20,809.87 L508.70,813.18 L509.20,816.37 L509.70,819.45 L510.20,822.40 L510.70,825.23 L511.20,827.93 L511.70,830.51 L512.20,832.95 L512.70,835.26 L513.20,837.45 L513.70,839.49 L514.20,841.41 L514.70,843.20 L515.20,844.85 L515.70,846.38 L516.20,847.79 L516.70,849.08 L517.20,850.24 L517.70,851.30 L518.20,852.26 L518.70,853.11 L519.20,853.87 L519.70,854.54 L520.20,855.13 L520.70,855.65 L521.20,856.11 L521.70,856.50 L522.20,856.84 L522.70,857.13 L523.20,857.37 L523.70,857.59 L524.20,857.76 L524.70,857.92 L525.20,858.04 L525.70,858.15 L526.20,858.24 L526.70,858.32 L527.20,858.39 L527.70,858.44 L528.20,858.49 L528.70,858.54 L529.20,858.57 L529.70,858.61 L530.20,858.64 L530.70,858.67 L531.20,858.69 L531.70,858.71 L532.20,858.73 L532.70,858.75 L533.20,858.77 L533.70,858.79 L534.20,858.80 L534.70,858.81 L535.20,858.83 L535.70,858.84 L536.20,858.85 L536.70,858.85 L537.20,858.86 L537.70,858.87 L538.20,858.87 L538.70,858.88 L539.20,858.88 L539.70,858.89 L540.20,858.89 L540.70,858.89 L541.20,858.89 L541.70,858.89 L542.20,858.90 L542.70,858.90 L543.20,858.90 L543.70,858.90 L544.20,858.90 L544.70,858.90 L545.20,858.90 L545.70,858.90 L546.20,858.90 L546.70,858.90 L547.20,858.90 L547.70,858.90 L548.20,858.90 L548.70,858.90 L549.20,858.90 L549.70,858.90 L550.20,858.90 L550.70,858.90 L551.20,858.90 L551.70,858.90 L552.20,858.90 L552.70,858.90 L553.20,858.90 L553.70,858.90 L554.20,858.90 L554.70,858.90 L555.20,858.90 L555.70,858.90 L556.20,858.90 L556.70,858.90 L557.20,858.90 L557.70,858.90 L558.20,858.90 L558.70,858.90 L559.20,858.90 L559.70,858.90 L560.20,858.90 L560.70,858.89 L561.20,858.89 L561.70,858.89 L562.20,858.89 L562.70,858.89 L563.20,858.88 L563.70,858.88 L564.20,858.87 L564.70,858.87 L565.20,858.86 L565.70,858.86 L566.20,858.85 L566.70,858.84 L567.20,858.83 L567.70,858.82 L568.20,858.80 L568.70,858.79 L569.20,858.77 L569.70,858.75 L570.20,858.74 L570.70,858.71 L571.20,858.69 L571.70,858.67 L572.20,858.64 L572.70,858.62 L573.20,858.59 L573.70,858.56 L574.20,858.52 L574.70,858.49 L575.20,858.45 L575.70,858.42 L576.20,858.38 L576.70,858.34 L577.20,858.29 L577.70,858.25 L578.20,858.20 L578.70,858.15 L579.20,858.09 L579.70,858.03 L580.20,857.97 L580.70,857.91 L581.20,857.84 L581.70,857.76 L582.20,857.68 L582.70,857.59 L583.20,857.49 L583.70,857.39 L584.20,857.28 L584.70,857.16 L585.20,857.03 L585.70,856.90 L586.20,856.76 L586.70,856.60 L587.20,856.44 L587.70,856.27 L588.20,856.10 L588.70,855.91 L589.20,855.72 L589.70,855.52 L590.20,855.31 L590.70,855.09 L591.20,854.87 L591.70,854.65 L592.20,854.42 L592.70,854.18 L593.20,853.94 L593.70,853.70 L594.20,853.45 L594.70,853.20 L595.20,852.94 L595.70,852.68 L596.20,852.41 L596.70,852.14 L597.20,851.85 L597.70,851.56 L598.20,851.26 L598.70,850.95 L599.20,850.63 L599.70,850.29 L600.20,849.93 L600.70,849.56 L601.20,849.17 L601.70,848.76 L602.20,848.33 L602.70,847.87 L603.20,847.39 L603.70,846.88 L604.20,846.35 L604.70,845.79 L605.20,845.20 L605.70,844.58 L606.20,843.94 L606.70,843.26 L607.20,842.56 L607.70,841.83 L608.20,841.08 L608.70,840.30 L609.20,839.49 L609.70,838.67 L610.20,837.82 L610.70,836.95 L611.20,836.06 L611.70,835.16 L612.20,834.24 L612.70,833.31 L613.20,832.36 L613.70,831.41 L614.20,830.44 L614.70,829.46 L615.20,828.47 L615.70,827.48 L616.20,826.47 L616.70,825.46 L617.20,824.44 L617.70,823.42 L618.20,822.39 L618.70,821.35 L619.20,820.31 L619.70,819.26 L620.20,818.21 L620.70,817.16 L621.20,816.10 L621.70,815.05 L622.20,813.99 L622.70,812.94 L623.20,811.90 L623.70,810.86 L624.20,809.84 L624.70,808.83 L625.20,807.84 L625.70,806.88 L626.20,805.94 L626.70,805.03 L627.20,804.15 L627.70,803.32 L628.20,802.53 L628.70,801.79 L629.20,801.10 L629.70,800.47 L630.20,799.90 L630.70,799.40 L631.20,798.96 L631.70,798.60 L632.20,798.31 L632.70,798.09 L633.20,797.96 L633.70,797.90 L634.20,797.92 L634.70,798.03 L635.20,798.21 L635.70,798.47 L636.20,798.81 L636.70,799.23 L637.20,799.72 L637.70,800.29 L638.20,800.92 L638.70,801.62 L639.20,802.39 L639.70,803.22 L640.20,804.11 L640.70,805.05 L641.20,806.05 L641.70,807.09 L642.20,808.18 L642.70,809.32 L643.20,810.49 L643.70,811.70 L644.20,812.94 L644.70,814.22 L645.20,815.51 L645.70,816.84 L646.20,818.18 L646.70,819.54 L647.20,820.91 L647.70,822.30 L648.20,823.69 L648.70,825.08 L649.20,826.47 L649.70,827.86 L650.20,829.24 L650.70,830.61 L651.20,831.96 L651.70,833.29 L652.20,834.61 L652.70,835.89 L653.20,837.15 L653.70,838.37 L654.20,839.56 L654.70,840.71 L655.20,841.83 L655.70,842.90 L656.20,843.92 L656.70,844.91 L657.20,845.84 L657.70,846.74 L658.20,847.58 L658.70,848.38 L659.20,849.14 L659.70,849.85 L660.20,850.52 L660.70,851.15 L661.20,851.74 L661.70,852.29 L662.20,852.80 L662.70,853.28 L663.20,853.73 L663.70,854.14 L664.20,854.53 L664.70,854.89 L665.20,855.23 L665.70,855.54 L666.20,855.83 L666.70,856.10 L667.20,856.35 L667.70,856.59 L668.20,856.81 L668.70,857.01 L669.20,857.20 L669.70,857.37 L670.20,857.53 L670.70,857.67 L671.20,857.81 L671.70,857.93 L672.20,858.05 L672.70,858.15 L673.20,858.24 L673.70,858.33 L674.20,858.40 L674.70,858.47 L675.20,858.53 L675.70,858.58 L676.20,858.63 L676.70,858.67 L677.20,858.71 L677.70,858.74 L678.20,858.77 L678.70,858.79 L679.20,858.81 L679.70,858.82 L680.20,858.84 L680.70,858.85 L681.20,858.86 L681.70,858.87 L682.20,858.87 L682.70,858.88 L683.20,858.88 L683.70,858.89 L684.20,858.89 L684.70,858.89 L685.20,858.89 L685.70,858.90 L686.20,858.90 L686.70,858.90 L687.20,858.90 L687.70,858.90 L688.20,858.90 L688.70,858.90 L689.20,858.90 L689.70,858.90 L690.20,858.90 L690.70,858.90 L691.20,858.90 L691.70,858.90 L692.20,858.90 L692.70,858.90 L693.20,858.90 L693.70,858.90 L694.20,858.90 L694.70,858.90 L695.20,858.90 L695.70,858.90 L696.20,858.90 L696.70,858.90 L697.20,858.90 L697.70,858.90 L698.20,858.90 L698.70,858.90 L699.20,858.90 L699.70,858.90 L700.20,858.90 L700.70,858.90 L701.20,858.90 L701.70,858.90 L702.20,858.90 L702.70,858.90 L703.20,858.90 L703.70,858.90 L704.20,858.90 L704.70,858.90 L705.20,858.90 L705.70,858.90 L706.20,858.90 L706.70,858.90 L707.20,858.90 L707.70,858.90 L708.20,858.90 L708.70,858.90 L709.20,858.90 L709.70,858.90 L710.20,858.90 L710.70,858.90 L711.20,858.90 L711.70,858.90 L712.20,858.90 L712.70,858.90 L713.20,858.90" fill="none" stroke="#138a13" stroke-width="1.7" stroke-linejoin="round"/>
<path d="M417.70,858.82 L418.20,858.81 L418.70,858.80 L419.20,858.79 L419.70,858.78 L420.20,858.76 L420.70,858.75 L421.20,858.73 L421.70,858.71 L422.20,858.70 L422.70,858.68 L423.20,858.65 L423.70,858.63 L424.20,858.60 L424.70,858.57 L425.20,858.53 L425.70,858.49 L426.20,858.45 L426.70,858.39 L427.20,858.33 L427.70,858.26 L428.20,858.18 L428.70,858.09 L429.20,857.98 L429.70,857.86 L430.20,857.73 L430.70,857.57 L431.20,857.40 L431.70,857.21 L432.20,856.99 L432.70,856.75 L433.20,856.49 L433.70,856.21 L434.20,855.91 L434.70,855.58 L435.20,855.22 L435.70,854.85 L436.20,854.45 L436.70,854.03 L437.20,853.60 L437.70,853.15 L438.20,852.68 L438.70,852.19 L439.20,851.70 L439.70,851.19 L440.20,850.68 L440.70,850.16 L441.20,849.64 L441.70,849.12 L442.20,848.59 L442.70,848.07 L443.20,847.54 L443.70,847.02 L444.20,846.50 L444.70,845.98 L445.20,845.46 L445.70,844.93 L446.20,844.41 L446.70,843.88 L447.20,843.34 L447.70,842.80 L448.20,842.24 L448.70,841.67 L449.20,841.09 L449.70,840.49 L450.20,839.86 L450.70,839.22 L451.20,838.55 L451.70,837.86 L452.20,837.14 L452.70,836.39 L453.20,835.62 L453.70,834.82 L454.20,833.99 L454.70,833.13 L455.20,832.26 L455.70,831.35 L456.20,830.43 L456.70,829.49 L457.20,828.53 L457.70,827.55 L458.20,826.56 L458.70,825.56 L459.20,824.55 L459.70,823.53 L460.20,822.51 L460.70,821.49 L461.20,820.46 L461.70,819.42 L462.20,818.39 L462.70,817.35 L463.20,816.31 L463.70,815.27 L464.20,814.22 L464.70,813.16 L465.20,812.10 L465.70,811.04 L466.20,809.96 L466.70,808.87 L467.20,807.77 L467.70,806.66 L468.20,805.54 L468.70,804.40 L469.20,803.25 L469.70,802.08 L470.20,800.90 L470.70,799.71 L471.20,798.51 L471.70,797.30 L472.20,796.08 L472.70,794.86 L473.20,793.63 L473.70,792.42 L474.20,791.20 L474.70,790.00 L475.20,788.82 L475.70,787.65 L476.20,786.51 L476.70,785.40 L477.20,784.32 L477.70,783.28 L478.20,782.28 L478.70,781.33 L479.20,780.42 L479.70,779.58 L480.20,778.78 L480.70,778.05 L481.20,777.39 L481.70,776.78 L482.20,776.25 L482.70,775.79 L483.20,775.39 L483.70,775.08 L484.20,774.83 L484.70,774.66 L485.20,774.56 L485.70,774.54 L486.20,774.59 L486.70,774.72 L487.20,774.92 L487.70,775.19 L488.20,775.54 L488.70,775.96 L489.20,776.44 L489.70,776.99 L490.20,777.61 L490.70,778.29 L491.20,779.03 L491.70,779.83 L492.20,780.69 L492.70,781.60 L493.20,782.56 L493.70,783.57 L494.20,784.63 L494.70,785.73 L495.20,786.88 L495.70,788.06 L496.20,789.28 L496.70,790.54 L497.20,791.83 L497.70,793.16 L498.20,794.51 L498.70,795.90 L499.20,797.32 L499.70,798.77 L500.20,800.25 L500.70,801.76 L501.20,803.30 L501.70,804.87 L502.20,806.47 L502.70,808.10 L503.20,809.76 L503.70,811.44 L504.20,813.16 L504.70,814.90 L505.20,816.66 L505.70,818.44 L506.20,820.24 L506.70,822.05 L507.20,823.87 L507.70,825.70 L508.20,827.52 L508.70,829.34 L509.20,831.14 L509.70,832.91 L510.20,834.66 L510.70,836.38 L511.20,838.05 L511.70,839.67 L512.20,841.23 L512.70,842.74 L513.20,844.18 L513.70,845.54 L514.20,846.84 L514.70,848.05 L515.20,849.18 L515.70,850.24 L516.20,851.21 L516.70,852.10 L517.20,852.91 L517.70,853.65 L518.20,854.31 L518.70,854.90 L519.20,855.42 L519.70,855.89 L520.20,856.29 L520.70,856.64 L521.20,856.94 L521.70,857.19 L522.20,857.41 L522.70,857.59 L523.20,857.75 L523.70,857.87 L524.20,857.98 L524.70,858.07 L525.20,858.14 L525.70,858.19 L526.20,858.24 L526.70,858.28 L527.20,858.32 L527.70,858.35 L528.20,858.38 L528.70,858.40 L529.20,858.43 L529.70,858.45 L530.20,858.48 L530.70,858.50 L531.20,858.53 L531.70,858.55 L532.20,858.58 L532.70,858.60 L533.20,858.62 L533.70,858.65 L534.20,858.67 L534.70,858.69 L535.20,858.72 L535.70,858.74 L536.20,858.75 L536.70,858.77 L537.20,858.79 L537.70,858.80 L538.20,858.82 L538.70,858.83 L539.20,858.84 L539.70,858.85 L540.20,858.86 L540.70,858.86 L541.20,858.87 L541.70,858.88 L542.20,858.88 L542.70,858.88 L543.20,858.89 L543.70,858.89 L544.20,858.89 L544.70,858.89 L545.20,858.90 L545.70,858.90 L546.20,858.90 L546.70,858.90 L547.20,858.90 L547.70,858.90 L548.20,858.90 L548.70,858.90 L549.20,858.90 L549.70,858.90 L550.20,858.90 L550.70,858.90 L551.20,858.90 L551.70,858.90 L552.20,858.90 L552.70,858.90 L553.20,858.90 L553.70,858.90 L554.20,858.90 L554.70,858.90 L555.20,858.90 L555.70,858.90 L556.20,858.90 L556.70,858.90 L557.20,858.90 L557.70,858.90 L558.20,858.90 L558.70,858.90 L559.20,858.90 L559.70,858.89 L560.20,858.89 L560.70,858.89 L561.20,858.89 L561.70,858.89 L562.20,858.88 L562.70,858.88 L563.20,858.87 L563.70,858.87 L564.20,858.86 L564.70,858.86 L565.20,858.85 L565.70,858.84 L566.20,858.83 L566.70,858.82 L567.20,858.80 L567.70,858.79 L568.20,858.77 L568.70,858.75 L569.20,858.73 L569.70,858.71 L570.20,858.69 L570.70,858.66 L571.20,858.63 L571.70,858.60 L572.20,858.57 L572.70,858.54 L573.20,858.50 L573.70,858.45 L574.20,858.41 L574.70,858.36 L575.20,858.30 L575.70,858.24 L576.20,858.17 L576.70,858.09 L577.20,858.01 L577.70,857.91 L578.20,857.80 L578.70,857.69 L579.20,857.55 L579.70,857.41 L580.20,857.24 L580.70,857.06 L581.20,856.86 L581.70,856.64 L582.20,856.40 L582.70,856.14 L583.20,855.85 L583.70,855.54 L584.20,855.21 L584.70,854.85 L585.20,854.46 L585.70,854.05 L586.20,853.62 L586.70,853.16 L587.20,852.68 L587.70,852.17 L588.20,851.64 L588.70,851.10 L589.20,850.53 L589.70,849.94 L590.20,849.34 L590.70,848.73 L591.20,848.10 L591.70,847.46 L592.20,846.80 L592.70,846.14 L593.20,845.47 L593.70,844.79 L594.20,844.09 L594.70,843.39 L595.20,842.68 L595.70,841.95 L596.20,841.21 L596.70,840.46 L597.20,839.68 L597.70,838.89 L598.20,838.07 L598.70,837.22 L599.20,836.34 L599.70,835.43 L600.20,834.48 L600.70,833.48 L601.20,832.43 L601.70,831.34 L602.20,830.18 L602.70,828.97 L603.20,827.70 L603.70,826.36 L604.20,824.96 L604.70,823.48 L605.20,821.93 L605.70,820.32 L606.20,818.62 L606.70,816.86 L607.20,815.03 L607.70,813.12 L608.20,811.14 L608.70,809.10 L609.20,806.99 L609.70,804.83 L610.20,802.60 L610.70,800.32 L611.20,797.98 L611.70,795.60 L612.20,793.17 L612.70,790.71 L613.20,788.20 L613.70,785.66 L614.20,783.10 L614.70,780.50 L615.20,777.89 L615.70,775.25 L616.20,772.59 L616.70,769.93 L617.20,767.25 L617.70,764.56 L618.20,761.86 L618.70,759.17 L619.20,756.47 L619.70,753.78 L620.20,751.09 L620.70,748.42 L621.20,745.75 L621.70,743.11 L622.20,740.49 L622.70,737.89 L623.20,735.33 L623.70,732.80 L624.20,730.31 L624.70,727.88 L625.20,725.50 L625.70,723.17 L626.20,720.92 L626.70,718.74 L627.20,716.64 L627.70,714.62 L628.20,712.70 L628.70,710.88 L629.20,709.16 L629.70,707.56 L630.20,706.07 L630.70,704.71 L631.20,703.47 L631.70,702.37 L632.20,701.41 L632.70,700.59 L633.20,699.92 L633.70,699.40 L634.20,699.04 L634.70,698.83 L635.20,698.78 L635.70,698.90 L636.20,699.18 L636.70,699.62 L637.20,700.24 L637.70,701.02 L638.20,701.97 L638.70,703.09 L639.20,704.37 L639.70,705.83 L640.20,707.45 L640.70,709.23 L641.20,711.18 L641.70,713.28 L642.20,715.53 L642.70,717.93 L643.20,720.47 L643.70,723.15 L644.20,725.95 L644.70,728.88 L645.20,731.91 L645.70,735.05 L646.20,738.27 L646.70,741.57 L647.20,744.95 L647.70,748.37 L648.20,751.84 L648.70,755.35 L649.20,758.87 L649.70,762.40 L650.20,765.92 L650.70,769.43 L651.20,772.91 L651.70,776.36 L652.20,779.76 L652.70,783.10 L653.20,786.38 L653.70,789.60 L654.20,792.74 L654.70,795.80 L655.20,798.78 L655.70,801.68 L656.20,804.49 L656.70,807.22 L657.20,809.87 L657.70,812.43 L658.20,814.92 L658.70,817.32 L659.20,819.64 L659.70,821.90 L660.20,824.07 L660.70,826.18 L661.20,828.21 L661.70,830.18 L662.20,832.08 L662.70,833.92 L663.20,835.68 L663.70,837.38 L664.20,839.02 L664.70,840.58 L665.20,842.08 L665.70,843.50 L666.20,844.86 L666.70,846.14 L667.20,847.35 L667.70,848.49 L668.20,849.55 L668.70,850.55 L669.20,851.47 L669.70,852.31 L670.20,853.09 L670.70,853.80 L671.20,854.45 L671.70,855.03 L672.20,855.55 L672.70,856.02 L673.20,856.43 L673.70,856.79 L674.20,857.11 L674.70,857.39 L675.20,857.63 L675.70,857.83 L676.20,858.01 L676.70,858.15 L677.20,858.28 L677.70,858.38 L678.20,858.47 L678.70,858.54 L679.20,858.59 L679.70,858.64 L680.20,858.68 L680.70,858.71 L681.20,858.73 L681.70,858.75 L682.20,858.76 L682.70,858.77 L683.20,858.78 L683.70,858.79 L684.20,858.80 L684.70,858.80 L685.20,858.81 L685.70,858.81 L686.20,858.82 L686.70,858.82 L687.20,858.83 L687.70,858.83 L688.20,858.84 L688.70,858.84 L689.20,858.85 L689.70,858.85 L690.20,858.86 L690.70,858.86 L691.20,858.86 L691.70,858.87 L692.20,858.87 L692.70,858.88 L693.20,858.88 L693.70,858.88 L694.20,858.88 L694.70,858.89 L695.20,858.89 L695.70,858.89 L696.20,858.89 L696.70,858.89 L697.20,858.89 L697.70,858.90 L698.20,858.90 L698.70,858.90 L699.20,858.90 L699.70,858.90 L700.20,858.90 L700.70,858.90 L701.20,858.90 L701.70,858.90 L702.20,858.90 L702.70,858.90 L703.20,858.90 L703.70,858.90 L704.20,858.90 L704.70,858.90 L705.20,858.90 L705.70,858.90 L706.20,858.90 L706.70,858.90 L707.20,858.90 L707.70,858.90 L708.20,858.90 L708.70,858.90 L709.20,858.90 L709.70,858.90 L710.20,858.90 L710.70,858.90 L711.20,858.90 L711.70,858.90 L712.20,858.90 L712.70,858.90 L713.20,858.90" fill="none" stroke="#ff1aff" stroke-width="1.7" stroke-linejoin="round"/>
<path d="M417.70,856.60 L418.20,856.36 L418.70,856.12 L419.20,855.86 L419.70,855.59 L420.20,855.31 L420.70,855.02 L421.20,854.73 L421.70,854.43 L422.20,854.13 L422.70,853.82 L423.20,853.51 L423.70,853.20 L424.20,852.89 L424.70,852.57 L425.20,852.25 L425.70,851.93 L426.20,851.61 L426.70,851.28 L427.20,850.95 L427.70,850.61 L428.20,850.26 L428.70,849.89 L429.20,849.52 L429.70,849.13 L430.20,848.72 L430.70,848.29 L431.20,847.83 L431.70,847.35 L432.20,846.84 L432.70,846.30 L433.20,845.72 L433.70,845.11 L434.20,844.46 L434.70,843.78 L435.20,843.06 L435.70,842.29 L436.20,841.50 L436.70,840.66 L437.20,839.78 L437.70,838.87 L438.20,837.93 L438.70,836.95 L439.20,835.94 L439.70,834.91 L440.20,833.85 L440.70,832.76 L441.20,831.65 L441.70,830.53 L442.20,829.38 L442.70,828.23 L443.20,827.06 L443.70,825.87 L444.20,824.68 L444.70,823.47 L445.20,822.26 L445.70,821.03 L446.20,819.80 L446.70,818.55 L447.20,817.29 L447.70,816.01 L448.20,814.72 L448.70,813.42 L449.20,812.09 L449.70,810.74 L450.20,809.37 L450.70,807.97 L451.20,806.55 L451.70,805.10 L452.20,803.61 L452.70,802.10 L453.20,800.55 L453.70,798.97 L454.20,797.35 L454.70,795.71 L455.20,794.03 L455.70,792.32 L456.20,790.58 L456.70,788.81 L457.20,787.02 L457.70,785.20 L458.20,783.36 L458.70,781.51 L459.20,779.64 L459.70,777.75 L460.20,775.86 L460.70,773.96 L461.20,772.05 L461.70,770.15 L462.20,768.24 L462.70,766.34 L463.20,764.45 L463.70,762.56 L464.20,760.69 L464.70,758.82 L465.20,756.97 L465.70,755.13 L466.20,753.31 L466.70,751.51 L467.20,749.72 L467.70,747.96 L468.20,746.21 L468.70,744.49 L469.20,742.80 L469.70,741.13 L470.20,739.48 L470.70,737.87 L471.20,736.30 L471.70,734.75 L472.20,733.25 L472.70,731.79 L473.20,730.38 L473.70,729.02 L474.20,727.71 L474.70,726.46 L475.20,725.27 L475.70,724.14 L476.20,723.08 L476.70,722.10 L477.20,721.19 L477.70,720.36 L478.20,719.61 L478.70,718.94 L479.20,718.36 L479.70,717.87 L480.20,717.46 L480.70,717.14 L481.20,716.91 L481.70,716.77 L482.20,716.72 L482.70,716.75 L483.20,716.88 L483.70,717.09 L484.20,717.39 L484.70,717.78 L485.20,718.25 L485.70,718.81 L486.20,719.46 L486.70,720.19 L487.20,721.01 L487.70,721.91 L488.20,722.90 L488.70,723.98 L489.20,725.16 L489.70,726.42 L490.20,727.77 L490.70,729.21 L491.20,730.75 L491.70,732.38 L492.20,734.11 L492.70,735.92 L493.20,737.83 L493.70,739.83 L494.20,741.92 L494.70,744.09 L495.20,746.35 L495.70,748.68 L496.20,751.09 L496.70,753.57 L497.20,756.11 L497.70,758.70 L498.20,761.34 L498.70,764.03 L499.20,766.75 L499.70,769.49 L500.20,772.26 L500.70,775.04 L501.20,777.82 L501.70,780.60 L502.20,783.38 L502.70,786.14 L503.20,788.88 L503.70,791.60 L504.20,794.29 L504.70,796.94 L505.20,799.56 L505.70,802.14 L506.20,804.68 L506.70,807.17 L507.20,809.62 L507.70,812.03 L508.20,814.38 L508.70,816.68 L509.20,818.94 L509.70,821.14 L510.20,823.28 L510.70,825.38 L511.20,827.41 L511.70,829.38 L512.20,831.30 L512.70,833.15 L513.20,834.93 L513.70,836.65 L514.20,838.30 L514.70,839.88 L515.20,841.38 L515.70,842.81 L516.20,844.16 L516.70,845.44 L517.20,846.63 L517.70,847.75 L518.20,848.79 L518.70,849.75 L519.20,850.64 L519.70,851.45 L520.20,852.19 L520.70,852.86 L521.20,853.47 L521.70,854.01 L522.20,854.50 L522.70,854.94 L523.20,855.32 L523.70,855.66 L524.20,855.97 L524.70,856.23 L525.20,856.47 L525.70,856.67 L526.20,856.86 L526.70,857.02 L527.20,857.17 L527.70,857.30 L528.20,857.42 L528.70,857.53 L529.20,857.63 L529.70,857.73 L530.20,857.82 L530.70,857.90 L531.20,857.98 L531.70,858.06 L532.20,858.13 L532.70,858.20 L533.20,858.27 L533.70,858.33 L534.20,858.39 L534.70,858.45 L535.20,858.50 L535.70,858.55 L536.20,858.59 L536.70,858.63 L537.20,858.67 L537.70,858.70 L538.20,858.73 L538.70,858.75 L539.20,858.77 L539.70,858.79 L540.20,858.81 L540.70,858.82 L541.20,858.83 L541.70,858.84 L542.20,858.85 L542.70,858.86 L543.20,858.86 L543.70,858.86 L544.20,858.87 L544.70,858.87 L545.20,858.87 L545.70,858.87 L546.20,858.86 L546.70,858.86 L547.20,858.86 L547.70,858.86 L548.20,858.85 L548.70,858.85 L549.20,858.85 L549.70,858.84 L550.20,858.84 L550.70,858.84 L551.20,858.83 L551.70,858.83 L552.20,858.83 L552.70,858.82 L553.20,858.82 L553.70,858.82 L554.20,858.82 L554.70,858.82 L555.20,858.81 L555.70,858.81 L556.20,858.81 L556.70,858.81 L557.20,858.81 L557.70,858.80 L558.20,858.80 L558.70,858.79 L559.20,858.78 L559.70,858.77 L560.20,858.76 L560.70,858.75 L561.20,858.73 L561.70,858.70 L562.20,858.68 L562.70,858.65 L563.20,858.61 L563.70,858.57 L564.20,858.52 L564.70,858.46 L565.20,858.40 L565.70,858.33 L566.20,858.25 L566.70,858.16 L567.20,858.06 L567.70,857.96 L568.20,857.84 L568.70,857.72 L569.20,857.58 L569.70,857.44 L570.20,857.28 L570.70,857.11 L571.20,856.94 L571.70,856.75 L572.20,856.55 L572.70,856.34 L573.20,856.12 L573.70,855.89 L574.20,855.65 L574.70,855.39 L575.20,855.13 L575.70,854.85 L576.20,854.57 L576.70,854.27 L577.20,853.97 L577.70,853.65 L578.20,853.32 L578.70,852.98 L579.20,852.63 L579.70,852.27 L580.20,851.90 L580.70,851.53 L581.20,851.14 L581.70,850.74 L582.20,850.34 L582.70,849.93 L583.20,849.51 L583.70,849.09 L584.20,848.66 L584.70,848.23 L585.20,847.79 L585.70,847.35 L586.20,846.90 L586.70,846.46 L587.20,846.01 L587.70,845.56 L588.20,845.11 L588.70,844.66 L589.20,844.21 L589.70,843.76 L590.20,843.31 L590.70,842.86 L591.20,842.41 L591.70,841.96 L592.20,841.51 L592.70,841.05 L593.20,840.59 L593.70,840.13 L594.20,839.66 L594.70,839.19 L595.20,838.71 L595.70,838.22 L596.20,837.72 L596.70,837.21 L597.20,836.69 L597.70,836.16 L598.20,835.61 L598.70,835.05 L599.20,834.48 L599.70,833.89 L600.20,833.28 L600.70,832.66 L601.20,832.02 L601.70,831.37 L602.20,830.70 L602.70,830.02 L603.20,829.33 L603.70,828.63 L604.20,827.91 L604.70,827.19 L605.20,826.46 L605.70,825.72 L606.20,824.98 L606.70,824.23 L607.20,823.49 L607.70,822.75 L608.20,822.01 L608.70,821.27 L609.20,820.54 L609.70,819.82 L610.20,819.11 L610.70,818.41 L611.20,817.72 L611.70,817.05 L612.20,816.38 L612.70,815.74 L613.20,815.10 L613.70,814.48 L614.20,813.87 L614.70,813.28 L615.20,812.70 L615.70,812.14 L616.20,811.59 L616.70,811.05 L617.20,810.52 L617.70,810.00 L618.20,809.50 L618.70,809.00 L619.20,808.52 L619.70,808.05 L620.20,807.58 L620.70,807.13 L621.20,806.69 L621.70,806.27 L622.20,805.85 L622.70,805.45 L623.20,805.07 L623.70,804.70 L624.20,804.36 L624.70,804.03 L625.20,803.72 L625.70,803.44 L626.20,803.19 L626.70,802.96 L627.20,802.77 L627.70,802.60 L628.20,802.47 L628.70,802.37 L629.20,802.31 L629.70,802.29 L630.20,802.30 L630.70,802.35 L631.20,802.44 L631.70,802.57 L632.20,802.75 L632.70,802.96 L633.20,803.21 L633.70,803.50 L634.20,803.84 L634.70,804.22 L635.20,804.63 L635.70,805.09 L636.20,805.59 L636.70,806.12 L637.20,806.70 L637.70,807.32 L638.20,807.98 L638.70,808.68 L639.20,809.42 L639.70,810.20 L640.20,811.01 L640.70,811.87 L641.20,812.76 L641.70,813.68 L642.20,814.65 L642.70,815.64 L643.20,816.67 L643.70,817.73 L644.20,818.81 L644.70,819.93 L645.20,821.06 L645.70,822.21 L646.20,823.39 L646.70,824.57 L647.20,825.77 L647.70,826.97 L648.20,828.17 L648.70,829.38 L649.20,830.58 L649.70,831.78 L650.20,832.96 L650.70,834.13 L651.20,835.29 L651.70,836.42 L652.20,837.53 L652.70,838.62 L653.20,839.68 L653.70,840.71 L654.20,841.71 L654.70,842.68 L655.20,843.61 L655.70,844.50 L656.20,845.36 L656.70,846.19 L657.20,846.97 L657.70,847.72 L658.20,848.42 L658.70,849.09 L659.20,849.73 L659.70,850.32 L660.20,850.88 L660.70,851.41 L661.20,851.90 L661.70,852.35 L662.20,852.78 L662.70,853.17 L663.20,853.54 L663.70,853.88 L664.20,854.20 L664.70,854.49 L665.20,854.76 L665.70,855.02 L666.20,855.25 L666.70,855.47 L667.20,855.68 L667.70,855.87 L668.20,856.05 L668.70,856.22 L669.20,856.39 L669.70,856.54 L670.20,856.69 L670.70,856.84 L671.20,856.97 L671.70,857.11 L672.20,857.23 L672.70,857.36 L673.20,857.47 L673.70,857.59 L674.20,857.70 L674.70,857.80 L675.20,857.90 L675.70,857.99 L676.20,858.08 L676.70,858.17 L677.20,858.24 L677.70,858.32 L678.20,858.38 L678.70,858.44 L679.20,858.50 L679.70,858.55 L680.20,858.60 L680.70,858.64 L681.20,858.68 L681.70,858.71 L682.20,858.74 L682.70,858.76 L683.20,858.79 L683.70,858.81 L684.20,858.82 L684.70,858.84 L685.20,858.85 L685.70,858.86 L686.20,858.87 L686.70,858.87 L687.20,858.88 L687.70,858.88 L688.20,858.89 L688.70,858.89 L689.20,858.89 L689.70,858.89 L690.20,858.90 L690.70,858.90 L691.20,858.90 L691.70,858.90 L692.20,858.90 L692.70,858.90 L693.20,858.90 L693.70,858.90 L694.20,858.90 L694.70,858.90 L695.20,858.90 L695.70,858.90 L696.20,858.90 L696.70,858.90 L697.20,858.90 L697.70,858.90 L698.20,858.90 L698.70,858.90 L699.20,858.90 L699.70,858.90 L700.20,858.90 L700.70,858.90 L701.20,858.90 L701.70,858.90 L702.20,858.90 L702.70,858.90 L703.20,858.90 L703.70,858.90 L704.20,858.90 L704.70,858.90 L705.20,858.90 L705.70,858.90 L706.20,858.90 L706.70,858.90 L707.20,858.90 L707.70,858.90 L708.20,858.90 L708.70,858.90 L709.20,858.90 L709.70,858.90 L710.20,858.90 L710.70,858.90 L711.20,858.90 L711.70,858.90 L712.20,858.90 L712.70,858.90 L713.20,858.90" fill="none" stroke="#ffc83a" stroke-width="1.35" stroke-linejoin="round"/>
<rect x="417.70" y="620.70" width="295.70" height="238.20" fill="none" stroke="#4a4a4a" stroke-width="1.1"/>
<line x1="417.70" y1="858.90" x2="417.70" y2="862.20" stroke="#4a4a4a" stroke-width="1"/>
<text x="417.70" y="871.40" font-size="8.4" text-anchor="middle" fill="#333" textLength="22.9" lengthAdjust="spacingAndGlyphs">&#8722;180</text>
<line x1="466.98" y1="858.90" x2="466.98" y2="862.20" stroke="#4a4a4a" stroke-width="1"/>
<text x="466.98" y="871.40" font-size="8.4" text-anchor="middle" fill="#333" textLength="22.9" lengthAdjust="spacingAndGlyphs">&#8722;120</text>
<line x1="516.27" y1="858.90" x2="516.27" y2="862.20" stroke="#4a4a4a" stroke-width="1"/>
<text x="516.27" y="871.40" font-size="8.4" text-anchor="middle" fill="#333" textLength="17.6" lengthAdjust="spacingAndGlyphs">&#8722;60</text>
<line x1="565.55" y1="858.90" x2="565.55" y2="862.20" stroke="#4a4a4a" stroke-width="1"/>
<text x="565.55" y="871.40" font-size="8.4" text-anchor="middle" fill="#333" textLength="5.3" lengthAdjust="spacingAndGlyphs">0</text>
<line x1="614.83" y1="858.90" x2="614.83" y2="862.20" stroke="#4a4a4a" stroke-width="1"/>
<text x="614.83" y="871.40" font-size="8.4" text-anchor="middle" fill="#333" textLength="10.6" lengthAdjust="spacingAndGlyphs">60</text>
<line x1="664.12" y1="858.90" x2="664.12" y2="862.20" stroke="#4a4a4a" stroke-width="1"/>
<text x="664.12" y="871.40" font-size="8.4" text-anchor="middle" fill="#333" textLength="15.9" lengthAdjust="spacingAndGlyphs">120</text>
<line x1="713.40" y1="858.90" x2="713.40" y2="862.20" stroke="#4a4a4a" stroke-width="1"/>
<text x="713.40" y="871.40" font-size="8.4" text-anchor="middle" fill="#333" textLength="15.9" lengthAdjust="spacingAndGlyphs">180</text>
<line x1="414.40" y1="858.90" x2="417.70" y2="858.90" stroke="#4a4a4a" stroke-width="1"/>
<text x="412.60" y="861.90" font-size="8.4" text-anchor="end" fill="#333" textLength="18.5" lengthAdjust="spacingAndGlyphs">0.00</text>
<line x1="414.40" y1="739.80" x2="417.70" y2="739.80" stroke="#4a4a4a" stroke-width="1"/>
<text x="412.60" y="742.80" font-size="8.4" text-anchor="end" fill="#333" textLength="18.5" lengthAdjust="spacingAndGlyphs">0.01</text>
<line x1="414.40" y1="620.70" x2="417.70" y2="620.70" stroke="#4a4a4a" stroke-width="1"/>
<text x="412.60" y="623.70" font-size="8.4" text-anchor="end" fill="#333" textLength="18.5" lengthAdjust="spacingAndGlyphs">0.02</text>
<text transform="translate(382.80,746.00) rotate(-90)" font-size="20.5" text-anchor="middle" fill="#1a1a1a" textLength="171.5" lengthAdjust="spacingAndGlyphs">Probability Density</text>
<text x="496.60" y="895.60" font-size="21.7" fill="#1a1a1a" textLength="53.6" lengthAdjust="spacingAndGlyphs">Y472</text>
<text x="558.90" y="895.60" font-size="21.7" font-style="italic" fill="#1a1a1a">&#967;</text>
<text x="569.40" y="895.60" font-size="10.8" fill="#1a1a1a" textLength="8" lengthAdjust="spacingAndGlyphs">2</text>
<text x="586.40" y="895.60" font-size="21.7" fill="#1a1a1a" textLength="56.6" lengthAdjust="spacingAndGlyphs">angle</text>
<rect x="626.00" y="624.70" width="83.00" height="38.60" rx="1.5" fill="#fff" stroke="#dcdcdc" stroke-width="0.8"/>
<line x1="628.70" y1="631.30" x2="646.70" y2="631.30" stroke="#138a13" stroke-width="1.8"/>
<text x="652.80" y="634.29" font-size="8.3" fill="#262626" textLength="25.2" lengthAdjust="spacingAndGlyphs">Active</text>
<line x1="628.70" y1="643.30" x2="646.70" y2="643.30" stroke="#ff1aff" stroke-width="1.8"/>
<text x="652.80" y="646.29" font-size="8.3" fill="#262626" textLength="32.8" lengthAdjust="spacingAndGlyphs">Inactive</text>
<line x1="628.70" y1="655.60" x2="646.70" y2="655.60" stroke="#ffc83a" stroke-width="1.2"/>
<text x="652.80" y="658.59" font-size="8.3" fill="#262626" textLength="53.0" lengthAdjust="spacingAndGlyphs">Intermediate</text>
</svg>
</body></html>
